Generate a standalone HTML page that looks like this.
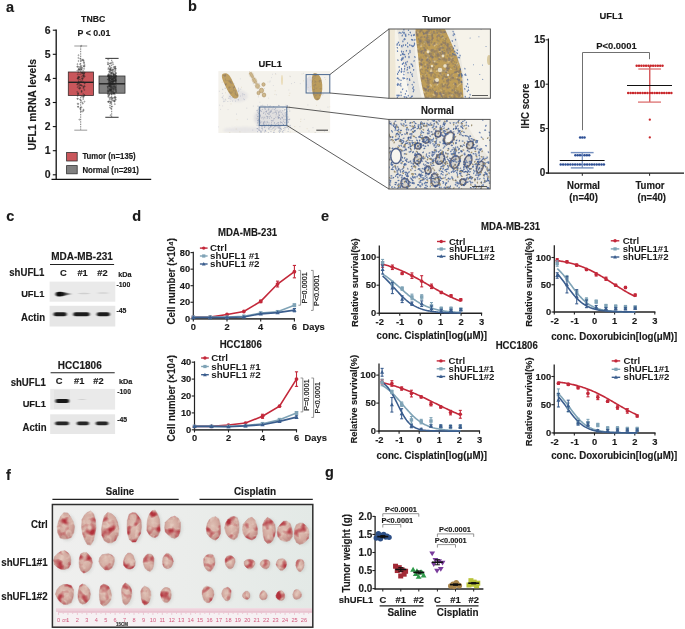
<!DOCTYPE html>
<html><head><meta charset="utf-8"><style>
html,body{margin:0;padding:0;background:#fff;}
body{width:685px;height:629px;overflow:hidden;}
svg{display:block;font-family:"Liberation Sans", sans-serif;filter:blur(0.3px);}
</style></head><body>
<svg width="685" height="629" viewBox="0 0 685 629">
<defs><clipPath id="ovc"><rect x="218.2" y="71.1" width="112.2" height="61.9"/></clipPath>
<clipPath id="tzc"><rect x="389" y="29" width="101.4" height="69.3"/></clipPath>
<clipPath id="nzc"><rect x="389" y="119.4" width="101.2" height="69.6"/></clipPath>
<filter id="bl1" x="-20%" y="-20%" width="140%" height="140%"><feGaussianBlur stdDeviation="0.6"/></filter>
<filter id="bl2" x="-20%" y="-20%" width="140%" height="140%"><feGaussianBlur stdDeviation="1.2"/></filter>
<filter id="ovtex" color-interpolation-filters="sRGB" filterUnits="userSpaceOnUse" x="215" y="68" width="118" height="68"><feGaussianBlur in="SourceGraphic" stdDeviation="0.6" result="b"/><feTurbulence type="fractalNoise" baseFrequency="0.3" numOctaves="2" seed="21" result="n"/><feColorMatrix in="n" type="matrix" values="0 0 0 0 0.55  0 0 0 0 0.47  0 0 0 0 0.38  2.4 0 0 0 -1.15" result="dk"/><feComposite in="dk" in2="b" operator="atop"/></filter>
<filter id="tztex" color-interpolation-filters="sRGB" filterUnits="userSpaceOnUse" x="385" y="25" width="110" height="78"><feGaussianBlur in="SourceGraphic" stdDeviation="0.6" result="b"/><feTurbulence type="fractalNoise" baseFrequency="0.26" numOctaves="2" seed="3" result="n"/><feColorMatrix in="n" type="matrix" values="0 0 0 0 0.52  0 0 0 0 0.45  0 0 0 0 0.40  2.6 0 0 0 -1.2" result="dk"/><feTurbulence type="fractalNoise" baseFrequency="0.3" numOctaves="1" seed="9" result="n2"/><feColorMatrix in="n2" type="matrix" values="0 0 0 0 0.95  0 0 0 0 0.9  0 0 0 0 0.78  0 3 0 0 -1.75" result="lt"/><feComposite in="lt" in2="b" operator="atop" result="c1"/><feComposite in="dk" in2="c1" operator="atop"/></filter>
<filter id="bb" x="-30%" y="-100%" width="160%" height="300%"><feGaussianBlur stdDeviation="0.9 0.6"/></filter>
<filter id="bb2" x="-30%" y="-100%" width="160%" height="300%"><feGaussianBlur stdDeviation="2 1.5"/></filter>
<linearGradient id="comet" x1="0" y1="0" x2="1" y2="0"><stop offset="0" stop-color="#0a0a0a"/><stop offset="0.45" stop-color="#151515"/><stop offset="0.75" stop-color="#8a8a8a"/><stop offset="1" stop-color="#e0e0e0"/></linearGradient>
<linearGradient id="pbg" x1="0" y1="0" x2="1" y2="0"><stop offset="0" stop-color="#efefee"/><stop offset="0.5" stop-color="#ebedeb"/><stop offset="1" stop-color="#e3e9e6"/></linearGradient>
<radialGradient id="tg" cx="0.45" cy="0.4" r="0.6"><stop offset="0" stop-color="#dfc2b6"/><stop offset="0.65" stop-color="#d2a89e"/><stop offset="1" stop-color="#c08c86"/></radialGradient>
<radialGradient id="tg2" cx="0.45" cy="0.4" r="0.6"><stop offset="0" stop-color="#eccfc4"/><stop offset="0.6" stop-color="#e0b8ad"/><stop offset="1" stop-color="#cf9a94"/></radialGradient>
<filter id="tb" x="-30%" y="-30%" width="160%" height="160%"><feGaussianBlur stdDeviation="0.8"/></filter>
<filter id="sh" x="-50%" y="-50%" width="200%" height="200%"><feGaussianBlur stdDeviation="1.5"/></filter>
<clipPath id="phc"><rect x="52.4" y="504.5" width="260.4" height="122.7"/></clipPath>
<filter id="tumtex" color-interpolation-filters="sRGB" filterUnits="userSpaceOnUse" x="52" y="504" width="261" height="104"><feTurbulence type="fractalNoise" baseFrequency="0.11" numOctaves="2" seed="5" result="n"/><feColorMatrix in="n" type="matrix" values="0 0 0 0 0.70  0 0 0 0 0.20  0 0 0 0 0.24  3.6 0 0 0 -1.8" result="red"/><feTurbulence type="fractalNoise" baseFrequency="0.2" numOctaves="2" seed="11" result="n2"/><feColorMatrix in="n2" type="matrix" values="0 0 0 0 0.91  0 0 0 0 0.82  0 0 0 0 0.77  0 2.0 0 0 -0.98" result="hi"/><feComposite in="hi" in2="SourceGraphic" operator="atop" result="a"/><feComposite in="red" in2="a" operator="atop"/></filter></defs>
<rect width="685" height="629" fill="#fff"/>
<text x="6" y="11.6" font-size="14.5" font-weight="bold" text-anchor="start" fill="#1a1a1a" transform="translate(0 -0.7) scale(1 1.06)" stroke="#1a1a1a" stroke-width="0.14">a</text>
<text x="188" y="11.2" font-size="14.5" font-weight="bold" text-anchor="start" fill="#1a1a1a" transform="translate(0 -0.67) scale(1 1.06)" stroke="#1a1a1a" stroke-width="0.14">b</text>
<text x="6.3" y="221" font-size="14.5" font-weight="bold" text-anchor="start" fill="#1a1a1a" transform="translate(0 -13.26) scale(1 1.06)" stroke="#1a1a1a" stroke-width="0.14">c</text>
<text x="132.3" y="221" font-size="14.5" font-weight="bold" text-anchor="start" fill="#1a1a1a" transform="translate(0 -13.26) scale(1 1.06)" stroke="#1a1a1a" stroke-width="0.14">d</text>
<text x="321" y="221" font-size="14.5" font-weight="bold" text-anchor="start" fill="#1a1a1a" transform="translate(0 -13.26) scale(1 1.06)" stroke="#1a1a1a" stroke-width="0.14">e</text>
<text x="6" y="480" font-size="14.5" font-weight="bold" text-anchor="start" fill="#1a1a1a" transform="translate(0 -28.8) scale(1 1.06)" stroke="#1a1a1a" stroke-width="0.14">f</text>
<text x="325" y="477.5" font-size="14.5" font-weight="bold" text-anchor="start" fill="#1a1a1a" transform="translate(0 -28.65) scale(1 1.06)" stroke="#1a1a1a" stroke-width="0.14">g</text>
<line x1="56.2" y1="29.6" x2="56.2" y2="180" stroke="#111" stroke-width="1.3"/>
<line x1="51.5" y1="179.4" x2="151.2" y2="179.4" stroke="#111" stroke-width="1.4"/>
<line x1="52.8" y1="174.8" x2="56.2" y2="174.8" stroke="#111" stroke-width="1.1"/>
<text x="50.7" y="178.5" font-size="10.5" font-weight="bold" text-anchor="end" fill="#1a1a1a" transform="translate(0 -10.71) scale(1 1.06)" stroke="#1a1a1a" stroke-width="0.14">0</text>
<line x1="52.8" y1="150.7" x2="56.2" y2="150.7" stroke="#111" stroke-width="1.1"/>
<text x="50.7" y="154.4" font-size="10.5" font-weight="bold" text-anchor="end" fill="#1a1a1a" transform="translate(0 -9.26) scale(1 1.06)" stroke="#1a1a1a" stroke-width="0.14">1</text>
<line x1="52.8" y1="126.6" x2="56.2" y2="126.6" stroke="#111" stroke-width="1.1"/>
<text x="50.7" y="130.3" font-size="10.5" font-weight="bold" text-anchor="end" fill="#1a1a1a" transform="translate(0 -7.82) scale(1 1.06)" stroke="#1a1a1a" stroke-width="0.14">2</text>
<line x1="52.8" y1="102.5" x2="56.2" y2="102.5" stroke="#111" stroke-width="1.1"/>
<text x="50.7" y="106.2" font-size="10.5" font-weight="bold" text-anchor="end" fill="#1a1a1a" transform="translate(0 -6.37) scale(1 1.06)" stroke="#1a1a1a" stroke-width="0.14">3</text>
<line x1="52.8" y1="78.4" x2="56.2" y2="78.4" stroke="#111" stroke-width="1.1"/>
<text x="50.7" y="82.1" font-size="10.5" font-weight="bold" text-anchor="end" fill="#1a1a1a" transform="translate(0 -4.93) scale(1 1.06)" stroke="#1a1a1a" stroke-width="0.14">4</text>
<line x1="52.8" y1="54.3" x2="56.2" y2="54.3" stroke="#111" stroke-width="1.1"/>
<text x="50.7" y="58" font-size="10.5" font-weight="bold" text-anchor="end" fill="#1a1a1a" transform="translate(0 -3.48) scale(1 1.06)" stroke="#1a1a1a" stroke-width="0.14">5</text>
<line x1="52.8" y1="30.2" x2="56.2" y2="30.2" stroke="#111" stroke-width="1.1"/>
<text x="50.7" y="33.9" font-size="10.5" font-weight="bold" text-anchor="end" fill="#1a1a1a" transform="translate(0 -2.03) scale(1 1.06)" stroke="#1a1a1a" stroke-width="0.14">6</text>
<text x="35.9" y="104.7" font-size="10.3" font-weight="bold" text-anchor="middle" fill="#1a1a1a" transform="translate(35.9 104.7) rotate(-90) scale(1 1.06) translate(-35.9 -104.7)" stroke="#1a1a1a" stroke-width="0.14">UFL1 mRNA levels</text>
<text x="93.2" y="22" font-size="8.7" font-weight="bold" text-anchor="middle" fill="#1a1a1a" transform="translate(0 -1.32) scale(1 1.06)" stroke="#1a1a1a" stroke-width="0.14">TNBC</text>
<text x="94" y="35.8" font-size="8.8" font-weight="bold" text-anchor="middle" fill="#1a1a1a" transform="translate(0 -2.15) scale(1 1.06)" stroke="#1a1a1a" stroke-width="0.14">P &lt; 0.01</text>
<line x1="80.7" y1="46" x2="80.7" y2="130.2" stroke="#333" stroke-width="0.8" stroke-dasharray="0.8 0.9"/>
<line x1="74.3" y1="46" x2="87.2" y2="46" stroke="#aaa" stroke-width="1.2"/>
<line x1="74.3" y1="130.2" x2="87.2" y2="130.2" stroke="#aaa" stroke-width="1.2"/>
<line x1="111.7" y1="58.4" x2="111.7" y2="117.3" stroke="#333" stroke-width="0.8" stroke-dasharray="0.8 0.9"/>
<line x1="105.3" y1="58.4" x2="118.6" y2="58.4" stroke="#444" stroke-width="1.1"/>
<line x1="105.3" y1="117.3" x2="118.6" y2="117.3" stroke="#444" stroke-width="1.1"/>
<rect x="68.3" y="72" width="25.2" height="23.4" fill="#c9565b" stroke="#3a2a2a" stroke-width="0.8"/>
<rect x="99" y="76" width="26" height="17.2" fill="#808080" stroke="#333" stroke-width="0.8"/>
<g fill="none" stroke="#2a2a2a" stroke-width="0.35">
<circle cx="82.15" cy="85.84" r="0.55"/>
<circle cx="77.75" cy="74.37" r="0.55"/>
<circle cx="77.64" cy="95.91" r="0.55"/>
<circle cx="81.06" cy="85.2" r="0.55"/>
<circle cx="77.73" cy="66.52" r="0.55"/>
<circle cx="77.89" cy="78.3" r="0.55"/>
<circle cx="78.14" cy="106.91" r="0.55"/>
<circle cx="78.9" cy="69.24" r="0.55"/>
<circle cx="81.59" cy="107.29" r="0.55"/>
<circle cx="80.21" cy="108.07" r="0.55"/>
<circle cx="83.72" cy="77.45" r="0.55"/>
<circle cx="79.4" cy="82.7" r="0.55"/>
<circle cx="79.54" cy="77.4" r="0.55"/>
<circle cx="83.4" cy="76.13" r="0.55"/>
<circle cx="82.06" cy="73.7" r="0.55"/>
<circle cx="80.03" cy="64.13" r="0.55"/>
<circle cx="77.65" cy="87.16" r="0.55"/>
<circle cx="78.77" cy="83.61" r="0.55"/>
<circle cx="79.59" cy="88.7" r="0.55"/>
<circle cx="81.65" cy="96.31" r="0.55"/>
<circle cx="83.24" cy="94.09" r="0.55"/>
<circle cx="82.51" cy="78.36" r="0.55"/>
<circle cx="81.19" cy="81.29" r="0.55"/>
<circle cx="83.85" cy="62.5" r="0.55"/>
<circle cx="84.65" cy="83.6" r="0.55"/>
<circle cx="78.1" cy="94.23" r="0.55"/>
<circle cx="78.36" cy="103.9" r="0.55"/>
<circle cx="80.92" cy="69.65" r="0.55"/>
<circle cx="83.01" cy="60.49" r="0.55"/>
<circle cx="81.55" cy="76.6" r="0.55"/>
<circle cx="82.48" cy="72.82" r="0.55"/>
<circle cx="81.72" cy="91.16" r="0.55"/>
<circle cx="83.58" cy="96.47" r="0.55"/>
<circle cx="84.38" cy="89.95" r="0.55"/>
<circle cx="77.66" cy="103.8" r="0.55"/>
<circle cx="82.53" cy="78.44" r="0.55"/>
<circle cx="83.45" cy="110.4" r="0.55"/>
<circle cx="79.36" cy="119.64" r="0.55"/>
<circle cx="77.37" cy="98.75" r="0.55"/>
<circle cx="80.71" cy="67.41" r="0.55"/>
<circle cx="77.65" cy="78.34" r="0.55"/>
<circle cx="83.04" cy="75.52" r="0.55"/>
<circle cx="80.17" cy="74.27" r="0.55"/>
<circle cx="83.82" cy="73.83" r="0.55"/>
<circle cx="81.38" cy="67.74" r="0.55"/>
<circle cx="83.91" cy="74.1" r="0.55"/>
<circle cx="79.32" cy="69.43" r="0.55"/>
<circle cx="80.36" cy="109.08" r="0.55"/>
<circle cx="84.48" cy="101.61" r="0.55"/>
<circle cx="78.35" cy="57.96" r="0.55"/>
<circle cx="78.97" cy="77.16" r="0.55"/>
<circle cx="80.89" cy="72.31" r="0.55"/>
<circle cx="77.23" cy="91.9" r="0.55"/>
<circle cx="80.38" cy="88.21" r="0.55"/>
<circle cx="84.44" cy="95.17" r="0.55"/>
<circle cx="82.45" cy="67.87" r="0.55"/>
<circle cx="82.34" cy="102.63" r="0.55"/>
<circle cx="77.61" cy="84.03" r="0.55"/>
<circle cx="83.85" cy="61.02" r="0.55"/>
<circle cx="83.26" cy="97.36" r="0.55"/>
<circle cx="77.99" cy="93.77" r="0.55"/>
<circle cx="82.02" cy="72.58" r="0.55"/>
<circle cx="78.79" cy="76.86" r="0.55"/>
<circle cx="78.43" cy="79.89" r="0.55"/>
<circle cx="77.2" cy="84.65" r="0.55"/>
<circle cx="78.35" cy="77.87" r="0.55"/>
<circle cx="77.39" cy="70.6" r="0.55"/>
<circle cx="83.84" cy="73.56" r="0.55"/>
<circle cx="79.12" cy="88.4" r="0.55"/>
<circle cx="79.84" cy="87.58" r="0.55"/>
<circle cx="83.65" cy="87.04" r="0.55"/>
<circle cx="84.75" cy="76.25" r="0.55"/>
<circle cx="77.85" cy="98.81" r="0.55"/>
<circle cx="77.98" cy="78.37" r="0.55"/>
<circle cx="83.5" cy="88.46" r="0.55"/>
<circle cx="78.43" cy="72.23" r="0.55"/>
<circle cx="81.21" cy="45.87" r="0.55"/>
<circle cx="78.31" cy="76.71" r="0.55"/>
<circle cx="81.21" cy="85.39" r="0.55"/>
<circle cx="84.64" cy="82.95" r="0.55"/>
<circle cx="79.18" cy="66.94" r="0.55"/>
<circle cx="79.99" cy="99.48" r="0.55"/>
<circle cx="81.25" cy="69.22" r="0.55"/>
<circle cx="83.12" cy="59.74" r="0.55"/>
<circle cx="83.37" cy="87.11" r="0.55"/>
<circle cx="84.69" cy="72.7" r="0.55"/>
<circle cx="83.42" cy="65.75" r="0.55"/>
<circle cx="82.82" cy="103.64" r="0.55"/>
<circle cx="79.9" cy="79.39" r="0.55"/>
<circle cx="77.42" cy="64.16" r="0.55"/>
<circle cx="79.17" cy="70.1" r="0.55"/>
<circle cx="82.46" cy="79.9" r="0.55"/>
<circle cx="84.32" cy="66.35" r="0.55"/>
<circle cx="84.71" cy="86.41" r="0.55"/>
<circle cx="78.88" cy="68.35" r="0.55"/>
<circle cx="78.92" cy="85.99" r="0.55"/>
<circle cx="81.94" cy="78.69" r="0.55"/>
<circle cx="84.04" cy="72.47" r="0.55"/>
<circle cx="82.16" cy="72.83" r="0.55"/>
<circle cx="83.28" cy="96.41" r="0.55"/>
<circle cx="84.11" cy="63.09" r="0.55"/>
<circle cx="83.15" cy="70.86" r="0.55"/>
<circle cx="78.56" cy="82" r="0.55"/>
<circle cx="83.2" cy="99.05" r="0.55"/>
<circle cx="84.58" cy="95.32" r="0.55"/>
<circle cx="80.21" cy="58.7" r="0.55"/>
<circle cx="82.71" cy="111.48" r="0.55"/>
<circle cx="78.49" cy="61" r="0.55"/>
<circle cx="84.08" cy="76.04" r="0.55"/>
<circle cx="83.33" cy="75.89" r="0.55"/>
<circle cx="84.65" cy="65.04" r="0.55"/>
<circle cx="82.2" cy="59.79" r="0.55"/>
<circle cx="78.2" cy="93.13" r="0.55"/>
<circle cx="77.31" cy="66.8" r="0.55"/>
<circle cx="81.2" cy="60.73" r="0.55"/>
<circle cx="84.3" cy="85.95" r="0.55"/>
<circle cx="83.48" cy="109.72" r="0.55"/>
<circle cx="78.8" cy="69.78" r="0.55"/>
<circle cx="79.03" cy="82.16" r="0.55"/>
<circle cx="81.66" cy="69.57" r="0.55"/>
<circle cx="78.2" cy="82.93" r="0.55"/>
<circle cx="84.12" cy="66.47" r="0.55"/>
<circle cx="81.63" cy="92.05" r="0.55"/>
<circle cx="84.07" cy="68.87" r="0.55"/>
<circle cx="81.01" cy="111.34" r="0.55"/>
<circle cx="81.24" cy="66.04" r="0.55"/>
<circle cx="80.54" cy="84.89" r="0.55"/>
<circle cx="78.59" cy="82.44" r="0.55"/>
<circle cx="78.51" cy="55.25" r="0.55"/>
<circle cx="80.8" cy="81.35" r="0.55"/>
<circle cx="79.68" cy="84.97" r="0.55"/>
<circle cx="81.14" cy="100.84" r="0.55"/>
<circle cx="78.01" cy="106.61" r="0.55"/>
<circle cx="81.46" cy="90.95" r="0.55"/>
<circle cx="83.07" cy="81.9" r="0.55"/>
<circle cx="112.06" cy="76.33" r="0.55"/>
<circle cx="115.46" cy="98.02" r="0.55"/>
<circle cx="111.52" cy="89.55" r="0.55"/>
<circle cx="112.1" cy="91.97" r="0.55"/>
<circle cx="113.62" cy="90.76" r="0.55"/>
<circle cx="111.82" cy="94.5" r="0.55"/>
<circle cx="115.71" cy="80.37" r="0.55"/>
<circle cx="115.71" cy="89.58" r="0.55"/>
<circle cx="109.98" cy="101.49" r="0.55"/>
<circle cx="114.86" cy="104.12" r="0.55"/>
<circle cx="108.95" cy="91.72" r="0.55"/>
<circle cx="108.41" cy="76.56" r="0.55"/>
<circle cx="109.82" cy="76.86" r="0.55"/>
<circle cx="114.39" cy="71.49" r="0.55"/>
<circle cx="115.34" cy="77.66" r="0.55"/>
<circle cx="113.35" cy="75.49" r="0.55"/>
<circle cx="109" cy="71.71" r="0.55"/>
<circle cx="109.64" cy="65.93" r="0.55"/>
<circle cx="115.8" cy="99.8" r="0.55"/>
<circle cx="116.11" cy="92.2" r="0.55"/>
<circle cx="114.79" cy="77.39" r="0.55"/>
<circle cx="112.13" cy="78.56" r="0.55"/>
<circle cx="110.65" cy="75.44" r="0.55"/>
<circle cx="113.87" cy="81.02" r="0.55"/>
<circle cx="107.96" cy="76.14" r="0.55"/>
<circle cx="107.95" cy="93.01" r="0.55"/>
<circle cx="110.58" cy="86.99" r="0.55"/>
<circle cx="108.34" cy="91.51" r="0.55"/>
<circle cx="116.07" cy="91.41" r="0.55"/>
<circle cx="108.68" cy="77.86" r="0.55"/>
<circle cx="110.03" cy="107.45" r="0.55"/>
<circle cx="110.07" cy="68.28" r="0.55"/>
<circle cx="108.89" cy="79.78" r="0.55"/>
<circle cx="114.68" cy="101.51" r="0.55"/>
<circle cx="109.97" cy="74.24" r="0.55"/>
<circle cx="112.59" cy="71.56" r="0.55"/>
<circle cx="113.68" cy="67.13" r="0.55"/>
<circle cx="113.58" cy="81.03" r="0.55"/>
<circle cx="111.37" cy="82.02" r="0.55"/>
<circle cx="113.13" cy="64.28" r="0.55"/>
<circle cx="114.53" cy="74.2" r="0.55"/>
<circle cx="108.36" cy="68.1" r="0.55"/>
<circle cx="115.05" cy="74.64" r="0.55"/>
<circle cx="112.45" cy="91.69" r="0.55"/>
<circle cx="115.58" cy="81.31" r="0.55"/>
<circle cx="112.23" cy="84.24" r="0.55"/>
<circle cx="109.8" cy="78.91" r="0.55"/>
<circle cx="108.22" cy="79.5" r="0.55"/>
<circle cx="109.49" cy="80.25" r="0.55"/>
<circle cx="114.18" cy="86.67" r="0.55"/>
<circle cx="110.24" cy="76.47" r="0.55"/>
<circle cx="110.71" cy="89.43" r="0.55"/>
<circle cx="107.95" cy="83.71" r="0.55"/>
<circle cx="113.96" cy="83.71" r="0.55"/>
<circle cx="112.43" cy="82.09" r="0.55"/>
<circle cx="115.65" cy="79.84" r="0.55"/>
<circle cx="108.69" cy="74.05" r="0.55"/>
<circle cx="111.96" cy="79.61" r="0.55"/>
<circle cx="114.81" cy="92.55" r="0.55"/>
<circle cx="113.58" cy="92.22" r="0.55"/>
<circle cx="116.05" cy="76.93" r="0.55"/>
<circle cx="113.74" cy="93.22" r="0.55"/>
<circle cx="113.14" cy="69.25" r="0.55"/>
<circle cx="108.26" cy="90.69" r="0.55"/>
<circle cx="108.89" cy="78.93" r="0.55"/>
<circle cx="109.95" cy="70.11" r="0.55"/>
<circle cx="109.17" cy="77.23" r="0.55"/>
<circle cx="115.11" cy="68.55" r="0.55"/>
<circle cx="113.43" cy="74.81" r="0.55"/>
<circle cx="110.26" cy="85.06" r="0.55"/>
<circle cx="111.66" cy="77.02" r="0.55"/>
<circle cx="110.01" cy="78.24" r="0.55"/>
<circle cx="115.88" cy="75.38" r="0.55"/>
<circle cx="109.85" cy="72.35" r="0.55"/>
<circle cx="115.91" cy="85.67" r="0.55"/>
<circle cx="107.81" cy="86.85" r="0.55"/>
<circle cx="111.01" cy="75.7" r="0.55"/>
<circle cx="109.49" cy="94.39" r="0.55"/>
<circle cx="112.04" cy="81.98" r="0.55"/>
<circle cx="108.55" cy="76.53" r="0.55"/>
<circle cx="111.16" cy="83.48" r="0.55"/>
<circle cx="110.36" cy="81.82" r="0.55"/>
<circle cx="109.76" cy="83.2" r="0.55"/>
<circle cx="114.1" cy="93.36" r="0.55"/>
<circle cx="113.32" cy="89.46" r="0.55"/>
<circle cx="111.07" cy="87.69" r="0.55"/>
<circle cx="110.54" cy="102.1" r="0.55"/>
<circle cx="113.88" cy="78.51" r="0.55"/>
<circle cx="113.2" cy="84.2" r="0.55"/>
<circle cx="115.29" cy="66.96" r="0.55"/>
<circle cx="113.07" cy="78.98" r="0.55"/>
<circle cx="108.97" cy="85.4" r="0.55"/>
<circle cx="112.2" cy="100.37" r="0.55"/>
<circle cx="114.56" cy="101.08" r="0.55"/>
<circle cx="114.74" cy="84.18" r="0.55"/>
<circle cx="113.54" cy="100.42" r="0.55"/>
<circle cx="113.62" cy="93.46" r="0.55"/>
<circle cx="108.92" cy="83.41" r="0.55"/>
<circle cx="110.83" cy="81.42" r="0.55"/>
<circle cx="112.49" cy="69.94" r="0.55"/>
<circle cx="113.07" cy="73.04" r="0.55"/>
<circle cx="111.91" cy="93.41" r="0.55"/>
<circle cx="107.83" cy="93.56" r="0.55"/>
<circle cx="112.02" cy="79.21" r="0.55"/>
<circle cx="112.3" cy="98.23" r="0.55"/>
<circle cx="113.99" cy="85.53" r="0.55"/>
<circle cx="109.92" cy="86.55" r="0.55"/>
<circle cx="113.93" cy="77.28" r="0.55"/>
<circle cx="109.52" cy="80.46" r="0.55"/>
<circle cx="111.95" cy="85.3" r="0.55"/>
<circle cx="111.01" cy="108.63" r="0.55"/>
<circle cx="114.24" cy="97.48" r="0.55"/>
<circle cx="112.98" cy="81.87" r="0.55"/>
<circle cx="109.04" cy="86" r="0.55"/>
<circle cx="109.93" cy="86.58" r="0.55"/>
<circle cx="112.57" cy="84.03" r="0.55"/>
<circle cx="107.9" cy="91.5" r="0.55"/>
<circle cx="113.44" cy="76.98" r="0.55"/>
<circle cx="113.61" cy="81.01" r="0.55"/>
<circle cx="112.14" cy="87.12" r="0.55"/>
<circle cx="111.7" cy="90.48" r="0.55"/>
<circle cx="115.31" cy="88.2" r="0.55"/>
<circle cx="109.47" cy="82.74" r="0.55"/>
<circle cx="107.95" cy="62.42" r="0.55"/>
<circle cx="111.66" cy="86.65" r="0.55"/>
<circle cx="111.58" cy="73.48" r="0.55"/>
<circle cx="110.06" cy="105.46" r="0.55"/>
<circle cx="109.57" cy="78.18" r="0.55"/>
<circle cx="112.68" cy="62.3" r="0.55"/>
<circle cx="115.8" cy="76.68" r="0.55"/>
<circle cx="108.91" cy="75.03" r="0.55"/>
<circle cx="115.25" cy="79.04" r="0.55"/>
<circle cx="113.71" cy="93.58" r="0.55"/>
<circle cx="111.88" cy="81.42" r="0.55"/>
<circle cx="108.01" cy="64.28" r="0.55"/>
<circle cx="111.59" cy="73.05" r="0.55"/>
<circle cx="110.34" cy="83.46" r="0.55"/>
<circle cx="110.46" cy="78.37" r="0.55"/>
<circle cx="114.86" cy="77.2" r="0.55"/>
<circle cx="114.85" cy="68.44" r="0.55"/>
<circle cx="108.81" cy="83.53" r="0.55"/>
<circle cx="115.37" cy="70.75" r="0.55"/>
<circle cx="110.23" cy="90.16" r="0.55"/>
<circle cx="116.19" cy="90.06" r="0.55"/>
<circle cx="112.75" cy="77.12" r="0.55"/>
<circle cx="110.11" cy="89.91" r="0.55"/>
<circle cx="108.21" cy="76.27" r="0.55"/>
<circle cx="110.2" cy="69.76" r="0.55"/>
<circle cx="115.66" cy="73.34" r="0.55"/>
<circle cx="112.09" cy="83.67" r="0.55"/>
<circle cx="109.39" cy="76.5" r="0.55"/>
<circle cx="115.23" cy="99.73" r="0.55"/>
<circle cx="114.62" cy="67.34" r="0.55"/>
<circle cx="115.7" cy="97.49" r="0.55"/>
<circle cx="112.41" cy="98.55" r="0.55"/>
<circle cx="113.95" cy="84.26" r="0.55"/>
<circle cx="111.59" cy="86.57" r="0.55"/>
<circle cx="110.2" cy="83.48" r="0.55"/>
<circle cx="108.21" cy="96.87" r="0.55"/>
<circle cx="111.77" cy="79.42" r="0.55"/>
<circle cx="110.69" cy="85.82" r="0.55"/>
<circle cx="116" cy="88.14" r="0.55"/>
<circle cx="109.99" cy="69.36" r="0.55"/>
<circle cx="112.48" cy="88.02" r="0.55"/>
<circle cx="111.11" cy="90.14" r="0.55"/>
<circle cx="109.55" cy="81" r="0.55"/>
<circle cx="115.41" cy="78.98" r="0.55"/>
<circle cx="115.41" cy="90.16" r="0.55"/>
<circle cx="116.17" cy="83.58" r="0.55"/>
<circle cx="109.42" cy="88.48" r="0.55"/>
<circle cx="108.56" cy="82.15" r="0.55"/>
<circle cx="109.81" cy="85.89" r="0.55"/>
<circle cx="109.97" cy="80.35" r="0.55"/>
<circle cx="114.1" cy="101.03" r="0.55"/>
<circle cx="111.27" cy="91.81" r="0.55"/>
<circle cx="110.97" cy="93.27" r="0.55"/>
<circle cx="110.64" cy="77.95" r="0.55"/>
<circle cx="115.93" cy="76.87" r="0.55"/>
<circle cx="108.86" cy="80.9" r="0.55"/>
<circle cx="115.05" cy="96.61" r="0.55"/>
<circle cx="109.61" cy="83.98" r="0.55"/>
<circle cx="111.16" cy="84.61" r="0.55"/>
<circle cx="111.55" cy="76.84" r="0.55"/>
<circle cx="115.13" cy="66.64" r="0.55"/>
<circle cx="107.98" cy="88.78" r="0.55"/>
<circle cx="115.32" cy="69.6" r="0.55"/>
<circle cx="111.78" cy="80.8" r="0.55"/>
<circle cx="111.09" cy="83.85" r="0.55"/>
<circle cx="115.59" cy="83.79" r="0.55"/>
<circle cx="115.97" cy="75.47" r="0.55"/>
<circle cx="109.89" cy="99.72" r="0.55"/>
<circle cx="112.19" cy="79.6" r="0.55"/>
<circle cx="113.53" cy="80.35" r="0.55"/>
<circle cx="113.24" cy="70.03" r="0.55"/>
<circle cx="114.22" cy="88.97" r="0.55"/>
<circle cx="108.13" cy="94.89" r="0.55"/>
<circle cx="114.37" cy="80.63" r="0.55"/>
<circle cx="113.22" cy="81.45" r="0.55"/>
<circle cx="110.35" cy="63.25" r="0.55"/>
<circle cx="113.14" cy="78.86" r="0.55"/>
<circle cx="113.67" cy="78.68" r="0.55"/>
<circle cx="112.21" cy="81.04" r="0.55"/>
<circle cx="112.7" cy="81.44" r="0.55"/>
<circle cx="112.85" cy="88.67" r="0.55"/>
<circle cx="107.89" cy="79.49" r="0.55"/>
<circle cx="115.86" cy="86.94" r="0.55"/>
<circle cx="113.21" cy="74.05" r="0.55"/>
<circle cx="109.77" cy="75.95" r="0.55"/>
<circle cx="109.88" cy="90.64" r="0.55"/>
<circle cx="110.38" cy="69.83" r="0.55"/>
<circle cx="107.98" cy="87.21" r="0.55"/>
<circle cx="111.33" cy="97.42" r="0.55"/>
<circle cx="109.96" cy="83.56" r="0.55"/>
<circle cx="109.71" cy="94.05" r="0.55"/>
<circle cx="108.09" cy="101.81" r="0.55"/>
<circle cx="113.53" cy="88.73" r="0.55"/>
<circle cx="109.46" cy="75.56" r="0.55"/>
<circle cx="112.04" cy="79.33" r="0.55"/>
<circle cx="109.52" cy="98.06" r="0.55"/>
<circle cx="114.69" cy="75.93" r="0.55"/>
<circle cx="109.74" cy="85.19" r="0.55"/>
<circle cx="110.28" cy="80.94" r="0.55"/>
<circle cx="115.8" cy="68.47" r="0.55"/>
<circle cx="109.68" cy="89.6" r="0.55"/>
<circle cx="111.3" cy="83.55" r="0.55"/>
<circle cx="109.03" cy="95.03" r="0.55"/>
<circle cx="111.11" cy="102.94" r="0.55"/>
<circle cx="108.99" cy="77.99" r="0.55"/>
<circle cx="108.24" cy="59.61" r="0.55"/>
<circle cx="115.34" cy="75.19" r="0.55"/>
<circle cx="115.22" cy="80.32" r="0.55"/>
<circle cx="115.63" cy="87.14" r="0.55"/>
<circle cx="110.57" cy="115.25" r="0.55"/>
<circle cx="114.07" cy="75.24" r="0.55"/>
<circle cx="108.07" cy="63.97" r="0.55"/>
<circle cx="110.94" cy="88.28" r="0.55"/>
<circle cx="110.59" cy="91.38" r="0.55"/>
<circle cx="110.15" cy="83.36" r="0.55"/>
<circle cx="110.75" cy="83.1" r="0.55"/>
<circle cx="115.9" cy="79.18" r="0.55"/>
<circle cx="109.54" cy="85" r="0.55"/>
<circle cx="114.7" cy="94.26" r="0.55"/>
<circle cx="111.43" cy="70.37" r="0.55"/>
<circle cx="110.93" cy="73.82" r="0.55"/>
<circle cx="115.52" cy="80.54" r="0.55"/>
<circle cx="115.33" cy="80.65" r="0.55"/>
<circle cx="108.05" cy="75.54" r="0.55"/>
<circle cx="114.24" cy="97.88" r="0.55"/>
<circle cx="108.14" cy="74.8" r="0.55"/>
<circle cx="115.53" cy="80.49" r="0.55"/>
<circle cx="109.96" cy="82.99" r="0.55"/>
<circle cx="110.65" cy="84.04" r="0.55"/>
<circle cx="110.09" cy="103.29" r="0.55"/>
<circle cx="110" cy="71.46" r="0.55"/>
<circle cx="113.82" cy="87.04" r="0.55"/>
<circle cx="107.83" cy="86.69" r="0.55"/>
<circle cx="114.15" cy="76.98" r="0.55"/>
<circle cx="115.72" cy="72.47" r="0.55"/>
<circle cx="108" cy="90.21" r="0.55"/>
<circle cx="115.84" cy="82.65" r="0.55"/>
<circle cx="115.81" cy="73.36" r="0.55"/>
<circle cx="111.41" cy="88.97" r="0.55"/>
<circle cx="111.95" cy="79.15" r="0.55"/>
<circle cx="114.54" cy="78.46" r="0.55"/>
<circle cx="114" cy="86.24" r="0.55"/>
<circle cx="112.9" cy="76.74" r="0.55"/>
<circle cx="110.55" cy="97.85" r="0.55"/>
<circle cx="114.37" cy="87.38" r="0.55"/>
<circle cx="108.46" cy="75.84" r="0.55"/>
<circle cx="109.88" cy="78.72" r="0.55"/>
<circle cx="108.34" cy="69.22" r="0.55"/>
<circle cx="110.54" cy="72.35" r="0.55"/>
<circle cx="116.03" cy="81.25" r="0.55"/>
<circle cx="110.03" cy="63.48" r="0.55"/>
<circle cx="108.51" cy="101.88" r="0.55"/>
<circle cx="113.76" cy="74.86" r="0.55"/>
<circle cx="111.55" cy="77.58" r="0.55"/>
<circle cx="113.01" cy="82.76" r="0.55"/>
<circle cx="113.46" cy="74.24" r="0.55"/>
<circle cx="113.38" cy="83.93" r="0.55"/>
<circle cx="108.82" cy="101.45" r="0.55"/>
<circle cx="112.56" cy="79.57" r="0.55"/>
<circle cx="110.93" cy="90.13" r="0.55"/>
<circle cx="109.88" cy="84.16" r="0.55"/>
<circle cx="109.86" cy="89.79" r="0.55"/>
<circle cx="112.66" cy="72.85" r="0.55"/>
<circle cx="110.54" cy="68.09" r="0.55"/>
<circle cx="112.06" cy="106.44" r="0.55"/>
<circle cx="109.74" cy="66.31" r="0.55"/>
<circle cx="116.12" cy="78.92" r="0.55"/>
<circle cx="108.66" cy="96.14" r="0.55"/>
</g>
<line x1="68.3" y1="82.3" x2="93.5" y2="82.3" stroke="#222" stroke-width="1.4"/>
<line x1="99" y1="83.8" x2="125" y2="83.8" stroke="#222" stroke-width="1.4"/>
<rect x="66.6" y="152.4" width="10.6" height="8.6" fill="#c9565b" stroke="#333" stroke-width="0.8"/>
<rect x="66.6" y="165.6" width="10.6" height="8.2" fill="#808080" stroke="#333" stroke-width="0.8"/>
<text x="82.4" y="159.3" font-size="7.8" font-weight="bold" text-anchor="start" fill="#1a1a1a" transform="translate(0 -19.12) scale(1 1.12)" stroke="#1a1a1a" stroke-width="0.14">Tumor (n=135)</text>
<text x="82.4" y="172.6" font-size="7.8" font-weight="bold" text-anchor="start" fill="#1a1a1a" transform="translate(0 -20.71) scale(1 1.12)" stroke="#1a1a1a" stroke-width="0.14">Normal (n=291)</text>
<text x="270.2" y="66.6" font-size="9.4" font-weight="bold" text-anchor="middle" fill="#1a1a1a" transform="translate(0 -4) scale(1 1.06)" stroke="#1a1a1a" stroke-width="0.14">UFL1</text>
<text x="436.5" y="21.8" font-size="9.4" font-weight="bold" text-anchor="middle" fill="#1a1a1a" transform="translate(0 -1.31) scale(1 1.06)" stroke="#1a1a1a" stroke-width="0.14">Tumor</text>
<text x="437.4" y="114.4" font-size="9.6" font-weight="bold" text-anchor="middle" fill="#1a1a1a" transform="translate(0 -6.86) scale(1 1.06)" stroke="#1a1a1a" stroke-width="0.14">Normal</text>
<g clip-path="url(#ovc)">
<rect x="218.2" y="71.1" width="112.2" height="61.9" fill="#f4f2ec" stroke="none" stroke-width="1"/>
<ellipse cx="271" cy="118" rx="17" ry="11" fill="#d2d2d8" opacity="0.6" filter="url(#bl2)"/>
<ellipse cx="238" cy="96" rx="10" ry="6" fill="#dedce0" opacity="0.6" filter="url(#bl2)"/>
<ellipse cx="245" cy="130" rx="22" ry="3" fill="#dedde2" opacity="0.6" filter="url(#bl2)"/>
<ellipse cx="310" cy="84" rx="4" ry="8" fill="#dcdce4" opacity="0.9" filter="url(#bl1)"/>
<g filter="url(#ovtex)">
<path d="M222.5,74 C226,72 229,74 231,78 C234,84 237,90 238.5,95 C239,98 236,99.5 233.5,98 C230,95 227,90 224.5,84 C222.5,80 221,76 222.5,74z" fill="#bf9f60"/>
<path d="M313.5,73.5 C317,72.5 320,75 321.5,80 C323,86 322.5,93 320,98.5 C318.5,101 315.5,101 314,98 C312,93 311.5,86 311.8,80 C312,77 312.3,74.5 313.5,73.5z" fill="#bb9c5c"/>
</g>
<ellipse cx="251.5" cy="75" rx="1.4" ry="3.2" transform="rotate(-30 251.5 75)" fill="#cfb98e" stroke="#a98d5e" stroke-width="0.6" filter="url(#bl1)"/>
<ellipse cx="254.5" cy="80.5" rx="1.7" ry="3.2" transform="rotate(-30 254.5 80.5)" fill="#cfb98e" stroke="#a98d5e" stroke-width="0.6" filter="url(#bl1)"/>
<ellipse cx="257.5" cy="86" rx="2.0" ry="2.6" transform="rotate(-20 257.5 86)" fill="#cfb98e" stroke="#a98d5e" stroke-width="0.6" filter="url(#bl1)"/>
<ellipse cx="261.5" cy="90.5" rx="2.1" ry="2.3" transform="rotate(0 261.5 90.5)" fill="#cfb98e" stroke="#a98d5e" stroke-width="0.6" filter="url(#bl1)"/>
<ellipse cx="264" cy="95" rx="1.8" ry="2" transform="rotate(0 264 95)" fill="#cfb98e" stroke="#a98d5e" stroke-width="0.6" filter="url(#bl1)"/>
<ellipse cx="263.5" cy="84.5" rx="1.6" ry="1.8" transform="rotate(0 263.5 84.5)" fill="#cfb98e" stroke="#a98d5e" stroke-width="0.6" filter="url(#bl1)"/>
<ellipse cx="258.5" cy="93" rx="1.5" ry="1.8" transform="rotate(0 258.5 93)" fill="#cfb98e" stroke="#a98d5e" stroke-width="0.6" filter="url(#bl1)"/>
<ellipse cx="282" cy="80" rx="0.9" ry="5" fill="#e6d4a8" opacity="0.8"/>
<path d="M271.65 121.78h0M312.98 127.69h0M222.56 89.21h0M231.47 82.75h0M327.95 107.16h0M323.11 94.08h0M315.87 98.85h0M247.37 119.22h0M324.86 77.56h0M285.36 109.44h0M242.59 93.86h0M233.97 83.65h0M246.81 108.16h0M291.64 83.61h0M219.29 91.29h0M294.65 82.48h0M253.28 83.61h0M307.87 104.98h0M225.15 77.29h0M262.67 105.11h0M290.23 76.65h0M236.5 114.12h0M264.31 88.56h0M252.76 130.1h0M253.3 106.12h0M258.36 96.82h0M315.66 132.79h0M259.11 83.23h0M300.27 83.63h0M218.66 126.9h0M265.88 121.86h0M263.9 125.74h0M270.08 81.08h0M219.68 105.2h0M290.4 127.41h0" stroke="#9098b0" stroke-width="0.8" stroke-linecap="round" fill="none" opacity="0.45"/>
<path d="M228.06 109.58h0M259.91 102.28h0M234.49 88.56h0M276.89 128.38h0M230.29 101.41h0M308.94 130.95h0M240.3 78.85h0M324.57 131.48h0M272.55 74.31h0M322.66 95.05h0M320.18 109.46h0M311.17 80.94h0M306.8 84.77h0M263.71 123.47h0M311.7 82.34h0M242.65 95.78h0M276.52 94.78h0M231.91 86.32h0M299.91 126.63h0M222.64 105.87h0M303.59 73.36h0M312.72 78.3h0M285.75 105.1h0M288.86 89.99h0M265.47 107.12h0M266.11 111.85h0M268.49 98.18h0M220.64 109.37h0M273.31 85.59h0M304.28 119.36h0M269.79 82.13h0M271.47 77.64h0M232.52 97.7h0M228.36 98.4h0M275.65 73.53h0" stroke="#a8acc0" stroke-width="0.8" stroke-linecap="round" fill="none" opacity="0.45"/>
<path d="M289.92 76.1h0M300.88 119.21h0M275.8 74.36h0M274.94 94.43h0M325.45 79.44h0M314.85 132.76h0M300.73 121.53h0M239.89 131.87h0M273.58 130.31h0M321.51 81.24h0M307.09 128.7h0M225.4 92.76h0M303.45 80.84h0M319.31 88.05h0M310.17 79.9h0M274.75 128.03h0M241.54 87.3h0M275.18 90.78h0M222.16 82.29h0M236.22 129.06h0M294.8 126.52h0M237.07 119.66h0M231 103.9h0M289.9 93.31h0M316.64 105.42h0M283.54 125.72h0M229.82 132.56h0M289.16 95.44h0M308.14 87.41h0M329.93 106.8h0M258.71 118.41h0M267.98 81.96h0M302.03 73.99h0M310.64 86.73h0M290.23 132.01h0" stroke="#c8b488" stroke-width="0.8" stroke-linecap="round" fill="none" opacity="0.45"/>
<path d="M276.92 123.58h0M267.63 105.05h0M258.15 109.18h0M277.95 117.1h0M274.43 130.08h0M261.49 111.36h0M279.21 105.62h0M257.09 114.94h0M260.62 115h0M264.62 121.34h0M277.03 110.72h0M278.21 118.3h0M261.58 131.22h0M265.28 109.18h0M260.26 122.87h0M286.62 126.9h0M270.67 112.4h0M257.39 123.06h0M276.12 114.81h0M278.95 117.43h0M288.86 125.54h0M265.45 130.3h0M258.5 119.88h0M270.8 111.65h0M258.98 126.81h0M257.42 120.43h0M288.99 108.98h0M263.78 122.03h0M274.24 122.96h0M284.65 109.89h0M267.52 113.41h0M258.65 129.9h0M283.62 125.03h0M257.22 128.64h0M282.34 118.03h0M282.22 117.67h0M264.68 107.95h0M264.9 106.09h0M268.41 125.99h0M280.63 128.67h0M281.2 112.45h0M275.83 117.21h0M283.81 119.65h0M266.02 122.98h0M289.81 111.08h0M286.92 105.43h0M265.85 111.61h0M282.29 131.45h0M282.37 114.15h0M286.93 114.2h0M265.13 130.41h0M278.44 124.4h0M279.62 132.41h0M272.96 128.51h0M280.72 129.01h0M271.87 125.29h0M276.39 113.62h0M264.21 122.43h0M259.65 130.5h0M261.92 105.75h0M260.63 131.01h0M268.73 108.97h0M257.98 106.17h0M280.55 122.75h0M280.7 125.63h0M259.24 121.53h0M269.36 127.89h0M284.87 129.96h0M259.24 129.3h0M288.09 131.44h0M260.64 110.76h0M260.81 105.96h0M285.82 127.74h0M278.56 128.1h0M278.47 113.05h0M260.4 107.74h0M282.75 110.74h0M267.85 116.87h0M257.71 112.19h0M266.61 125.04h0M269.51 113.98h0M289.78 119.1h0M285.95 122.31h0M258.05 116.56h0M271.84 126.64h0M268.79 124.73h0M275.29 111.06h0M286.32 107.54h0M284.87 109.77h0M257.04 110.66h0M282.91 132.38h0M257.15 118.74h0M273.71 127.31h0M263.27 118.85h0M268.8 128.29h0M265.86 131.43h0M266.65 111.01h0M280.78 118.95h0M260.74 122.82h0M259.75 127.06h0M280.7 127.03h0M278.35 114.96h0M270.64 116.05h0M287.27 107.41h0M287.21 105.7h0M264.01 112.37h0M287.64 119.03h0M269.9 129.75h0M264.94 117.91h0M275.07 126.13h0M282.6 123.1h0M268.85 114.15h0M262.28 128.61h0M279.51 125.78h0M262.76 117.29h0M283.3 121.22h0M261.29 117.94h0M287.09 111.66h0M263.51 113.44h0M280.91 128.62h0M262.26 109.37h0M265.42 114.14h0M274.75 109.51h0M268.15 110.3h0M290.16 125.4h0M260.46 131.95h0M260.46 115.76h0M290.45 127.26h0M281.93 117.18h0M263.67 122.86h0M260.63 110.78h0M270.2 105.95h0M270.57 127.15h0M280.58 119.01h0M278.5 117.97h0M261.82 121.9h0M270.76 125.75h0M287.87 117.04h0M276.52 125.97h0M271.32 111.4h0M281.56 129.64h0M283.32 124.6h0M285.98 124.03h0M278.81 117.71h0M267.64 122.59h0M260.33 116.75h0M283.6 124.97h0M278.41 112h0M271.4 117.75h0M278.13 116.46h0M279.96 131.05h0M263.22 123.33h0M283.46 115.88h0M273.65 132.29h0M258.3 120.21h0M262.47 126.89h0M288.98 119.54h0M260.44 121.09h0M275.4 125.08h0M274.41 122.9h0M285.19 119.61h0M270.95 131.54h0M264.14 124.16h0M270.34 126.36h0M261.16 132.57h0M269.09 106.59h0M266.33 116.19h0M257.45 116.72h0M271.3 124.55h0M268.97 112.42h0M264.63 125.76h0M288.96 119.76h0M264.44 127.44h0M270.33 110.94h0M261.4 126.75h0M284.53 122.76h0M272.95 120.74h0M264.68 131.99h0M269.01 122.89h0M284.84 127.85h0M272.92 113.24h0M275.64 108.5h0M285.35 114.93h0M285.92 112.49h0M269.79 112.1h0M271.49 110.2h0M257.09 125.21h0M266.56 111.86h0M267.26 118.43h0M271.57 122.84h0M279.41 115.15h0M288.58 128.92h0M258.94 128.18h0M287.8 126.95h0M261.77 128.28h0M278.53 105.42h0M257.39 131.65h0M279.3 112h0M260.45 109h0M264.94 126.74h0M268.78 109.27h0M287.74 127.17h0M262.71 129.95h0M277.68 126.88h0M279.73 130.03h0M283.79 128.49h0M263.71 124.4h0M275.05 125.77h0M271.91 129.72h0M275.87 112.41h0M264.96 108.9h0M273.76 106.64h0M272.88 109.04h0M273.71 118.95h0M275.34 129.16h0M257.22 128.54h0M272.91 120.75h0M279.62 128.54h0M269.75 116.73h0M289.66 107.11h0M278.66 122.81h0M257.97 122.07h0M280.21 131.08h0M268.24 132.49h0M274.36 118.57h0M287.52 105.95h0M281.42 122.51h0M268.51 129.13h0M269.45 118.29h0M274.87 126.58h0M264.16 117.19h0M271.36 120.51h0M285.11 113.2h0M285.14 116.3h0M274.13 112.61h0M274.22 132.3h0M279.26 127.17h0M268.25 113.88h0M267.17 121.42h0M278.58 126.96h0M258.36 125.23h0M287.11 120.27h0M258.69 113.41h0M257.21 110.32h0M288.33 122.04h0M279.37 127.09h0M287.93 122.13h0M277.97 122.55h0M280.68 121.7h0M280.15 110.95h0M279.68 117.82h0M282.93 107.84h0M263.16 106.04h0M283.33 130.59h0M279.29 115.33h0M284.97 127.02h0M276.11 112.22h0M267.27 116.81h0M267.83 117.06h0M278.82 131.15h0" stroke="#6a78a0" stroke-width="0.9" stroke-linecap="round" fill="none" opacity="0.55"/>
<path d="M223.26 95.95h0M222.91 89.66h0M240.64 96.05h0M243.13 94.25h0M222.33 93.42h0M235.62 101.13h0M244.56 94.66h0M231.49 89.43h0M236.82 90.97h0M225.49 88.22h0M222.11 97.57h0M224.8 101.53h0M224.03 100.17h0M224.97 88.25h0M238.55 91.39h0M238.87 90.62h0M223.15 98.84h0M238.41 99.98h0M238.78 89.18h0M236.46 97.93h0M232.59 101.05h0M227.84 101.5h0M238.5 88.16h0M222.34 97.11h0M240.8 89.12h0M229.15 98.21h0M225.82 100.05h0M233.19 88.84h0M230.45 96.05h0M232.09 97.48h0M225.33 99.16h0M230.36 97.03h0M236.48 93.85h0M230.87 99.01h0M243.73 98.98h0M235.04 92.09h0M223.39 101.64h0M238.18 99.58h0M229.64 96.48h0M244.48 99.64h0" stroke="#8890b0" stroke-width="0.8" stroke-linecap="round" fill="none" opacity="0.5"/>
<line x1="316.3" y1="130.2" x2="328" y2="130.2" stroke="#222" stroke-width="0.9"/>
</g>
<rect x="306.1" y="74.6" width="23.7" height="18.4" fill="none" stroke="#4a6890" stroke-width="1"/>
<rect x="259.3" y="107" width="27.5" height="18.4" fill="none" stroke="#4a6890" stroke-width="1"/>
<line x1="329.8" y1="74.6" x2="389" y2="29" stroke="#333" stroke-width="0.8"/>
<line x1="329.8" y1="93" x2="389" y2="98.3" stroke="#333" stroke-width="0.8"/>
<line x1="286.8" y1="107" x2="389" y2="119.5" stroke="#333" stroke-width="0.8"/>
<line x1="286.8" y1="125.4" x2="389" y2="189" stroke="#333" stroke-width="0.8"/>
<g clip-path="url(#tzc)">
<rect x="389" y="29" width="101.4" height="69.3" fill="#f6f3ea" stroke="none" stroke-width="1"/>
<path d="M389,29 h6 c-1,20 2,45 0,70 h-6z" fill="#efe8d6" filter="url(#bl1)"/>
<path d="M397,29 h18 c-1,25 2,50 7,70 h-13 c-3,-20 -8,-45 -12,-70z" fill="#e8e6e0" filter="url(#bl1)"/>
<path d="M402,60 c3,12 5,25 8,39 h-6 c-2,-12 -4,-25 -2,-39z" fill="#f8f6f0" filter="url(#bl1)"/>
<path d="M445,29 h9 c6,20 10,45 12,70 h-5 c-2,-25 -8,-50 -16,-70z" fill="#ebe9e2" filter="url(#bl1)"/>
<path d="M415.5,29 L445,29 C452,45 460,60 462,75 L463.5,99 L425,99 C421,85 419,70 418,55 C417,45 415,35 415.5,29z" fill="#bf9e58" filter="url(#tztex)"/>
<path d="M444.25 50.29h0M436.14 90.28h0M433.7 76.25h0M444.28 90.83h0M435.86 69.48h0M454.35 90.23h0M454.15 88.84h0M442.88 47.9h0M456.01 84.69h0M448.18 92.05h0M432.3 34.87h0M442.02 84.02h0M425.42 80.76h0M444.52 75.76h0M437.87 43.25h0M427.97 80.83h0M453.21 60.72h0M443.24 90.89h0M457.6 65.01h0M438.4 69.66h0M424.89 42.27h0M424.49 77.37h0M433.05 67.95h0M434.92 64.69h0M423 32.08h0M444.07 52.8h0M440.41 30.42h0M456.71 62.56h0M442.66 47.05h0M452.62 58.39h0M460.49 81.94h0M454.49 95.48h0M427.94 31.61h0M425.45 41.47h0M419.93 32.52h0M442.2 89.08h0M437.54 94.36h0M444.11 56.42h0M428.09 67.95h0M446.11 94.99h0M447.48 56.13h0M437.07 40.02h0M461.39 97.43h0M426.42 31.67h0M428.03 53.29h0M458.43 91.42h0M452.96 77.96h0M446.39 96.99h0M418.62 38.99h0M451.48 93.82h0M447.81 49.62h0M443.8 81.29h0M420.95 51.35h0M428.08 37.57h0M438.62 40.63h0M427.21 38.88h0M426.37 93.44h0M456.74 90.32h0M422.57 59.86h0M455.59 72.36h0M437.26 52.44h0M454.68 61.95h0M445.52 38.85h0M426.42 32.91h0M449.55 67.18h0M428.52 57.41h0M423.32 47.71h0M423.89 62.88h0M430.95 91.32h0M447.41 43.57h0M438.44 48.75h0M428.12 42.91h0M433.12 97.38h0M420.59 48.97h0M450.14 49.25h0" stroke="#8e7d62" stroke-width="1.8" stroke-linecap="round" fill="none" opacity="0.55"/>
<path d="M436.78 64.04h0M440.01 59.57h0M453.11 94.11h0M429.46 53.85h0M429.01 41.47h0M455.64 64.99h0M426.83 41.12h0M444.23 86.2h0M457.8 79.43h0M445.54 42.26h0M430.48 29.69h0M448.54 64.85h0M455.53 92.22h0M440.37 52.99h0M429.24 73.1h0M435.25 81.65h0M427.67 67.86h0M449.01 68.67h0M459.81 95.84h0M427.5 86.27h0M458.89 82.76h0M456.8 68.77h0M436.98 30.77h0M427.45 35.11h0M445.1 40.58h0M430.66 67.32h0M459.54 79.97h0M428.29 86.78h0M445.93 61.01h0M427.2 59.65h0M432.48 35.48h0M424.41 47.84h0M437.85 69.43h0M441.46 44.69h0M426.67 75.15h0M437.72 56.37h0M445.84 76.88h0M444.06 70.59h0M434.83 86.86h0M449.63 87.17h0M442.53 97.02h0M431.07 56.64h0M442.37 51.42h0M422.89 75.93h0M432.61 89.06h0M421.12 41.94h0M431.24 42.85h0M447.45 44.56h0M435.77 56.4h0M456.68 71.84h0M459.14 72.02h0M445.53 84.64h0M417.68 35.93h0M421.72 29.94h0M427.12 31.72h0M421.31 52.98h0M423.85 33.16h0M461.08 92.55h0M443.74 93.3h0M436.68 64.3h0M457.6 92.18h0M443.14 47.91h0M450.59 80.09h0M429.5 60.34h0M448.66 44.29h0M434.17 66.85h0M433.24 90.53h0M430.27 61.97h0M431.68 42.03h0M441.66 95.9h0M434.63 92.77h0M431.23 51.46h0M428.69 89.61h0M426.16 32.93h0M444.48 53.01h0" stroke="#7f7566" stroke-width="1.8" stroke-linecap="round" fill="none" opacity="0.55"/>
<path d="M440.3 86.57h0M432.64 81.64h0M440.48 97.26h0M447.85 93.44h0M435.59 75.11h0M422.6 42.97h0M444.71 48.1h0M456.24 92.62h0M445.64 72.62h0M449.06 57.5h0M420.86 57.32h0M441.85 37.1h0M434.68 97.51h0M429.13 71.88h0M448.55 48.88h0M432.57 53.35h0M440.73 70.08h0M451.05 97.29h0M433.89 49.7h0M441.23 84.4h0M436.48 55.01h0M426.9 85.69h0M431.51 95.86h0M444.58 45.74h0M431.31 96.08h0M457.89 94.96h0M441.21 50.56h0M445.14 59.16h0M454.81 79.17h0M436.21 61.03h0M437.29 29.72h0M419.21 44.82h0M435.25 63.56h0M446.48 93.06h0M423.25 41.99h0M435.8 56.71h0M452.06 91.04h0M443.61 76.72h0M433.05 54.3h0M419.53 50.43h0M424.25 74.26h0M429.86 52.69h0M440.63 85.32h0M425.77 90.63h0M435.38 33.15h0M442.55 36.36h0M442.78 72.56h0M449.97 76.73h0M449.4 67.15h0M420.63 30.07h0M452.14 68.12h0M456.94 90.79h0M440.17 38.92h0M425.33 70.52h0M422.83 64.77h0M439.95 31h0M439.05 61.26h0M436.24 84.22h0M446.55 76.23h0M443.21 38.93h0M427.2 48.01h0M456.39 94.39h0M418.96 42.22h0M426.34 56.32h0M426.48 40h0M443.59 40.97h0M437.41 57.87h0M427.84 90.19h0M447.83 75.57h0M443.49 57.53h0M434.73 78.11h0M420.11 40.72h0M433.81 29.53h0M433.06 52.12h0M446.61 95.32h0" stroke="#a08a58" stroke-width="2" stroke-linecap="round" fill="none" opacity="0.55"/>
<path d="M427.51 42.19h0M429.33 45.37h0M432.05 39.76h0M428.67 86.62h0M422.01 59.59h0M455.31 84.54h0M423.48 53.35h0M449.96 55.01h0M426.68 60.24h0M428.26 91.07h0M443.62 54.39h0M427.57 70.97h0M425.99 89.19h0M421.77 64.4h0M441.5 47.66h0M452.27 55.55h0M446.9 68.17h0M430.61 55.91h0M420.04 41.22h0M442.41 53.94h0M439.52 49.49h0M426.64 37.7h0M449.68 48.48h0M434.96 91.72h0M452.42 89.91h0M429 31.04h0M447.94 74.79h0M432.52 57.47h0M446.98 77.25h0M427.68 87.42h0M432.55 72.39h0M424.54 36.95h0M458.9 79.65h0M425.31 49.91h0M433.89 31.71h0M430.61 73.04h0M442.8 78.45h0M427.97 59.01h0M448.16 53.08h0M444.55 32.27h0M427.49 36.67h0M458.98 80.72h0M434.5 80.58h0M435.93 93.18h0M448.51 79.96h0M455.01 72.34h0M437.28 32.75h0M448.82 58.56h0M440.06 93.04h0M441.68 95.89h0M445.96 66.53h0M427.74 33.1h0M432.82 57.4h0M425.47 50.43h0M447.51 45.41h0M427.36 64.56h0M436.92 93.57h0M432.52 49.66h0M442.47 52.02h0M454.32 66.83h0M447.33 70.31h0M437.68 81.86h0M429.6 53.87h0M425.7 33.16h0M429.2 42.6h0M448.98 59.91h0M421.31 51.39h0M438.03 54.05h0M423.9 33.96h0M449.71 96.63h0M442.49 36.51h0M438.98 58.96h0M424.92 66.47h0M446.29 72.31h0M459.96 74.03h0" stroke="#74707a" stroke-width="2" stroke-linecap="round" fill="none" opacity="0.55"/>
<circle cx="440" cy="70" r="2.3" fill="#f0e8d2" opacity="0.9"/>
<circle cx="445" cy="66" r="1.8" fill="#f0e8d2" opacity="0.9"/>
<circle cx="437" cy="80" r="2" fill="#f0e8d2" opacity="0.9"/>
<circle cx="428" cy="52" r="1.4" fill="#f0e8d2" opacity="0.9"/>
<circle cx="443" cy="56" r="1.4" fill="#f0e8d2" opacity="0.9"/>
<circle cx="448" cy="75" r="1.2" fill="#f0e8d2" opacity="0.9"/>
<circle cx="432" cy="66" r="1.2" fill="#f0e8d2" opacity="0.9"/>
<path d="M408.76 34.39l0.15 0.41M404.11 39.01l-0.08 0.88M406.46 90.8l0.11 0.45M409.94 50.41l0.07 0.59M408.65 53.58l-0.16 0.47M413.55 86.81l-0.15 0.43M398.93 84.39l0.25 0.9M404.26 32.49l-0.17 0.61M410.15 97.7l0.06 0.71M399.55 44.7l-0.22 0.72M404.22 96.55l0.21 0.64M400.93 54.7l-0.28 0.71M412 64.28l-0.21 0.44M398 78.04l0.23 0.43M397.16 94.96l-0.19 0.76M403.82 29.29l0.18 0.74M407.22 61.35l0.03 0.66M404.71 65.89l0.08 0.48M404.22 71.03l-0.25 0.8M410.01 51.88l0.1 0.68M404.58 54.44l0.09 0.47M412.57 65.6l0.08 0.82M401 80.04l0.11 0.47M407.42 67.29l0.27 0.58M401.32 59.45l-0.14 0.51M414.43 42.99l0.15 0.51M412.07 73.83l-0.19 0.74M409.76 44.66l-0.03 0.67M409.54 79.76l0.25 0.68M412.33 75.89l0.18 0.47M406.06 64l0.2 0.87M408.28 95.27l0.01 0.63M409.35 66.56l0.28 0.5M405.55 35.42l-0.08 0.71M404.28 32.26l-0.27 0.75M414.2 60.72l-0.23 0.47M413.35 35.05l0.29 0.5M399.06 79.25l-0.09 0.58M412.15 84.48l0.14 0.41M401.6 45.51l0.01 0.66M403.43 62.74l0.19 0.58M403.4 51.59l0.06 0.42M413.38 45.73l-0.09 0.75M397.38 97.22l-0.04 0.8M405.78 34.09l-0.14 0.48M413.76 89.29l0.1 0.82M407.59 46.27l0.3 0.78M401.84 59.64l-0.29 0.9M405.77 62.39l-0.28 0.82M398.34 71.81l0.09 0.7M412.17 95.76l0.12 0.62M401.13 95.1l0.01 0.58M406.51 50.48l-0.22 0.71M400.8 85.52l0.14 0.57M405.43 93.68l-0.11 0.57M405.7 44.64l-0.15 0.84M407.96 72.53l0.14 0.47M403.92 33.38l0.29 0.58M407.32 69.32l-0.22 0.75M413.47 91.28l-0.24 0.5M404.67 68.45l-0.24 0.8M411.27 45.42l0.18 0.47M398.3 95.44l-0.1 0.58M412.36 45.92l0.22 0.76M403.02 77.59l0.1 0.84M411.09 63.76l0.24 0.8M414.94 39.41l-0.18 0.84M409.09 56.94l-0.06 0.79M413.73 69.49l-0.21 0.76M401.54 68.46l0.1 0.88M398.32 42.13l0.25 0.69M402.48 53.39l-0.02 0.89M409.43 78.76l0.25 0.82M402.75 41.09l0.24 0.67M410.65 72.23l-0.16 0.41M397.86 59.91l0.24 0.54M406.03 35.87l-0.15 0.43M399.32 32.35l-0.26 0.81M407.36 78.61l-0.3 0.54M408.56 30.04l-0.11 0.41M402.79 88.87l-0.28 0.64M407.98 84.23l-0.2 0.83M411.33 35.02l0.07 0.79M414.78 56.57l0.26 0.84M397.46 50.87l0.09 0.56M404.47 78l0.2 0.48M397.33 43.52l0.02 0.82M403.44 53.96l-0.09 0.74M412.59 39.59l0.29 0.69M401.14 71.69l0.19 0.64M397.57 73.66l0.09 0.67M409.71 67.59l-0.08 0.66M401.93 46.45l0.03 0.45M411.57 96.4l-0.21 0.71M404.22 96.56l0.26 0.71M399.2 66.49l-0.18 0.79M401.66 70.82l0.14 0.85M412.68 88.04l0.17 0.66M403.31 77.96l-0.04 0.83M400.84 91.95l0.24 0.59M400.82 83.5l-0.28 0.73M397.28 84.67l0.25 0.74M403.31 44.74l-0.07 0.85M403.76 74.34l0.22 0.42M397.37 77.94l-0.15 0.58M402.87 58.37l-0.13 0.84M405.97 96.71l0.17 0.64M413.81 82.07l0.27 0.47M402.4 35.1l-0.3 0.84M401.5 51.06l0.07 0.88M400.82 32.6l0.17 0.83M410.24 32.19l0.16 0.62M404.83 38.65l0.26 0.74M411.49 39.48l0.25 0.47M402.45 63.68l-0.09 0.78M405.36 56.41l-0.05 0.72M408.98 56.37l-0.1 0.85M407.53 42.9l0.08 0.41M399.43 70.07l0.04 0.75M410.11 32.33l0.24 0.43M398.99 95.04l0.28 0.66M397.05 44.45l0.02 0.72M406.82 97.54l0.02 0.82M414.23 34.34l0.28 0.83M414.5 44.45l-0.26 0.75M397.27 47.56l0.28 0.5M397.86 83.48l0.27 0.53M402.86 31.86l-0.03 0.54M402.95 57.32l0.3 0.77M401.83 58.12l0.02 0.59" stroke="#3f62a0" stroke-width="1.2" stroke-linecap="round" fill="none" opacity="0.8"/>
<path d="M455.46 39.44l0.2 0.6M468.44 89.84l0.2 0.6M467.21 90.97l0.2 0.6M454.63 45.5l0.2 0.6M469.3 97.22l0.2 0.6M467.51 79.37l0.2 0.6M466.21 85.96l0.2 0.6M453.09 34.99l0.2 0.6M453.03 31.32l0.2 0.6M458.03 57l0.2 0.6M461.8 76.25l0.2 0.6M461.62 75.09l0.2 0.6M460.23 68.86l0.2 0.6M461.4 73.67l0.2 0.6M456.82 52.62l0.2 0.6M459.98 55.21l0.2 0.6M467.48 83.6l0.2 0.6M452.7 53.51l0.2 0.6M465.23 96.34l0.2 0.6M464.81 74.51l0.2 0.6M454.42 33.97l0.2 0.6M465.77 74.83l0.2 0.6M461.56 81.81l0.2 0.6M468.23 87.03l0.2 0.6M457.3 53l0.2 0.6M464.84 68.38l0.2 0.6M453.95 33.54l0.2 0.6M454.12 54.12l0.2 0.6M452.21 40.67l0.2 0.6M458.99 75.48l0.2 0.6M459.02 74.67l0.2 0.6M470.04 94.37l0.2 0.6M465.44 73.99l0.2 0.6M454.81 51.22l0.2 0.6M464.75 88.59l0.2 0.6M459.4 57.29l0.2 0.6M455.75 54.89l0.2 0.6M462.14 74.75l0.2 0.6M457.18 49.87l0.2 0.6M453.36 47.98l0.2 0.6" stroke="#3f62a0" stroke-width="1.2" stroke-linecap="round" fill="none" opacity="0.75"/>
<path d="M478.92 36.71h0M482.69 79.42h0M473.49 64.7h0M470.12 38.01h0M479.78 74.56h0M482.45 65.11h0M486.03 46.45h0M481.12 29.06h0" stroke="#3f62a0" stroke-width="1.1" stroke-linecap="round" fill="none" opacity="0.7"/>
<ellipse cx="489" cy="60" rx="2" ry="5" fill="#c8b070" opacity="0.6" filter="url(#bl1)"/>
<line x1="472" y1="95.5" x2="488" y2="95.5" stroke="#333" stroke-width="0.8"/>
</g>
<rect x="389" y="29" width="101.4" height="69.3" fill="none" stroke="#555" stroke-width="1"/>
<g clip-path="url(#nzc)">
<rect x="389" y="119.4" width="101.2" height="69.6" fill="#ebe8e0" stroke="none" stroke-width="1"/>
<path d="M464,119 h27 v40 c-10,-10 -19,-25 -27,-40z" fill="#f4f2ec" filter="url(#bl1)"/>
<ellipse cx="449" cy="138" rx="4.5" ry="6.5" transform="rotate(30 449 138)" fill="#d6d2ca" stroke="#6e6c78" stroke-width="1.6"/>
<ellipse cx="418" cy="159" rx="3.5" ry="5" transform="rotate(20 418 159)" fill="#d6d2ca" stroke="#6e6c78" stroke-width="1.6"/>
<ellipse cx="440" cy="159" rx="4" ry="5.5" transform="rotate(30 440 159)" fill="#d6d2ca" stroke="#6e6c78" stroke-width="1.6"/>
<ellipse cx="455" cy="162" rx="4.5" ry="6.5" transform="rotate(20 455 162)" fill="#d6d2ca" stroke="#6e6c78" stroke-width="1.6"/>
<ellipse cx="468" cy="161" rx="3.5" ry="6" transform="rotate(20 468 161)" fill="#d6d2ca" stroke="#6e6c78" stroke-width="1.6"/>
<ellipse cx="480" cy="167" rx="3" ry="6" transform="rotate(20 480 167)" fill="#d6d2ca" stroke="#6e6c78" stroke-width="1.6"/>
<ellipse cx="435" cy="180" rx="4" ry="6.5" transform="rotate(-10 435 180)" fill="#d6d2ca" stroke="#6e6c78" stroke-width="1.6"/>
<ellipse cx="405" cy="183" rx="4" ry="4.5" transform="rotate(0 405 183)" fill="#d6d2ca" stroke="#6e6c78" stroke-width="1.6"/>
<ellipse cx="438" cy="134" rx="3" ry="3" transform="rotate(0 438 134)" fill="#d6d2ca" stroke="#6e6c78" stroke-width="1.6"/>
<ellipse cx="418" cy="146" rx="3" ry="3" transform="rotate(0 418 146)" fill="#d6d2ca" stroke="#6e6c78" stroke-width="1.6"/>
<ellipse cx="428" cy="170" rx="3" ry="4" transform="rotate(0 428 170)" fill="#d6d2ca" stroke="#6e6c78" stroke-width="1.6"/>
<ellipse cx="463" cy="182" rx="3" ry="3" transform="rotate(0 463 182)" fill="#d6d2ca" stroke="#6e6c78" stroke-width="1.6"/>
<ellipse cx="426" cy="140" rx="3" ry="3" transform="rotate(0 426 140)" fill="#d6d2ca" stroke="#6e6c78" stroke-width="1.6"/>
<ellipse cx="470" cy="145" rx="3" ry="4" transform="rotate(30 470 145)" fill="#d6d2ca" stroke="#6e6c78" stroke-width="1.6"/>
<path d="M445.22 143.95h0M444.3 142.8h0M453.76 137.18h0M445.3 143.52h0M445.51 134.74h0M450.43 142.41h0M453.45 138.69h0M453.8 131.8h0M451.39 132.03h0M452.36 142.18h0M453.54 139.17h0M448.04 132.97h0M445.47 144.87h0M449.35 144.19h0M454.14 139.72h0M447.39 133.9h0M446.64 145.21h0M420.12 162.4h0M414.3 161.01h0M422.09 158.18h0M420.24 155.22h0M415.1 155.42h0M418.65 154.04h0M421.08 159.96h0M420.36 161.99h0M419.02 163.97h0M421 160.39h0M417.34 164.16h0M421.59 157.99h0M414.9 162.56h0M436.42 158.34h0M444.58 156.05h0M443.34 161.57h0M443.98 156.45h0M435.16 158.33h0M438.48 164.07h0M444.65 156.53h0M443.21 153.31h0M440.08 164.01h0M442.69 162.72h0M436.32 162.19h0M443.47 160.35h0M437.15 155.73h0M441.55 163.19h0M440.56 154.04h0M449.34 165.05h0M455.24 155.98h0M452.81 168.13h0M449.93 163.03h0M451.82 166.72h0M453.86 169h0M460.31 160.76h0M456 156.29h0M459.71 160.83h0M449.71 162.19h0M454.69 155.12h0M458.6 163.63h0M460.54 161.57h0M458.41 164.67h0M450.58 162.79h0M453.66 169.81h0M453.16 156.84h0M469.47 155.64h0M467.07 166.3h0M471.3 157.73h0M468.71 167.08h0M471.34 156.06h0M471.52 162.93h0M469.63 155.77h0M466.39 167.56h0M470.37 154.39h0M465.47 158.83h0M470.94 154.92h0M464.83 159.17h0M467.14 166.09h0M470.34 163.72h0M471.88 156.15h0M476.57 168.06h0M484.17 162.78h0M480.33 171.46h0M476.15 168.04h0M484.03 163.18h0M481.39 160.51h0M477.2 171.64h0M478.06 164.49h0M483.73 165.97h0M477.89 174.09h0M477.14 171.11h0M476.99 172.77h0M480.89 161.75h0M480.02 171.75h0M434 185.96h0M439.06 180.86h0M432.1 175.36h0M431.68 174.77h0M439.22 182.31h0M439.7 180.03h0M437.8 174.37h0M437.19 185.66h0M434.76 186.8h0M434.09 174.02h0M430.76 182.16h0M434.09 172.2h0M431.12 177.64h0M431.44 177.79h0M438.66 179.4h0M438.1 184.69h0M406.86 186.93h0M401.1 183.53h0M402.65 186.03h0M407.31 178.4h0M404.32 178.42h0M404.93 178.97h0M407.13 186.85h0M408.38 183.87h0M401.43 180.82h0M403.66 178.68h0M406.83 179.62h0M404.36 177.9h0M402.17 186.88h0M440.16 135.37h0M435.82 131.19h0M437.06 136.7h0M440.22 135.76h0M439.64 136.36h0M435.16 133.25h0M438.08 137.23h0M440.76 134.75h0M440.75 133.1h0M414.49 144.73h0M420.87 144.14h0M415.23 145.38h0M420.21 147.5h0M421.3 147.16h0M417.16 143.33h0M417.9 143.35h0M419.69 149.13h0M421.06 145.96h0M426.09 167.48h0M425.56 168.47h0M426.55 166.79h0M428.14 174.64h0M424.48 169.62h0M429.14 166.83h0M426.61 173.04h0M428.76 174.52h0M429.33 173.46h0M430.99 172.32h0M425.68 167.99h0M461.49 185.34h0M463.59 179.48h0M463.66 179.35h0M460.26 181.8h0M464.02 178.68h0M464.05 185.51h0M461.67 178.87h0M465.33 183.04h0M464.9 180.23h0M423.09 139.53h0M428.97 141.38h0M429.32 141.38h0M428.84 140.93h0M423.17 141.76h0M429.2 139.42h0M427.03 137.03h0M426.43 136.88h0M425.8 143.38h0M467.61 147.43h0M466.55 144.14h0M470.65 141.54h0M466.38 146.27h0M473.34 145.07h0M472.14 141.21h0M470.22 140.91h0M471.79 148.26h0M473.14 141.79h0M472.96 143.13h0M468.75 141.68h0" stroke="#3a5690" stroke-width="1.3" stroke-linecap="round" fill="none" opacity="0.8"/>
<path d="M477.63 159.25l-0.78 0.17M428.88 162.87l-0.61 0.52M423.61 145.53l-0.79 0.13M412.06 166.04l-0.63 0.49M455.99 182.29l0.18 0.78M419.78 140.03l-0.26 0.76M485.05 180.47l0.06 0.8M430.49 139.96l0.72 0.35M444.09 124.82l0.26 0.76M436.06 121.28l0.39 0.7M489.24 132.11l0.23 0.77M443.36 135.92l0.62 0.5M452.34 145.3l-0.76 0.26M428.36 142.29l0.71 0.37M405.91 143.61l-0.67 0.44M478.08 186.24l0.45 0.66M421.17 180.33l-0.63 0.49M450.27 178.97l-0.8 0.08M428.48 119.63l-0.72 0.36M399.48 136.21l-0.16 0.78M455.37 170.56l-0.42 0.68M488.44 170.42l-0.57 0.56M456.28 128.45l-0.57 0.56M414.59 148.12l-0.04 0.8M422.44 137.64l0.48 0.64M419.84 168.65l-0.44 0.67M483.72 175.61l0.79 0.15M455.11 153.53l-0.45 0.66M390.82 180.27l-0.75 0.28M401.02 145.4l0.45 0.66M440.76 129.66l-0.26 0.76M435.35 185.38l0.04 0.8M389.71 184.56l0.53 0.6M407.95 183.26l-0.02 0.8M488.2 162.91l0.58 0.55M430.16 124.9l-0.79 0.13M453.58 153.51l-0.8 0.06M425.38 182.2l0.42 0.68M473.18 153.7l0.79 0.12M442.77 181.56l0.65 0.47M441.57 166.7l-0.77 0.23M448.31 187l-0.61 0.52M425.37 167.55l0.52 0.6M479.02 152.23l-0.3 0.74M425.54 141.37l-0.64 0.48M436.73 126.87l-0.78 0.18M451.9 154.09l0.23 0.77M405.14 181.47l0.79 0.11M417.17 156.5l-0.39 0.7M474.66 147.82l0.78 0.19M428.56 169.21l0.26 0.76M470.91 178.6l0.74 0.3M434.42 119.82l-0.08 0.8M459.51 140.39l-0.25 0.76M425.34 187.63l-0.75 0.28M472.66 177.41l-0.49 0.63M462.01 170.97l0.75 0.29M429.79 177.91l-0.63 0.49M473.76 147l0 0.8M423.02 179.55l-0.49 0.63M403.49 170.5l0.21 0.77M457.87 183.72l0.78 0.17M389.31 159.17l0.59 0.54M432.69 133.98l-0.53 0.6M468.31 166.57l-0.72 0.36M402.38 134.55l-0.71 0.36M413.11 127.75l0.5 0.62M392.38 186.89l-0.78 0.17M427.48 139.12l-0.36 0.72M477.43 145.9l-0.76 0.26M460.91 173.01l-0.26 0.76M440.42 161.54l-0.76 0.24M420.23 144.18l-0.17 0.78M441.24 127.53l-0.79 0.12M411.06 151.04l-0.59 0.54M434.13 154.24l-0.8 0.06M448.61 160.7l0.8 0.08M443.32 151.73l0.04 0.8M418.71 184.54l-0.8 0.09M442.6 135.12l-0.14 0.79M471.87 138.72l-0.8 0.07M447.33 168.92l0.61 0.52M406.48 175.75l0.53 0.6M426.82 185.82l0.52 0.61M398.04 126.87l0.27 0.75M442.69 165.05l0.56 0.57M453.82 159.29l0.17 0.78M486.89 180.63l-0.29 0.75M408.26 162.1l0.75 0.28M405.72 172.17l0.78 0.19M468.81 171.01l-0.61 0.52M409.32 171.89l-0.7 0.39M418.92 174.03l0.8 0.06M463.67 161.92l0.8 0.04M424.74 148.25l-0.7 0.4M453.8 171.32l-0.09 0.79M445.33 162.93l-0.16 0.78M420.88 143.82l0.76 0.26M463.68 167.39l0.2 0.78M391.97 168.92l-0.6 0.52M423.64 179.07l0.33 0.73M478.31 153.02l0.77 0.21M423.1 141.3l-0.76 0.25M487.6 178.5l-0.07 0.8M414.38 146.22l0.35 0.72M455.29 184.63l0.66 0.46M417.11 176.05l-0.05 0.8M467.22 169.8l0.7 0.39M479.53 149.57l0.73 0.34M400.22 169.95l-0.08 0.8M391.79 175.92l-0.8 0.07M397.69 173.63l0.64 0.48M446.86 182.97l-0.72 0.34M423.18 158.17l0.1 0.79M466.66 182.28l0.8 0.02M409.65 143.82l-0.74 0.29M398.9 180.43l-0.79 0.14M433.44 159.04l-0.78 0.2M458.22 182.98l-0.59 0.54M446.59 169.34l-0.73 0.34M406.07 164.63l-0.73 0.34M488.98 169.18l0.08 0.8M477.94 161.41l0.75 0.29M439.3 145.72l-0.47 0.65M469.8 181.24l0.8 0.01M446.17 171.17l0.61 0.52M463.59 164.34l0.58 0.55M436.12 147.14l-0.79 0.15M485.91 173.27l0.79 0.11M445.17 159.46l0.21 0.77M393.17 151.75l0.05 0.8M485.6 172.17l-0.75 0.29M398.75 129.03l-0.07 0.8M451.21 141.63l-0.02 0.8M485.64 145.71l0.78 0.18M392 164.38l0.77 0.21M445.72 161.9l-0.63 0.49M443.29 168.42l-0.39 0.7M451.12 151l-0.41 0.69M445.55 133.6l0.67 0.44M440.21 177.61l0.63 0.49M460.52 170.49l-0.41 0.69M488.31 161.89l0.77 0.21M441.49 166.44l0.77 0.22M413.13 180.7l-0.8 0.04M398.07 138.18l0.45 0.66M418.87 153.59l-0.19 0.78M422.82 132.44l0.78 0.2M393.4 166.8l-0.6 0.53M410.6 145.98l-0.8 0.04M482.3 159.22l0.63 0.49M465.62 171.64l0.77 0.2M391.18 123.12l-0.53 0.6M456.68 128.45l-0.77 0.22M418.63 136.88l0.73 0.33M468.56 178.24l0.8 0.07M427.61 130.35l0.7 0.39M484.62 164.91l0.07 0.8M451.93 171.73l-0.57 0.56M421.92 175.25l0.8 0.03M443.32 142.85l-0.11 0.79M425.04 176.12l0.8 0M466.87 135.71l0.38 0.7M397.01 130.29l0.8 0.09M474.99 148.75l0.39 0.7M395.49 127.53l0.11 0.79M410.36 122.74l-0.39 0.7M413.74 183.21l-0.78 0.17M441.4 173.35l-0.32 0.73M454.43 134.26l-0.57 0.56M478.45 169l0.17 0.78M400.95 185.34l-0.27 0.75M451.04 130.65l-0.79 0.13M417.71 146.36l0.38 0.7M486.02 125.42l-0.34 0.72M451.45 164.92l-0.55 0.58M403.34 123.86l0.78 0.17M428.5 124.46l-0.53 0.6M443.1 124.14l0.78 0.19M445.29 169.57l-0.36 0.71M440.54 180.45l-0.78 0.2M434.45 181.99l0.56 0.57M428.87 167.77l0.68 0.41M488.92 180.46l-0.73 0.34M435.52 141.59l0.64 0.48M428.19 173.91l0.76 0.26M410.1 143.55l0.4 0.7M452.11 178.2l0.78 0.18M398.04 173.77l-0.39 0.7M420.51 137.41l0.79 0.11M437.62 177.58l0.79 0.14M414.65 125.23l-0.21 0.77M395.27 139.71l0.53 0.6M483 184.52l0.35 0.72M443.76 131.34l0.32 0.73M463.46 144.93l0.69 0.4M455.98 180.07l-0.77 0.23M405.75 172.26l-0.78 0.17M392.04 164.4l-0.75 0.28M466.03 178.72l0.58 0.55M399.06 145.42l0.32 0.73M417.47 152.08l0.03 0.8M400.1 157.87l0.02 0.8M429.87 152.95l-0.78 0.19M480.89 148.81l0.79 0.15M408.27 137.63l0.14 0.79M413.15 142.7l0.79 0.14M440.44 152.88l0.62 0.5M450.73 188.99l-0.78 0.18M427 123.19l0.17 0.78M394.65 155.51l-0.03 0.8M420.94 126.1l0.06 0.8M436.32 185.23l-0.62 0.5M402.31 175.47l-0.32 0.73M398.89 138.64l-0.63 0.49M395.88 168.24l0.06 0.8M414.99 154.67l-0.31 0.74M470.97 182.19l-0.35 0.72M458.38 121.26l-0.36 0.71M467.03 165.51l0.72 0.34M425.81 146.12l-0.75 0.28M421.52 121.92l-0.72 0.35M455.3 164.56l-0.47 0.65M390.58 151.09l-0.52 0.61M434.39 178.51l0.5 0.62" stroke="#3a5a98" stroke-width="1.25" stroke-linecap="round" fill="none" opacity="0.8"/>
<path d="M487.52 177.75l0.46 0.65M420.72 132.95l0.78 0.17M391.53 130.56l0.34 0.72M437.91 123.61l0.31 0.74M475.18 170.97l-0.41 0.69M410.44 182.42l0.66 0.45M436.51 140.69l-0.62 0.5M416.37 187.25l-0.58 0.56M392.21 131.43l0.22 0.77M460.6 158.8l-0.6 0.53M413.08 177.59l0.71 0.37M470.98 161.47l0.06 0.8M444.33 146.06l0.55 0.59M445.77 138.17l0.21 0.77M480.95 188.89l0.73 0.33M421.44 171.73l0.69 0.4M431.71 124.62l-0.67 0.43M468.79 136.72l-0.17 0.78M411.52 129.55l-0.56 0.58M486.74 168.84l0.76 0.23M432.99 176.37l-0.8 0.08M406.69 128.69l0.78 0.18M427.06 140.02l-0.39 0.7M460.27 159.82l0.13 0.79M439.46 156.13l-0.43 0.68M426.33 155.53l-0.15 0.79M433.04 160.45l0.56 0.57M427.58 179.16l-0.79 0.11M453.99 147.84l-0.79 0.11M415 176.54l-0.47 0.65M394.77 166.77l0.63 0.49M422.14 183.41l0.14 0.79M423.34 172.25l-0.79 0.11M478.87 151.59l0.42 0.68M487.09 187.47l0.77 0.22M487.07 156.98l0.24 0.76M402.53 171.31l0.32 0.74M460.53 145.61l0.01 0.8M425.86 188.84l-0.34 0.72M478.34 162.12l-0.36 0.72M436.43 150.79l0.4 0.69M443.84 143.16l-0.58 0.55M420.76 175.8l-0.46 0.66M457.32 173.67l0.26 0.76M400.83 163.06l0.49 0.64M444.57 133.28l0.57 0.56M448.81 172.83l0.32 0.73M474.88 164.41l0.7 0.39M395.54 150.84l-0.4 0.69M466.45 122.19l-0.24 0.76M430.64 158.25l0.8 0.07M469.64 177.6l0.77 0.21M414.14 131.15l0.68 0.42M479.96 173.97l0.59 0.54M391.42 124.77l0.77 0.22M409.03 151.89l0.78 0.18M424.24 139.42l-0.56 0.57M477.35 142.31l-0.78 0.18M415.66 137.59l0.78 0.16M394.29 187.15l0.73 0.32M476.68 142.01l-0 0.8M403.25 161.36l-0.8 0.03M470.32 171.59l-0.7 0.39M431.7 139.66l0.8 0.04M420.45 124.05l0.07 0.8M395.63 129.66l-0.64 0.48M434.67 151.79l-0.67 0.44M451.87 176.74l0.07 0.8M432.98 119.92l-0.78 0.17M410.79 177.8l0.11 0.79M464.84 154.09l-0.05 0.8M422.52 123l0.6 0.53M391.37 154.9l0.63 0.49M461.51 150.8l0.66 0.45M407.58 188.04l-0.8 0.01M435.76 142.72l-0.48 0.64M457.8 168.14l-0.65 0.46M429.05 155.6l0.46 0.66M467.24 141.09l0.48 0.64M421.83 135.54l0.68 0.42M452.57 136.16l0.8 0.08M421.38 173.95l-0.51 0.62M476.86 167l0.06 0.8M420.39 124.25l-0.38 0.7M452 149.61l0.78 0.17M470.16 154.95l0.13 0.79M475.08 184.66l0.2 0.77M460.22 156.45l-0.62 0.51M462.19 141.03l0.79 0.13M466.68 125.15l-0.78 0.19M402.44 179.07l-0.79 0.14M445.31 123.42l-0.44 0.67M392.55 165.03l-0.72 0.36M455.71 142.86l-0.05 0.8M403.63 167.82l-0.5 0.62M463.34 121.23l-0.77 0.22M456.7 156.1l-0.47 0.65M420.92 176.3l-0.26 0.76M430.04 135.78l0.28 0.75M470.5 168.55l0.34 0.73M479 151.07l-0.13 0.79M398.26 185.01l-0.79 0.15M461.74 146.07l0.61 0.52M407.68 175.76l-0.58 0.55M428.71 133.13l-0.63 0.5M464.65 183.09l0.02 0.8M476.61 154.91l-0.65 0.47M391.79 154.9l-0.67 0.44M459.23 187.34l-0.28 0.75M420.66 170.06l-0.71 0.37M457.94 165.18l0.79 0.14M389.01 135.22l0.38 0.71M468.53 136.8l0.79 0.1M392.79 188.83l0.6 0.53M421.1 180.68l-0.79 0.13M419.46 162.25l0.26 0.76M417.68 184.99l0.8 0.03M457.25 171.94l-0.6 0.53M446.26 182.83l-0.67 0.44M454.07 122.66l-0.75 0.27M406.31 129.54l0.46 0.66M439.96 141.81l0.16 0.78M420.02 135.79l-0.5 0.63M456.76 122.84l-0.76 0.26M406.44 141.38l-0.61 0.52M475.57 185.83l-0.74 0.31M443.8 182.78l-0.64 0.48M474.11 187.54l-0.79 0.13M436.49 151.33l-0.56 0.57M473.57 170.06l0.34 0.72M395.47 127.28l-0.75 0.28M451.12 153.85l0.79 0.13M475.85 163.81l0.45 0.66M437.14 145.47l-0.34 0.73M478.59 159.37l0.43 0.67M423.84 177.72l-0.55 0.58M424.58 183.02l-0.25 0.76M489.78 181.72l0.78 0.17M434.06 119.83l-0.79 0.11M411.94 133.59l-0.11 0.79M482.69 165.12l-0.73 0.33M455.13 158.79l0.1 0.79M446.49 120.65l0.73 0.32M441.03 171.15l0.76 0.25M469.18 161.26l0.79 0.14M426.04 184.95l-0.54 0.59M404.93 163.59l0.78 0.19M431.1 141.91l-0.8 0.02M441.07 187.07l0.02 0.8M464.97 119.76l-0.26 0.76M427.18 177.22l-0.76 0.25M405.57 120.23l-0.36 0.71M394.4 122.88l-0.01 0.8M480.04 178.58l-0.5 0.63M460.96 134.06l0.09 0.79M404.6 133.94l0.71 0.37M433.26 121.13l0.73 0.33M458.44 161.29l0.59 0.54M410.86 162.99l0.79 0.14M467.15 175.19l-0.76 0.24M405.71 173.8l-0.1 0.79M412.44 176.53l0.6 0.53M406.66 180.07l-0.8 0.06M461.87 126.69l0.09 0.79M449.01 134.11l-0.7 0.39M431.87 154.76l0.03 0.8M389.18 179.85l-0.73 0.32M479.67 158.15l0.21 0.77M421.31 131.01l0.62 0.5M443.84 147.58l-0.51 0.61M489.65 134.94l0.35 0.72M433.03 140.7l-0.33 0.73M434 128.98l-0.22 0.77M401.57 139.73l0.2 0.77M473.83 172.81l-0.23 0.77M436.78 138.4l-0.05 0.8M436.65 154.63l-0 0.8M412.52 143.62l0.29 0.75M396.03 126.03l-0.54 0.59M422.89 168.35l-0.7 0.38M454.2 151.57l-0.69 0.4M444.34 121.91l-0.62 0.5M437.16 154.62l-0.49 0.63M457.52 185.64l-0.29 0.74M404.8 164.67l-0.56 0.57M389.4 167.05l-0.31 0.74M457.46 146.91l0.41 0.68M446.71 134.38l-0.65 0.47M404.8 157.63l-0.37 0.71M417.85 128.52l-0.76 0.24M487.52 162.15l-0.66 0.46M433.52 138.23l-0.05 0.8M391 157.43l-0.63 0.49M421.84 184.66l0.75 0.29M414.71 161.68l-0.16 0.78M395.79 175.73l-0.31 0.74M390.21 181.39l0.49 0.63M439 184.75l0.3 0.74M396.65 133.68l-0.54 0.59M403.2 140.78l0.62 0.51M433.1 127.54l-0.8 0.07M444.63 187.15l-0.6 0.52M404.01 177.63l0.79 0.1M439.18 170.12l0.19 0.78M452.59 168.62l0.68 0.43M401.76 140.12l0.77 0.21M405.21 121.73l0.41 0.69M459.14 130.79l0.09 0.79M399.82 132.82l0.35 0.72M475.56 141.77l0.23 0.77M434.06 152.82l0.8 0.06M457 182.01l0.69 0.4M479.17 174.56l-0.31 0.74M455.18 150.19l-0.3 0.74M480.45 173.82l-0.12 0.79M391.32 163.33l-0.39 0.7M440.65 129.32l0.79 0.12M468.43 155.16l0.01 0.8M458.52 129.96l-0.35 0.72M439.53 183.6l-0.47 0.64M483.81 178.11l0.34 0.73M460.26 132.23l0.29 0.74M455.93 142.36l0.05 0.8M447.59 187.54l0.7 0.39M479.4 132.36l0.63 0.49M456.08 162.02l0.8 0.01M447.57 141.84l-0.35 0.72M445.54 175.07l0.39 0.7M446.93 157.22l-0.79 0.12M475.7 188.21l0.02 0.8" stroke="#4a6aa0" stroke-width="1.25" stroke-linecap="round" fill="none" opacity="0.8"/>
<path d="M397.34 148l0.48 0.64M440.27 168.35l0.8 0.01M448.49 128.35l0.3 0.74M477.53 161.43l0.16 0.78M478.14 175.67l0.77 0.2M434.34 144.78l0.79 0.09M473.27 139.95l0.78 0.16M415.07 173.74l0.64 0.48M440.3 154.06l-0.07 0.8M466.66 167.49l-0.36 0.72M417.04 164.01l0.43 0.67M458.03 167.82l-0.79 0.1M393.68 177.53l-0.66 0.45M418.81 161.13l-0.73 0.33M463.43 184.63l0.36 0.71M474.98 179.05l0.55 0.58M440.14 150.14l0.8 0.06M397.26 174.38l-0.75 0.29M410.76 161.05l-0.74 0.3M397.13 139.37l-0.7 0.39M450.48 185.97l-0.35 0.72M465.54 164.16l-0.7 0.39M415.29 130.5l-0.77 0.23M411.54 179.03l0.61 0.52M415.22 123.27l0.7 0.39M489.66 140.14l0.78 0.16M427.7 162.72l-0.8 0.08M410.44 148.14l0.08 0.8M420.59 123.23l0.29 0.75M454.91 152.66l-0.08 0.8M408.79 137.12l-0.05 0.8M401.09 141.28l-0.75 0.27M481.41 181.92l0.08 0.8M483.26 158.43l0.76 0.24M439.25 187.19l0.41 0.69M423.62 125.67l0.3 0.74M400.34 186.89l0 0.8M417.54 142.12l-0.19 0.78M407 172.93l0.43 0.67M435.29 185.97l0.11 0.79M426.32 173.46l-0.78 0.15M459.25 152.65l-0.78 0.18M408.98 186.07l-0.4 0.7M406.66 132.18l0.66 0.45M418.6 168.68l-0.49 0.63M448.24 148.43l0.63 0.49M396.16 155.04l-0.39 0.7M465.07 135.61l0.75 0.27M417.96 126.05l0.66 0.46M447.64 165.73l0.54 0.59M479.42 167.52l-0.04 0.8M424.35 168.71l-0.08 0.8M407.25 159.12l-0.8 0.03M401.28 159.98l-0.55 0.58M485.6 166.24l0.28 0.75M459.47 148.71l-0.69 0.41M479.13 155.01l0.18 0.78M394.5 148.93l-0.08 0.8M427.91 145.03l0.33 0.73M402.47 183.34l0.32 0.73M443.9 130.38l0.71 0.37M400.15 174.78l0.74 0.31M420.24 158.7l0.76 0.24M439.15 151.43l-0.57 0.57M462.47 135.53l0.72 0.34M482.5 119.4l0.35 0.72M467.13 177.44l-0.22 0.77M432.36 152.35l0.79 0.1M487.53 188.48l0.79 0.12M467.17 171.81l0.39 0.7M396.96 171.82l0.78 0.18M467.68 150.28l-0.44 0.67M406.38 149.24l-0.78 0.17M399.72 154.95l-0.78 0.18M448.29 153.84l-0.8 0.03M463.23 170.95l-0.67 0.43M468.81 138.94l0.79 0.1M393.82 155.46l-0.56 0.57M408.32 147.31l0.6 0.53M410.16 137.13l0.12 0.79M413.26 151.7l-0.47 0.64M455.85 126.07l0.23 0.77M443.15 139.14l0.33 0.73M414.06 165.3l0.41 0.69M392.83 148.16l-0.71 0.38M395.98 124.94l0.79 0.14M408.38 137.42l-0.31 0.74M427.63 166.63l0.56 0.57M399.02 183.74l-0.16 0.78M434.24 123.44l-0.22 0.77M433.17 165.2l0.8 0.06M407.67 187.95l-0.51 0.62M468.73 174.33l0.78 0.19M469.98 135.8l0.61 0.51M472.82 147.47l-0.69 0.41M405.34 149.64l0.68 0.43M402.33 157.07l0.17 0.78M412.76 182.51l-0.38 0.7M415.33 127.19l-0.66 0.45M398.29 134.47l0.71 0.37M448.61 178.27l-0.56 0.57M445.46 184.41l0.14 0.79M485.36 173.95l-0.7 0.39M442.85 140.78l0.64 0.48M462.47 127.85l0.35 0.72M445.47 188.29l-0.29 0.74M455.61 128.01l0.8 0.06M432.4 160.85l0.79 0.11M418.61 127.32l-0.31 0.74M434.03 145.25l0.06 0.8M460.14 180.02l-0.11 0.79M443.95 139.52l-0.69 0.41M392.22 136.98l0.43 0.68M457.85 170.05l-0.73 0.34M460.63 150.85l0.77 0.21M425.4 164.79l-0.68 0.42M414.84 144.65l0.8 0.04M444.39 142.92l0.22 0.77M433.18 161.58l-0.75 0.27M476.7 140.39l-0.64 0.48M423.38 152.06l-0.51 0.62M463.44 132.02l0.76 0.25M408.9 181.74l0.79 0.11M402.25 142.72l0.2 0.77M404.55 163.9l-0.5 0.63M424.57 123.25l-0.42 0.68M413.78 121.57l0.68 0.41M394.44 148.68l0.71 0.37M468.2 154.65l0.75 0.27M416.43 154.74l-0.8 0.01M488.83 188.08l0.27 0.75M407.77 173.75l-0.54 0.59M400.52 141.47l0.74 0.31M392.54 169.16l0.64 0.48M447.52 159.09l0.6 0.53M398.93 168.57l-0.71 0.37M413.31 151.99l-0.6 0.52M441.12 178.53l0.77 0.22M435.48 135.62l0.15 0.79M489.31 183.06l0.8 0.04M412.05 142.24l0.25 0.76M455.04 148.57l0.4 0.69M413.3 163.36l-0.05 0.8M444.56 140.26l0.08 0.8M461.12 151.75l0.8 0.03M456 151.34l-0.24 0.76M406.69 160.94l0.08 0.8M485.58 130.19l-0.8 0.05M465.63 171.36l-0.79 0.15M477.68 140.75l-0.46 0.66M395.82 182.35l0.67 0.44M389.49 147.72l0.11 0.79M461.02 126.01l-0.07 0.8M400.51 139.32l-0.1 0.79M411.27 146.13l-0.71 0.37M449.8 158.15l0.52 0.61M465.91 162.27l-0.5 0.62M474.18 144.62l-0.8 0.04M453.81 128.63l-0.42 0.68M400.51 130.3l0.8 0.06M425.43 137.09l0.69 0.41M460.15 130.52l-0.77 0.21M393.26 157.2l-0.65 0.47M443.7 123.72l0.68 0.42M407.81 175.79l-0 0.8M459.92 172.93l-0.38 0.7M461.37 170.29l0.75 0.27M416.65 140.07l0.65 0.47M487.33 174.13l-0.79 0.15M473.18 166.03l-0.55 0.58M421.3 127.84l-0.72 0.36M438.85 157.49l0.7 0.39M395 184.48l0.77 0.2M452.09 160.44l-0.45 0.66M440.73 129.33l-0.66 0.46M396.09 182.4l-0.79 0.13M391.36 162.3l0.6 0.53M397.78 176.82l0.12 0.79M413.1 131.77l0.44 0.67M453.07 161.23l0.73 0.32M426.64 182.67l0.8 0.06M461.67 122.54l-0.47 0.65M456.83 140.05l-0.54 0.59M397.83 133.34l-0.79 0.1M449.89 186.95l-0.13 0.79M389.56 123.12l0.5 0.63M420.1 185.43l-0.39 0.7M437.89 161.05l-0.75 0.29M427.57 157l0.3 0.74M470.44 177.07l-0.79 0.15M411.27 137.95l-0.79 0.12M440.56 128.32l0.46 0.66M393.61 125.65l0.15 0.79M468.87 151.3l0.37 0.71M437.96 162.69l-0.59 0.54M469.49 168.55l0.24 0.76M405.15 153.74l-0.77 0.22M431.93 131.92l-0.8 0.07M410.17 185.3l-0.37 0.71M414.12 158.98l-0.76 0.25M415.63 143.4l0.74 0.3M417.47 160.53l-0.7 0.38M420.89 175.52l-0.74 0.31M419.57 174.52l0.73 0.34M444.8 158.43l-0.76 0.25M459.77 130.89l-0.41 0.69M398.66 186.96l0.16 0.78M436.17 177.41l-0.5 0.63M433.12 178.34l0.71 0.38M406.4 181.78l0.43 0.67M454.08 149.38l0.51 0.61M399.08 169.53l-0.7 0.38M405.29 160.05l0.66 0.46M454.22 153.03l0.76 0.25M488.01 179.99l0.14 0.79M478.84 164.22l0.76 0.25M432.97 178.5l-0.8 0.04M452.67 160.61l-0.79 0.15M406.37 143.27l0.76 0.26M470.5 187.66l0.7 0.38" stroke="#2f4f8a" stroke-width="1.25" stroke-linecap="round" fill="none" opacity="0.8"/>
<path d="M420.01 136.67l-0.67 0.44M414.82 177.35l0.54 0.59M407.42 119.01l-0.77 0.2M411.54 135.99l-0.74 0.3M430.77 171.8l-0.73 0.33M400.56 171.48l0.12 0.79M438.52 120.62l0.61 0.52M424.42 140.94l0.28 0.75M454.79 156.35l0.61 0.52M431.21 162.31l-0.66 0.45M464.55 166.37l-0.21 0.77M442.62 172.03l0.52 0.61M472.62 182.4l-0.68 0.43M410.32 122.44l0.62 0.5M485.23 182.17l-0.8 0.01M440.37 127.29l-0.44 0.67M479.82 149.16l0.8 0.02M415.15 153.18l0.7 0.38M408.46 176.25l-0.74 0.31M432.84 163.49l-0.78 0.17M403.41 146.52l0.8 0.01M418.92 145.74l-0.51 0.62M441.51 135.2l0.78 0.17M393.9 124.53l0.79 0.11M418.83 174.69l-0.45 0.66M405.4 125.42l-0.35 0.72M481.58 168.34l-0.29 0.75M453.3 170.8l-0.76 0.26M400.9 151.48l0.03 0.8M433.84 126.47l-0.78 0.19M427.39 132.99l0.05 0.8M460.91 145.51l-0.05 0.8M445.17 177.39l-0.21 0.77M454.82 137.38l-0.78 0.19M404.5 146.28l-0.27 0.75M425.5 161.23l0.69 0.41M404.02 138.1l-0.7 0.39M401.4 120.17l0.77 0.2M451 165.44l-0.63 0.49M481 149.79l-0.59 0.54M399.34 175.02l0.24 0.76M440.12 176.25l-0.66 0.45M425.77 174.89l0.77 0.22M391.74 154.26l-0.34 0.73M471.33 157.69l-0.26 0.76M396.12 139.27l-0.8 0.08M433.55 160.02l0.44 0.67M486.4 158.43l-0.8 0.06M443.86 164.94l0.46 0.65M394.9 126.83l0.18 0.78M446.79 134.04l-0.7 0.39M476.12 166.43l0.49 0.63M447.02 120.5l0.11 0.79M421.86 157.53l-0.34 0.73M440.42 125.59l-0.04 0.8M423.38 144.81l0.44 0.67M473.08 139.39l0.45 0.66M413.99 182.96l-0.03 0.8M449.1 160.88l0.58 0.55M432.86 151.56l-0.79 0.13M475.5 175.11l0.73 0.33M444.31 127.96l-0.66 0.45M390.54 137.01l-0.48 0.64M425.4 167.29l-0.78 0.18M429.32 131.18l-0.36 0.71M419.34 175.07l0.67 0.44M453.84 156.01l0.2 0.77M479.5 186.06l0.27 0.75M458.2 132.7l-0.4 0.69M445.74 187.33l0.5 0.63M455.5 146.99l0.26 0.76M428.44 128.86l-0.03 0.8M423.1 157.93l0.79 0.09M397.24 166.81l0.78 0.19M445.4 131.07l0.34 0.72M467.93 181.45l0.1 0.79M422.58 161.1l-0.8 0.04M406.85 125.2l-0.75 0.27M442.54 152.49l-0.73 0.33M441.99 129.05l-0.13 0.79M487.9 175.86l-0.8 0.07M418.15 124.75l0.64 0.48M481.82 185.44l0.62 0.51M436.1 149.84l-0.32 0.73M468.42 125.57l0.24 0.76M413.29 160.55l0.1 0.79M431.37 165.67l0.77 0.22M434.29 133.91l0.79 0.15M446.96 121.23l-0.7 0.38M466.23 160.36l-0.31 0.74M448.25 180.91l0.04 0.8M403.79 146.9l-0.76 0.26M435.75 143.2l0.7 0.39M398.09 187.86l-0.63 0.5M456.03 142.51l0.17 0.78M408.57 139.28l-0.43 0.67M393.79 154.07l-0.02 0.8M392.85 136.79l-0.55 0.58M432.44 155.67l0.13 0.79M436.18 158.66l-0.77 0.2M458.56 131.27l0.75 0.28M464.03 166.43l-0.48 0.64M410.16 133.64l-0.4 0.69M408 142.33l-0.52 0.6M437.69 122.26l-0.7 0.39M395.79 121.16l-0.75 0.29M464.07 154.29l0.77 0.21M412.43 128.68l0.79 0.13M430.5 142.76l-0.32 0.73M430.99 123.01l-0.75 0.29M389.94 121.61l-0.63 0.49M432.55 134.51l-0.8 0.03M391.71 177.96l-0.72 0.36M475.73 153.29l0.02 0.8M426.74 125.91l0.3 0.74M420.88 186.11l-0.31 0.74M430.35 186.11l0 0.8M442.23 126.26l0.76 0.24M455.52 153.86l0.17 0.78M439.97 120.74l-0.53 0.6M436.43 172.68l-0.71 0.37M419.72 161.4l0.2 0.78M449.22 165.79l0.8 0.01M436.93 181.83l0.36 0.71M436.32 126.24l-0.31 0.74M449.94 122.68l0.46 0.66M412.72 176.81l0.25 0.76M478.6 174.93l-0.39 0.7M432.48 180.79l-0.33 0.73M447.61 129.24l-0.54 0.59M419.7 182.17l0.79 0.11M418.24 165.64l0.72 0.36M460.68 168.08l-0.59 0.54M413.68 182.73l0.7 0.4M415.52 170.29l-0.7 0.39M464.31 169.26l-0.8 0.05M466.74 162.02l0.72 0.34M470.34 176.35l0.76 0.25M433.37 181.04l-0.79 0.12M404.51 150.38l-0.71 0.38M442.32 174.73l0.79 0.13M401.34 177.68l0.8 0M473.38 166.71l-0.56 0.57M421.97 123.98l0.3 0.74M482.99 156.93l0.79 0.1M477.7 178.73l0.1 0.79M464.84 153.1l-0.7 0.39M401.19 181.11l0.71 0.37M420.03 182.17l0.79 0.14M481.18 137.08l0.67 0.43M433.24 155.52l-0.66 0.46M487.92 187.45l0.73 0.32M407.7 168.43l0.26 0.75M403.67 166.35l0.13 0.79M470.39 161.34l0.67 0.44M451.08 145.04l0.71 0.37M459.16 120.42l-0.74 0.31M409.37 140.44l0.8 0.02M421.63 170.85l-0.77 0.2M457.51 175.45l-0.1 0.79M433.72 125.5l0.24 0.76M407.17 133.52l-0.78 0.17M389.68 182.62l0.24 0.76M401.7 150.76l0.79 0.13M484.29 162.81l0.75 0.29M429.09 133.08l-0.22 0.77M433 143.28l0.12 0.79M425.58 178.54l-0.74 0.3M395.77 148.3l0.49 0.64M400.84 149.57l0.14 0.79M407.95 180.29l-0.64 0.48M419.67 162.58l0.77 0.22M400.99 123.39l0.14 0.79M432.19 153.62l0.26 0.76M412.4 168.06l-0.34 0.72M440.63 132.36l0.8 0.02M477.9 177.51l-0.79 0.09M423.64 163.89l-0.14 0.79M462.06 124.9l0.27 0.75M404.76 147.71l0.74 0.31M421.77 177.13l0.49 0.63M476.98 173.24l-0.22 0.77M450.82 162.49l0.68 0.41M414.65 154.02l0.8 0.04M460.64 174.87l0.52 0.61M443.16 153.79l-0.74 0.3M477.27 148.89l0.8 0.05M489.55 169.99l-0.47 0.65M457.92 125.49l-0.33 0.73M426.53 165.34l-0.44 0.67M434.89 149.33l0.27 0.75M411.8 140.6l0.75 0.28M464.68 172.21l-0.78 0.16M455.78 158.93l-0.32 0.73M413.23 162.88l-0.02 0.8M489.95 170.19l0.79 0.09M439.46 154.77l-0.39 0.7M396.95 134.09l0 0.8M419.17 182.02l0.22 0.77M396.75 170.24l0.68 0.41M409.92 125.47l0.71 0.37M442.29 171.31l0.34 0.73M403.3 141.73l0.18 0.78M401.56 124.52l0.42 0.68M475.98 147.21l-0.52 0.61M426.51 187.92l0.53 0.6M436.24 130.15l-0.59 0.54M484.53 182.07l-0.58 0.55M402.55 169.03l-0.66 0.45M425.62 138.14l0.59 0.54M470.72 157.84l0.29 0.75M451.56 141.32l0.8 0.02M458.75 149.17l-0.32 0.73M426.55 153.94l-0.18 0.78M411.26 133.59l-0.33 0.73M445.67 152.44l0.35 0.72M459.37 183.43l0.77 0.21M476.41 159.27l-0.57 0.56M448.51 167.48l-0.32 0.73M454.39 153.85l0.16 0.78M454.52 160.86l0.63 0.49M488.25 151.87l0.42 0.68M467.52 167.66l0.49 0.64M458.52 128.59l-0.58 0.55M469.97 162.69l-0.71 0.37M417.79 153.42l0.67 0.44M480.69 188.15l0.25 0.76M391.27 139.78l-0.77 0.21M408.51 129.27l0.21 0.77" stroke="#5a70a0" stroke-width="1.25" stroke-linecap="round" fill="none" opacity="0.8"/>
<path d="M417.83 145.14l-0.22 0.77M430.76 163.97l0.11 0.79M479.11 172.54l-0.43 0.68M487.09 170.01l0.61 0.51M412.17 173.56l-0.64 0.48M415.56 142.95l-0.53 0.6M454.36 138.73l-0.03 0.8M453.43 142.96l-0.02 0.8M432.15 125.07l-0.78 0.19M439.38 144.63l-0.04 0.8M451.93 137.35l0.67 0.43M439.38 182.85l0.58 0.56M415.06 167.28l0.59 0.54M414.02 136.28l0.65 0.46M441.87 128.15l-0.43 0.67M438.91 179.26l0.31 0.74M394.84 165.56l0.6 0.53M441.29 152.33l0.79 0.11M423.71 124.99l0.36 0.71M438.03 154.92l-0.75 0.28M485.32 163.2l-0.04 0.8M404.01 145.32l0.46 0.65M447.85 142.41l0.78 0.2M437.34 173.97l0.64 0.48M438.32 132.93l-0.01 0.8M487.09 167.24l0.1 0.79M423.04 129.47l0.66 0.45M445.43 163.96l0.34 0.73M396.9 126.3l-0.1 0.79M419 162.78l-0.66 0.46M435.75 137.91l0.38 0.7M471.32 177.15l0.67 0.44M406.94 133.3l0.38 0.71M447.74 132.17l-0.52 0.6M395.42 165.85l-0.07 0.8M442.2 153.18l-0.79 0.15M455.73 136.72l-0.77 0.21M430.46 158.59l-0.07 0.8M416.36 151.29l0.64 0.48M453.22 166.23l0.53 0.6M438.16 144.33l-0.76 0.25M432.91 167.82l-0.02 0.8M474.67 180.1l0.23 0.76M402.74 172.98l0.68 0.42M467.53 147.28l-0.74 0.3M439.86 184.18l0.51 0.61M397.59 127.07l-0.78 0.18M425.76 125.86l-0.71 0.36M443.02 131.82l-0.04 0.8M402.89 125.46l0.6 0.53M412.08 122.3l0.67 0.43M398.35 152.43l-0.73 0.32M455.29 180.3l0.63 0.49M430.2 171.54l-0.32 0.73M403.47 166.69l0.09 0.79M436.49 121.97l-0.14 0.79M410.11 142.39l-0.76 0.24M462.91 149.86l0.75 0.29M464.52 142.4l-0.05 0.8M484.33 159.51l0.71 0.36M458.09 122.33l0.53 0.6M389.73 159.43l0.2 0.78M394.41 142.08l-0.31 0.74M395.76 135.81l-0.05 0.8M441.25 129.32l0.55 0.59M419.05 161.64l0.15 0.79M421.66 126.98l0.01 0.8M406.67 127.39l0.79 0.09M446.09 129.59l0.79 0.13M460.69 179.91l-0.41 0.68M480.89 182.6l0.59 0.54M456.59 150.38l-0.68 0.42M477.36 182.22l0.14 0.79M400.79 132.03l-0.66 0.45M468.75 144.58l0.36 0.71M471.56 168.37l-0.63 0.5M481.41 186.77l0.19 0.78M410.79 169.72l0.14 0.79M447.58 174.17l-0.78 0.16M466.24 128.13l-0.46 0.65M389.79 147.62l-0.01 0.8M461.53 188.96l-0.22 0.77M433.39 134.22l-0.76 0.26M398.12 161.84l-0.71 0.37M462.53 155.25l-0.8 0.08M462.39 123.57l-0.74 0.31M390.91 136.53l-0.78 0.16M406.69 154.02l-0.7 0.38M434.24 141.54l0.64 0.48M476.23 156.51l0.71 0.36M488.01 137.72l-0.44 0.67M434.11 169.8l0.48 0.64M459.82 133.89l-0.27 0.75M448.33 150.09l-0.74 0.3M462.24 131.14l-0.67 0.43M419.8 178.7l-0.8 0.05M404.63 144.56l0.79 0.12M472.46 164.12l0.68 0.42M488.08 176.81l0.74 0.31M481.27 188.9l-0.67 0.43M440.8 160.81l0.73 0.33M454.04 187.93l-0.6 0.53M415.78 166.16l-0.56 0.57M407.83 186.34l0.77 0.23M400.02 139.78l0 0.8M449.42 188l-0.68 0.42M468.51 166.4l-0.46 0.65M394.5 171.16l-0.16 0.78M455.48 159.09l0.8 0.06M446.2 179.6l0.78 0.19M452.54 179.58l0.66 0.46M438.37 157.1l-0.66 0.46M434.89 178.4l0.46 0.65M489.1 172.69l0.25 0.76M467.76 173.77l-0.13 0.79M460.63 171.25l-0.79 0.12M475.07 161.37l-0.49 0.63M421.72 138.19l-0.27 0.75M412.64 173.52l0.77 0.21M427.57 159.21l-0.37 0.71M423.31 137.84l-0.31 0.74M476.42 186.25l-0.04 0.8M418.82 159.41l-0.76 0.26M444.83 121.15l0.32 0.73M440.92 128.51l-0.79 0.12M431.36 159.62l0.69 0.4M426.61 125.03l-0.36 0.71M407.55 140.31l-0.67 0.43M476.58 186.58l-0.02 0.8M404.95 181.44l-0.36 0.71M443.79 139.67l0.68 0.42M434.36 150.17l0.67 0.43M419.6 128.49l0.42 0.68M413.25 144.89l-0.63 0.49M442.46 161.43l0.11 0.79M464.43 125.63l-0.57 0.56M444.96 162.94l-0.73 0.32M446.31 161.66l0.71 0.37M422.16 179.48l0.8 0.05M398.89 131.61l-0.78 0.16M431.57 185.32l0.55 0.58M394.6 171.38l0.52 0.61M401.62 143.32l-0.37 0.71M482.32 150.98l-0.37 0.71M393.41 140.29l-0.49 0.63M399.23 141.02l0.79 0.14M460.83 156.14l-0.44 0.67M424.97 157.77l-0.22 0.77M434.39 128.66l0.78 0.18M476.68 162.99l-0.46 0.66M455.34 149.14l0.79 0.1M482.64 138.8l0.67 0.43M481.27 156.69l0.73 0.33M414.17 166.6l-0.79 0.12M433.65 162.62l-0.69 0.41M389.12 135.67l0.61 0.52M462.05 171.79l-0.78 0.18M427.12 180.61l0.71 0.36M475.05 179.06l-0.58 0.55M447.19 186.79l-0.66 0.45M389.47 177.56l0.6 0.53M420.91 158.13l-0.62 0.5M401.76 162.64l0.73 0.32M449.55 165.28l0.4 0.69M454.76 168.83l-0.8 0.07M460.25 157.63l-0.13 0.79M389.9 152.47l-0.69 0.41M429.18 158.68l0.8 0.07M438.83 183.1l0.08 0.8M397.93 147.02l0.6 0.53M455.14 164.33l0.14 0.79M443.44 178.14l-0.78 0.17M447.59 156.12l-0.1 0.79M438.13 178.39l-0.8 0.04M410.95 149.16l0.22 0.77M440.48 168.86l-0.11 0.79M481.87 165.63l0.63 0.49M413.1 135.82l0.38 0.7M429.53 139.05l0.8 0.04M431.27 183.37l-0.63 0.49M428.35 169.93l-0.58 0.55M446.97 163.18l0.69 0.41M434.89 178.99l0.24 0.76M398.85 185.31l0.42 0.68M453.27 154.48l0.8 0.07M461.96 184.31l-0.73 0.32M412.33 144.85l-0.27 0.75M449.83 142.01l-0.2 0.77M484.53 180.88l0.41 0.69M461.48 176.12l0.72 0.35M475.83 151.32l-0.8 0.04M420.69 134.38l-0 0.8M389.22 134.1l0.23 0.77M415.06 142.19l-0.09 0.8M396.58 156.33l-0.46 0.65M453.73 124.1l-0.14 0.79M460.7 145.77l-0.19 0.78M480.95 172.02l0.37 0.71M391.48 139.67l0.8 0.04M393.98 123.11l-0.13 0.79M442.44 151.1l-0.23 0.77M423.17 156.27l0.56 0.57M398.91 186.06l-0.55 0.58M468.16 178.37l0.13 0.79M412.85 131.5l-0.5 0.62M470.71 184.49l0.39 0.7M471.79 152.2l-0.62 0.51M414.34 162.35l-0.18 0.78M471.72 124.94l-0.11 0.79M472.52 143.05l0.23 0.77M474.51 139.71l0.66 0.45M457.9 176.7l-0.11 0.79M401.93 150l-0.23 0.77M457.62 169.11l-0.5 0.63M421.32 123.22l0.54 0.59M413.41 126.41l0.12 0.79M483.13 163.76l0.6 0.53M412.25 125.92l-0.21 0.77M400.42 149.44l-0.8 0.01M483.39 174.67l0.07 0.8M404.91 145.63l0.13 0.79M443.06 166.57l0.76 0.24M445.67 153.58l0.78 0.18M413.28 174.71l-0.72 0.36" stroke="#8a7a58" stroke-width="1.25" stroke-linecap="round" fill="none" opacity="0.8"/>
<ellipse cx="396" cy="156" rx="5.2" ry="7.5" fill="#f7f5ef" stroke="#50628a" stroke-width="1.4"/>
<ellipse cx="449" cy="138" rx="2.8" ry="4.5" transform="rotate(30 449 138)" fill="#f6f4ee"/>
<line x1="472" y1="186.5" x2="487" y2="186.5" stroke="#333" stroke-width="0.8"/>
</g>
<rect x="389" y="119.4" width="101.2" height="69.6" fill="none" stroke="#555" stroke-width="1"/>
<line x1="548.4" y1="38.4" x2="548.4" y2="173.7" stroke="#111" stroke-width="1.2"/>
<line x1="546" y1="173.2" x2="684" y2="173.2" stroke="#111" stroke-width="1.2"/>
<line x1="545.6" y1="172.9" x2="548.4" y2="172.9" stroke="#222" stroke-width="1"/>
<text x="545.4" y="176.4" font-size="10" font-weight="bold" text-anchor="end" fill="#1a1a1a" transform="translate(0 -10.58) scale(1 1.06)" stroke="#1a1a1a" stroke-width="0.14">0</text>
<line x1="545.6" y1="128.55" x2="548.4" y2="128.55" stroke="#222" stroke-width="1"/>
<text x="545.4" y="132.05" font-size="10" font-weight="bold" text-anchor="end" fill="#1a1a1a" transform="translate(0 -7.92) scale(1 1.06)" stroke="#1a1a1a" stroke-width="0.14">5</text>
<line x1="545.6" y1="84.2" x2="548.4" y2="84.2" stroke="#222" stroke-width="1"/>
<text x="545.4" y="87.7" font-size="10" font-weight="bold" text-anchor="end" fill="#1a1a1a" transform="translate(0 -5.26) scale(1 1.06)" stroke="#1a1a1a" stroke-width="0.14">10</text>
<line x1="545.6" y1="39.85" x2="548.4" y2="39.85" stroke="#222" stroke-width="1"/>
<text x="545.4" y="43.35" font-size="10" font-weight="bold" text-anchor="end" fill="#1a1a1a" transform="translate(0 -2.6) scale(1 1.06)" stroke="#1a1a1a" stroke-width="0.14">15</text>
<line x1="582.3" y1="173.3" x2="582.3" y2="175.8" stroke="#222" stroke-width="1"/>
<line x1="649.6" y1="173.3" x2="649.6" y2="175.8" stroke="#222" stroke-width="1"/>
<text x="528.6" y="106.1" font-size="9.6" font-weight="bold" text-anchor="middle" fill="#1a1a1a" transform="translate(528.6 106.1) rotate(-90) scale(1 1.06) translate(-528.6 -106.1)" stroke="#1a1a1a" stroke-width="0.14">IHC score</text>
<text x="611.2" y="19.4" font-size="9.4" font-weight="bold" text-anchor="middle" fill="#1a1a1a" transform="translate(0 -1.16) scale(1 1.06)" stroke="#1a1a1a" stroke-width="0.14">UFL1</text>
<text x="616.5" y="49" font-size="9.4" font-weight="bold" text-anchor="middle" fill="#1a1a1a" transform="translate(0 -2.94) scale(1 1.06)" stroke="#1a1a1a" stroke-width="0.14">P&lt;0.0001</text>
<path d="M582.5,130.2 V52.5 H649.5 V59.2" stroke="#707070" fill="none" stroke-width="1"/>
<circle cx="560.7" cy="164.4" r="1.25" fill="#2d4f95"/>
<circle cx="563.1" cy="164.4" r="1.25" fill="#2d4f95"/>
<circle cx="565.5" cy="164.4" r="1.25" fill="#2d4f95"/>
<circle cx="567.9" cy="164.4" r="1.25" fill="#2d4f95"/>
<circle cx="570.3" cy="164.4" r="1.25" fill="#2d4f95"/>
<circle cx="572.7" cy="164.4" r="1.25" fill="#2d4f95"/>
<circle cx="575.1" cy="164.4" r="1.25" fill="#2d4f95"/>
<circle cx="577.5" cy="164.4" r="1.25" fill="#2d4f95"/>
<circle cx="579.9" cy="164.4" r="1.25" fill="#2d4f95"/>
<circle cx="582.3" cy="164.4" r="1.25" fill="#2d4f95"/>
<circle cx="584.7" cy="164.4" r="1.25" fill="#2d4f95"/>
<circle cx="587.1" cy="164.4" r="1.25" fill="#2d4f95"/>
<circle cx="589.5" cy="164.4" r="1.25" fill="#2d4f95"/>
<circle cx="591.9" cy="164.4" r="1.25" fill="#2d4f95"/>
<circle cx="594.3" cy="164.4" r="1.25" fill="#2d4f95"/>
<circle cx="596.7" cy="164.4" r="1.25" fill="#2d4f95"/>
<circle cx="599.1" cy="164.4" r="1.25" fill="#2d4f95"/>
<circle cx="601.5" cy="164.4" r="1.25" fill="#2d4f95"/>
<circle cx="603.9" cy="164.4" r="1.25" fill="#2d4f95"/>
<circle cx="575.4" cy="155.16" r="1.25" fill="#2d4f95"/>
<circle cx="577.7" cy="155.16" r="1.25" fill="#2d4f95"/>
<circle cx="580" cy="155.16" r="1.25" fill="#2d4f95"/>
<circle cx="582.3" cy="155.16" r="1.25" fill="#2d4f95"/>
<circle cx="584.6" cy="155.16" r="1.25" fill="#2d4f95"/>
<circle cx="586.9" cy="155.16" r="1.25" fill="#2d4f95"/>
<circle cx="589.2" cy="155.16" r="1.25" fill="#2d4f95"/>
<circle cx="580.1" cy="137.42" r="1.25" fill="#2d4f95"/>
<circle cx="582.3" cy="137.42" r="1.25" fill="#2d4f95"/>
<circle cx="584.5" cy="137.42" r="1.25" fill="#2d4f95"/>
<line x1="582.3" y1="152.6" x2="582.3" y2="167.9" stroke="#7590c0" stroke-width="1.2"/>
<line x1="570.8" y1="152.6" x2="593.6" y2="152.6" stroke="#7590c0" stroke-width="1.4"/>
<line x1="570.8" y1="167.9" x2="593.6" y2="167.9" stroke="#7590c0" stroke-width="1.4"/>
<line x1="559.8" y1="160.5" x2="604.6" y2="160.5" stroke="#111" stroke-width="1.1"/>
<circle cx="636.68" cy="65.8" r="1.25" fill="#c8262a"/>
<circle cx="639.03" cy="65.8" r="1.25" fill="#c8262a"/>
<circle cx="641.38" cy="65.8" r="1.25" fill="#c8262a"/>
<circle cx="643.73" cy="65.8" r="1.25" fill="#c8262a"/>
<circle cx="646.08" cy="65.8" r="1.25" fill="#c8262a"/>
<circle cx="648.43" cy="65.8" r="1.25" fill="#c8262a"/>
<circle cx="650.78" cy="65.8" r="1.25" fill="#c8262a"/>
<circle cx="653.13" cy="65.8" r="1.25" fill="#c8262a"/>
<circle cx="655.48" cy="65.8" r="1.25" fill="#c8262a"/>
<circle cx="657.83" cy="65.8" r="1.25" fill="#c8262a"/>
<circle cx="660.18" cy="65.8" r="1.25" fill="#c8262a"/>
<circle cx="662.53" cy="65.8" r="1.25" fill="#c8262a"/>
<circle cx="628.2" cy="93.07" r="1.25" fill="#c8262a"/>
<circle cx="630.6" cy="93.07" r="1.25" fill="#c8262a"/>
<circle cx="633" cy="93.07" r="1.25" fill="#c8262a"/>
<circle cx="635.4" cy="93.07" r="1.25" fill="#c8262a"/>
<circle cx="637.8" cy="93.07" r="1.25" fill="#c8262a"/>
<circle cx="640.2" cy="93.07" r="1.25" fill="#c8262a"/>
<circle cx="642.6" cy="93.07" r="1.25" fill="#c8262a"/>
<circle cx="645" cy="93.07" r="1.25" fill="#c8262a"/>
<circle cx="647.4" cy="93.07" r="1.25" fill="#c8262a"/>
<circle cx="649.8" cy="93.07" r="1.25" fill="#c8262a"/>
<circle cx="652.2" cy="93.07" r="1.25" fill="#c8262a"/>
<circle cx="654.6" cy="93.07" r="1.25" fill="#c8262a"/>
<circle cx="657" cy="93.07" r="1.25" fill="#c8262a"/>
<circle cx="659.4" cy="93.07" r="1.25" fill="#c8262a"/>
<circle cx="661.8" cy="93.07" r="1.25" fill="#c8262a"/>
<circle cx="664.2" cy="93.07" r="1.25" fill="#c8262a"/>
<circle cx="666.6" cy="93.07" r="1.25" fill="#c8262a"/>
<circle cx="669" cy="93.07" r="1.25" fill="#c8262a"/>
<circle cx="671.4" cy="93.07" r="1.25" fill="#c8262a"/>
<circle cx="649.8" cy="119.68" r="1.15" fill="#c8262a"/>
<circle cx="649.8" cy="137.42" r="1.15" fill="#c8262a"/>
<line x1="649.8" y1="66" x2="649.8" y2="102" stroke="#c8262a" stroke-width="1.1"/>
<line x1="638.3" y1="69" x2="661" y2="69" stroke="#dc7070" stroke-width="1.3"/>
<line x1="638" y1="102.1" x2="661" y2="102.1" stroke="#dc7070" stroke-width="1.3"/>
<line x1="627" y1="85.5" x2="672" y2="85.5" stroke="#111" stroke-width="1.1"/>
<text x="583.5" y="189.5" font-size="9.6" font-weight="bold" text-anchor="middle" fill="#1a1a1a" transform="translate(0 -11.37) scale(1 1.06)" stroke="#1a1a1a" stroke-width="0.14">Normal</text>
<text x="583.6" y="201" font-size="9.6" font-weight="bold" text-anchor="middle" fill="#1a1a1a" transform="translate(0 -12.06) scale(1 1.06)" stroke="#1a1a1a" stroke-width="0.14">(n=40)</text>
<text x="650" y="189.5" font-size="9.6" font-weight="bold" text-anchor="middle" fill="#1a1a1a" transform="translate(0 -11.37) scale(1 1.06)" stroke="#1a1a1a" stroke-width="0.14">Tumor</text>
<text x="651.8" y="201" font-size="9.6" font-weight="bold" text-anchor="middle" fill="#1a1a1a" transform="translate(0 -12.06) scale(1 1.06)" stroke="#1a1a1a" stroke-width="0.14">(n=40)</text>
<text x="82" y="260.4" font-size="10" font-weight="bold" text-anchor="middle" fill="#1a1a1a" transform="translate(0 -15.62) scale(1 1.06)" stroke="#1a1a1a" stroke-width="0.14">MDA-MB-231</text>
<line x1="50" y1="264.5" x2="114.1" y2="264.5" stroke="#222" stroke-width="1.1"/>
<text x="9.3" y="276" font-size="9.6" font-weight="bold" text-anchor="start" fill="#1a1a1a" transform="translate(0 -16.56) scale(1 1.06)" stroke="#1a1a1a" stroke-width="0.14">shUFL1</text>
<text x="63.3" y="276" font-size="9.3" font-weight="bold" text-anchor="middle" fill="#1a1a1a" transform="translate(0 -16.56) scale(1 1.06)" stroke="#1a1a1a" stroke-width="0.14">C</text>
<text x="82.6" y="276" font-size="9.3" font-weight="bold" text-anchor="middle" fill="#1a1a1a" transform="translate(0 -16.56) scale(1 1.06)" stroke="#1a1a1a" stroke-width="0.14">#1</text>
<text x="102.5" y="276" font-size="9.3" font-weight="bold" text-anchor="middle" fill="#1a1a1a" transform="translate(0 -16.56) scale(1 1.06)" stroke="#1a1a1a" stroke-width="0.14">#2</text>
<text x="118.2" y="276.9" font-size="7.3" font-weight="bold" text-anchor="start" fill="#1a1a1a" transform="translate(0 -16.61) scale(1 1.06)" stroke="#1a1a1a" stroke-width="0.14">kDa</text>
<rect x="49.6" y="281.6" width="65.7" height="20.1" fill="#eaeaea" stroke="none" stroke-width="1"/>
<path d="M55.6,294.2 C55.6,291.8 59,291.4 62,292.1 C66,292.9 70,293.6 73,294.1 C70,294.6 66,295.4 62,296.2 C59,296.9 55.6,296.6 55.6,294.2z" fill="url(#comet)" filter="url(#bb)"/>
<ellipse cx="84" cy="293.5" rx="6" ry="0.7" fill="#cfcfcf" filter="url(#bb)"/>
<ellipse cx="103" cy="293" rx="6" ry="0.7" fill="#d2d2d2" filter="url(#bb)"/>
<text x="116.5" y="286.8" font-size="6.9" font-weight="bold" text-anchor="start" fill="#1a1a1a" transform="translate(0 -17.21) scale(1 1.06)" stroke="#1a1a1a" stroke-width="0.14">-100</text>
<text x="44.4" y="296.7" font-size="9.3" font-weight="bold" text-anchor="end" fill="#1a1a1a" transform="translate(0 -17.8) scale(1 1.06)" stroke="#1a1a1a" stroke-width="0.14">UFL1</text>
<rect x="49.6" y="305.8" width="65.7" height="20.7" fill="#e6e6e6" stroke="none" stroke-width="1"/>
<rect x="53.6" y="312.2" width="13" height="4.0" rx="1.9" fill="#1e1e1e" filter="url(#bb)"/>
<rect x="73.3" y="312.2" width="16.3" height="4.0" rx="1.9" fill="#1e1e1e" filter="url(#bb)"/>
<rect x="96.8" y="312.2" width="13" height="4.0" rx="1.9" fill="#1e1e1e" filter="url(#bb)"/>
<text x="116.5" y="313.3" font-size="6.9" font-weight="bold" text-anchor="start" fill="#1a1a1a" transform="translate(0 -18.8) scale(1 1.06)" stroke="#1a1a1a" stroke-width="0.14">-45</text>
<text x="45" y="321" font-size="9.6" font-weight="bold" text-anchor="end" fill="#1a1a1a" transform="translate(0 -19.26) scale(1 1.06)" stroke="#1a1a1a" stroke-width="0.14">Actin</text>
<text x="79.8" y="369.3" font-size="10" font-weight="bold" text-anchor="middle" fill="#1a1a1a" transform="translate(0 -22.16) scale(1 1.06)" stroke="#1a1a1a" stroke-width="0.14">HCC1806</text>
<line x1="50.6" y1="372.8" x2="114.7" y2="372.8" stroke="#222" stroke-width="1.1"/>
<text x="10.7" y="385.8" font-size="9.6" font-weight="bold" text-anchor="start" fill="#1a1a1a" transform="translate(0 -23.15) scale(1 1.06)" stroke="#1a1a1a" stroke-width="0.14">shUFL1</text>
<text x="59.2" y="383.6" font-size="9.3" font-weight="bold" text-anchor="middle" fill="#1a1a1a" transform="translate(0 -23.02) scale(1 1.06)" stroke="#1a1a1a" stroke-width="0.14">C</text>
<text x="79.2" y="383.6" font-size="9.3" font-weight="bold" text-anchor="middle" fill="#1a1a1a" transform="translate(0 -23.02) scale(1 1.06)" stroke="#1a1a1a" stroke-width="0.14">#1</text>
<text x="98.5" y="383.6" font-size="9.3" font-weight="bold" text-anchor="middle" fill="#1a1a1a" transform="translate(0 -23.02) scale(1 1.06)" stroke="#1a1a1a" stroke-width="0.14">#2</text>
<text x="118.9" y="384.4" font-size="7.3" font-weight="bold" text-anchor="start" fill="#1a1a1a" transform="translate(0 -23.06) scale(1 1.06)" stroke="#1a1a1a" stroke-width="0.14">kDa</text>
<rect x="50.2" y="388.9" width="64.9" height="20.7" fill="#eaeaea" stroke="none" stroke-width="1"/>
<rect x="54" y="390" width="16" height="19" fill="#e3e3e3" stroke="none" stroke-width="1" filter="url(#bl1)"/>
<rect x="55.4" y="398.9" width="13.8" height="4.0" rx="2" fill="#151515" filter="url(#bb)"/>
<ellipse cx="82" cy="399.5" rx="4" ry="0.5" fill="#d0d0d0" filter="url(#bb)"/>
<text x="117.2" y="394.5" font-size="6.9" font-weight="bold" text-anchor="start" fill="#1a1a1a" transform="translate(0 -23.67) scale(1 1.06)" stroke="#1a1a1a" stroke-width="0.14">-100</text>
<text x="45.9" y="406.9" font-size="9.3" font-weight="bold" text-anchor="end" fill="#1a1a1a" transform="translate(0 -24.41) scale(1 1.06)" stroke="#1a1a1a" stroke-width="0.14">UFL1</text>
<rect x="50.2" y="414.3" width="64.9" height="19.7" fill="#e7e7e7" stroke="none" stroke-width="1"/>
<rect x="55.2" y="421.6" width="13.8" height="3.7" rx="1.8" fill="#262626" filter="url(#bb)"/>
<rect x="76.8" y="421.6" width="12.2" height="3.7" rx="1.8" fill="#262626" filter="url(#bb)"/>
<rect x="95.8" y="421.6" width="12.5" height="3.7" rx="1.8" fill="#262626" filter="url(#bb)"/>
<text x="117.2" y="422" font-size="6.9" font-weight="bold" text-anchor="start" fill="#1a1a1a" transform="translate(0 -25.32) scale(1 1.06)" stroke="#1a1a1a" stroke-width="0.14">-45</text>
<text x="46.5" y="431.3" font-size="9.6" font-weight="bold" text-anchor="end" fill="#1a1a1a" transform="translate(0 -25.88) scale(1 1.06)" stroke="#1a1a1a" stroke-width="0.14">Actin</text>
<text x="247.5" y="235.9" font-size="9.6" font-weight="bold" text-anchor="middle" fill="#1a1a1a" transform="translate(0 -14.15) scale(1 1.06)" stroke="#1a1a1a" stroke-width="0.14">MDA-MB-231</text>
<line x1="193.3" y1="251.8" x2="193.3" y2="319.6" stroke="#222" stroke-width="1.2"/>
<line x1="192.7" y1="318.8" x2="295" y2="318.8" stroke="#444" stroke-width="1.8"/>
<line x1="190.5" y1="318.8" x2="193.3" y2="318.8" stroke="#222" stroke-width="1.1"/>
<text x="190.1" y="321.9" font-size="9.3" font-weight="bold" text-anchor="end" fill="#1a1a1a" transform="translate(0 -19.31) scale(1 1.06)" stroke="#1a1a1a" stroke-width="0.14">0</text>
<line x1="190.5" y1="302.25" x2="193.3" y2="302.25" stroke="#222" stroke-width="1.1"/>
<text x="190.1" y="305.35" font-size="9.3" font-weight="bold" text-anchor="end" fill="#1a1a1a" transform="translate(0 -18.32) scale(1 1.06)" stroke="#1a1a1a" stroke-width="0.14">20</text>
<line x1="190.5" y1="285.7" x2="193.3" y2="285.7" stroke="#222" stroke-width="1.1"/>
<text x="190.1" y="288.8" font-size="9.3" font-weight="bold" text-anchor="end" fill="#1a1a1a" transform="translate(0 -17.33) scale(1 1.06)" stroke="#1a1a1a" stroke-width="0.14">40</text>
<line x1="190.5" y1="269.15" x2="193.3" y2="269.15" stroke="#222" stroke-width="1.1"/>
<text x="190.1" y="272.25" font-size="9.3" font-weight="bold" text-anchor="end" fill="#1a1a1a" transform="translate(0 -16.34) scale(1 1.06)" stroke="#1a1a1a" stroke-width="0.14">60</text>
<line x1="190.5" y1="252.6" x2="193.3" y2="252.6" stroke="#222" stroke-width="1.1"/>
<text x="190.1" y="255.7" font-size="9.3" font-weight="bold" text-anchor="end" fill="#1a1a1a" transform="translate(0 -15.34) scale(1 1.06)" stroke="#1a1a1a" stroke-width="0.14">80</text>
<line x1="193.3" y1="318.8" x2="193.3" y2="321.4" stroke="#222" stroke-width="1.1"/>
<text x="193.3" y="330" font-size="9.3" font-weight="bold" text-anchor="middle" fill="#1a1a1a" transform="translate(0 -19.8) scale(1 1.06)" stroke="#1a1a1a" stroke-width="0.14">0</text>
<line x1="227" y1="318.8" x2="227" y2="321.4" stroke="#222" stroke-width="1.1"/>
<text x="227" y="330" font-size="9.3" font-weight="bold" text-anchor="middle" fill="#1a1a1a" transform="translate(0 -19.8) scale(1 1.06)" stroke="#1a1a1a" stroke-width="0.14">2</text>
<line x1="260.7" y1="318.8" x2="260.7" y2="321.4" stroke="#222" stroke-width="1.1"/>
<text x="260.7" y="330" font-size="9.3" font-weight="bold" text-anchor="middle" fill="#1a1a1a" transform="translate(0 -19.8) scale(1 1.06)" stroke="#1a1a1a" stroke-width="0.14">4</text>
<line x1="294.4" y1="318.8" x2="294.4" y2="321.4" stroke="#222" stroke-width="1.1"/>
<text x="294.4" y="330" font-size="9.3" font-weight="bold" text-anchor="middle" fill="#1a1a1a" transform="translate(0 -19.8) scale(1 1.06)" stroke="#1a1a1a" stroke-width="0.14">6</text>
<text x="302.5" y="330" font-size="9.3" font-weight="bold" text-anchor="start" fill="#1a1a1a" transform="translate(0 -19.8) scale(1 1.06)" stroke="#1a1a1a" stroke-width="0.14">Days</text>
<text x="174.7" y="281.2" font-size="9.7" font-weight="bold" text-anchor="middle" fill="#1a1a1a" transform="translate(174.7 281.2) rotate(-90) scale(1 1.06) translate(-174.7 -281.2)" stroke="#1a1a1a" stroke-width="0.14">Cell number (×10⁴)</text>
<polyline points="193.3,317.15 210.15,317.15 227,314.5 243.85,311.52 260.7,301.42 277.55,284.05 294.4,271.63" fill="none" stroke="#c3283a" stroke-width="1.6"/>
<circle cx="193.3" cy="317.15" r="1.9" fill="#c3283a"/>
<circle cx="210.15" cy="317.15" r="1.9" fill="#c3283a"/>
<circle cx="227" cy="314.5" r="1.9" fill="#c3283a"/>
<circle cx="243.85" cy="311.52" r="1.9" fill="#c3283a"/>
<line x1="260.7" y1="302.66" x2="260.7" y2="300.18" stroke="#c3283a" stroke-width="1.1"/>
<line x1="259.1" y1="300.18" x2="262.3" y2="300.18" stroke="#c3283a" stroke-width="1.1"/>
<line x1="259.1" y1="302.66" x2="262.3" y2="302.66" stroke="#c3283a" stroke-width="1.1"/>
<circle cx="260.7" cy="301.42" r="1.9" fill="#c3283a"/>
<line x1="277.55" y1="286.94" x2="277.55" y2="281.15" stroke="#c3283a" stroke-width="1.1"/>
<line x1="275.95" y1="281.15" x2="279.15" y2="281.15" stroke="#c3283a" stroke-width="1.1"/>
<line x1="275.95" y1="286.94" x2="279.15" y2="286.94" stroke="#c3283a" stroke-width="1.1"/>
<circle cx="277.55" cy="284.05" r="1.9" fill="#c3283a"/>
<line x1="294.4" y1="277.84" x2="294.4" y2="265.43" stroke="#c3283a" stroke-width="1.1"/>
<line x1="292.8" y1="265.43" x2="296" y2="265.43" stroke="#c3283a" stroke-width="1.1"/>
<line x1="292.8" y1="277.84" x2="296" y2="277.84" stroke="#c3283a" stroke-width="1.1"/>
<circle cx="294.4" cy="271.63" r="1.9" fill="#c3283a"/>
<polyline points="193.3,317.15 210.15,317.15 227,317.15 243.85,316.32 260.7,313.01 277.55,311.77 294.4,305.15" fill="none" stroke="#7fa3b6" stroke-width="1.6"/>
<rect x="191.5" y="315.35" width="3.6" height="3.6" fill="#7fa3b6" stroke="none" stroke-width="1"/>
<rect x="208.35" y="315.35" width="3.6" height="3.6" fill="#7fa3b6" stroke="none" stroke-width="1"/>
<rect x="225.2" y="315.35" width="3.6" height="3.6" fill="#7fa3b6" stroke="none" stroke-width="1"/>
<rect x="242.05" y="314.52" width="3.6" height="3.6" fill="#7fa3b6" stroke="none" stroke-width="1"/>
<rect x="258.9" y="311.21" width="3.6" height="3.6" fill="#7fa3b6" stroke="none" stroke-width="1"/>
<rect x="275.75" y="309.97" width="3.6" height="3.6" fill="#7fa3b6" stroke="none" stroke-width="1"/>
<line x1="294.4" y1="306.39" x2="294.4" y2="303.91" stroke="#7fa3b6" stroke-width="1.1"/>
<line x1="292.8" y1="303.91" x2="296" y2="303.91" stroke="#7fa3b6" stroke-width="1.1"/>
<line x1="292.8" y1="306.39" x2="296" y2="306.39" stroke="#7fa3b6" stroke-width="1.1"/>
<rect x="292.6" y="303.35" width="3.6" height="3.6" fill="#7fa3b6" stroke="none" stroke-width="1"/>
<polyline points="193.3,317.56 210.15,317.56 227,317.56 243.85,316.98 260.7,313.84 277.55,312.59 294.4,310.11" fill="none" stroke="#3b5e8e" stroke-width="1.6"/>
<path d="M193.3,315.26 L195.4,319.16 L191.2,319.16 Z" fill="#3b5e8e"/>
<path d="M210.15,315.26 L212.25,319.16 L208.05,319.16 Z" fill="#3b5e8e"/>
<path d="M227,315.26 L229.1,319.16 L224.9,319.16 Z" fill="#3b5e8e"/>
<path d="M243.85,314.68 L245.95,318.58 L241.75,318.58 Z" fill="#3b5e8e"/>
<path d="M260.7,311.54 L262.8,315.44 L258.6,315.44 Z" fill="#3b5e8e"/>
<path d="M277.55,310.29 L279.65,314.19 L275.45,314.19 Z" fill="#3b5e8e"/>
<line x1="294.4" y1="311.77" x2="294.4" y2="308.46" stroke="#3b5e8e" stroke-width="1.1"/>
<line x1="292.8" y1="308.46" x2="296" y2="308.46" stroke="#3b5e8e" stroke-width="1.1"/>
<line x1="292.8" y1="311.77" x2="296" y2="311.77" stroke="#3b5e8e" stroke-width="1.1"/>
<path d="M294.4,307.81 L296.5,311.71 L292.3,311.71 Z" fill="#3b5e8e"/>
<line x1="199.9" y1="248.1" x2="207.6" y2="248.1" stroke="#c3283a" stroke-width="1.4"/>
<circle cx="203.75" cy="248.1" r="1.71" fill="#c3283a"/>
<text x="210" y="251.2" font-size="9.8" font-weight="bold" text-anchor="start" fill="#1a1a1a" stroke="none">Ctrl</text>
<line x1="199.9" y1="256" x2="207.6" y2="256" stroke="#7fa3b6" stroke-width="1.4"/>
<rect x="202.13" y="254.38" width="3.24" height="3.24" fill="#7fa3b6" stroke="none" stroke-width="1"/>
<text x="210" y="259.1" font-size="9.8" font-weight="bold" text-anchor="start" fill="#1a1a1a" stroke="none">shUFL1 #1</text>
<line x1="199.9" y1="264" x2="207.6" y2="264" stroke="#3b5e8e" stroke-width="1.4"/>
<path d="M203.75,261.93 L205.64,265.44 L201.86,265.44 Z" fill="#3b5e8e"/>
<text x="210" y="267.1" font-size="9.8" font-weight="bold" text-anchor="start" fill="#1a1a1a" stroke="none">shUFL1 #2</text>
<path d="M298.4,270.4 H300.6 V305.2 H298.4" stroke="#888" fill="none" stroke-width="0.9"/>
<path d="M311,270.4 H313.2 V310.4 H311" stroke="#888" fill="none" stroke-width="0.9"/>
<text x="306.8" y="287.8" font-size="7.3" text-anchor="middle" fill="#1a1a1a" transform="translate(306.8 287.8) rotate(-90) scale(1 1.06) translate(-306.8 -287.8)" stroke="#1a1a1a" stroke-width="0.2">P=0.0001</text>
<text x="319.4" y="290.4" font-size="7.3" text-anchor="middle" fill="#1a1a1a" transform="translate(319.4 290.4) rotate(-90) scale(1 1.06) translate(-319.4 -290.4)" stroke="#1a1a1a" stroke-width="0.2">P&lt;0.0001</text>
<text x="240.7" y="347.9" font-size="9.6" font-weight="bold" text-anchor="middle" fill="#1a1a1a" transform="translate(0 -20.87) scale(1 1.06)" stroke="#1a1a1a" stroke-width="0.14">HCC1806</text>
<line x1="194.5" y1="361.3" x2="194.5" y2="430.6" stroke="#222" stroke-width="1.2"/>
<line x1="193.9" y1="429.8" x2="297.1" y2="429.8" stroke="#444" stroke-width="1.8"/>
<line x1="191.7" y1="429.8" x2="194.5" y2="429.8" stroke="#222" stroke-width="1.1"/>
<text x="191.3" y="432.9" font-size="9.3" font-weight="bold" text-anchor="end" fill="#1a1a1a" transform="translate(0 -25.97) scale(1 1.06)" stroke="#1a1a1a" stroke-width="0.14">0</text>
<line x1="191.7" y1="412.9" x2="194.5" y2="412.9" stroke="#222" stroke-width="1.1"/>
<text x="191.3" y="416" font-size="9.3" font-weight="bold" text-anchor="end" fill="#1a1a1a" transform="translate(0 -24.96) scale(1 1.06)" stroke="#1a1a1a" stroke-width="0.14">10</text>
<line x1="191.7" y1="396" x2="194.5" y2="396" stroke="#222" stroke-width="1.1"/>
<text x="191.3" y="399.1" font-size="9.3" font-weight="bold" text-anchor="end" fill="#1a1a1a" transform="translate(0 -23.95) scale(1 1.06)" stroke="#1a1a1a" stroke-width="0.14">20</text>
<line x1="191.7" y1="379.1" x2="194.5" y2="379.1" stroke="#222" stroke-width="1.1"/>
<text x="191.3" y="382.2" font-size="9.3" font-weight="bold" text-anchor="end" fill="#1a1a1a" transform="translate(0 -22.93) scale(1 1.06)" stroke="#1a1a1a" stroke-width="0.14">30</text>
<line x1="191.7" y1="362.2" x2="194.5" y2="362.2" stroke="#222" stroke-width="1.1"/>
<text x="191.3" y="365.3" font-size="9.3" font-weight="bold" text-anchor="end" fill="#1a1a1a" transform="translate(0 -21.92) scale(1 1.06)" stroke="#1a1a1a" stroke-width="0.14">40</text>
<line x1="194.5" y1="429.8" x2="194.5" y2="432.4" stroke="#222" stroke-width="1.1"/>
<text x="194.5" y="441" font-size="9.3" font-weight="bold" text-anchor="middle" fill="#1a1a1a" transform="translate(0 -26.46) scale(1 1.06)" stroke="#1a1a1a" stroke-width="0.14">0</text>
<line x1="228.5" y1="429.8" x2="228.5" y2="432.4" stroke="#222" stroke-width="1.1"/>
<text x="228.5" y="441" font-size="9.3" font-weight="bold" text-anchor="middle" fill="#1a1a1a" transform="translate(0 -26.46) scale(1 1.06)" stroke="#1a1a1a" stroke-width="0.14">2</text>
<line x1="262.5" y1="429.8" x2="262.5" y2="432.4" stroke="#222" stroke-width="1.1"/>
<text x="262.5" y="441" font-size="9.3" font-weight="bold" text-anchor="middle" fill="#1a1a1a" transform="translate(0 -26.46) scale(1 1.06)" stroke="#1a1a1a" stroke-width="0.14">4</text>
<line x1="296.5" y1="429.8" x2="296.5" y2="432.4" stroke="#222" stroke-width="1.1"/>
<text x="296.5" y="441" font-size="9.3" font-weight="bold" text-anchor="middle" fill="#1a1a1a" transform="translate(0 -26.46) scale(1 1.06)" stroke="#1a1a1a" stroke-width="0.14">6</text>
<text x="304.6" y="441" font-size="9.3" font-weight="bold" text-anchor="start" fill="#1a1a1a" transform="translate(0 -26.46) scale(1 1.06)" stroke="#1a1a1a" stroke-width="0.14">Days</text>
<text x="174.7" y="398.2" font-size="9.7" font-weight="bold" text-anchor="middle" fill="#1a1a1a" transform="translate(174.7 398.2) rotate(-90) scale(1 1.06) translate(-174.7 -398.2)" stroke="#1a1a1a" stroke-width="0.14">Cell number (×10⁴)</text>
<polyline points="194.5,426.42 211.5,426.42 228.5,425.07 245.5,423.04 262.5,416.28 279.5,406.14 296.5,379.1" fill="none" stroke="#c3283a" stroke-width="1.6"/>
<circle cx="194.5" cy="426.42" r="1.9" fill="#c3283a"/>
<circle cx="211.5" cy="426.42" r="1.9" fill="#c3283a"/>
<circle cx="228.5" cy="425.07" r="1.9" fill="#c3283a"/>
<circle cx="245.5" cy="423.04" r="1.9" fill="#c3283a"/>
<line x1="262.5" y1="418.31" x2="262.5" y2="414.25" stroke="#c3283a" stroke-width="1.1"/>
<line x1="260.9" y1="414.25" x2="264.1" y2="414.25" stroke="#c3283a" stroke-width="1.1"/>
<line x1="260.9" y1="418.31" x2="264.1" y2="418.31" stroke="#c3283a" stroke-width="1.1"/>
<circle cx="262.5" cy="416.28" r="1.9" fill="#c3283a"/>
<circle cx="279.5" cy="406.14" r="1.9" fill="#c3283a"/>
<line x1="296.5" y1="386.37" x2="296.5" y2="371.83" stroke="#c3283a" stroke-width="1.1"/>
<line x1="294.9" y1="371.83" x2="298.1" y2="371.83" stroke="#c3283a" stroke-width="1.1"/>
<line x1="294.9" y1="386.37" x2="298.1" y2="386.37" stroke="#c3283a" stroke-width="1.1"/>
<circle cx="296.5" cy="379.1" r="1.9" fill="#c3283a"/>
<polyline points="194.5,426.42 211.5,426.42 228.5,426.42 245.5,425.57 262.5,423.72 279.5,419.66 296.5,412.9" fill="none" stroke="#7fa3b6" stroke-width="1.6"/>
<rect x="192.7" y="424.62" width="3.6" height="3.6" fill="#7fa3b6" stroke="none" stroke-width="1"/>
<rect x="209.7" y="424.62" width="3.6" height="3.6" fill="#7fa3b6" stroke="none" stroke-width="1"/>
<rect x="226.7" y="424.62" width="3.6" height="3.6" fill="#7fa3b6" stroke="none" stroke-width="1"/>
<rect x="243.7" y="423.77" width="3.6" height="3.6" fill="#7fa3b6" stroke="none" stroke-width="1"/>
<rect x="260.7" y="421.92" width="3.6" height="3.6" fill="#7fa3b6" stroke="none" stroke-width="1"/>
<rect x="277.7" y="417.86" width="3.6" height="3.6" fill="#7fa3b6" stroke="none" stroke-width="1"/>
<line x1="296.5" y1="414.25" x2="296.5" y2="411.55" stroke="#7fa3b6" stroke-width="1.1"/>
<line x1="294.9" y1="411.55" x2="298.1" y2="411.55" stroke="#7fa3b6" stroke-width="1.1"/>
<line x1="294.9" y1="414.25" x2="298.1" y2="414.25" stroke="#7fa3b6" stroke-width="1.1"/>
<rect x="294.7" y="411.1" width="3.6" height="3.6" fill="#7fa3b6" stroke="none" stroke-width="1"/>
<polyline points="194.5,426.42 211.5,426.42 228.5,426.76 245.5,425.91 262.5,424.73 279.5,421.35 296.5,417.12" fill="none" stroke="#3b5e8e" stroke-width="1.6"/>
<path d="M194.5,424.12 L196.6,428.02 L192.4,428.02 Z" fill="#3b5e8e"/>
<path d="M211.5,424.12 L213.6,428.02 L209.4,428.02 Z" fill="#3b5e8e"/>
<path d="M228.5,424.46 L230.6,428.36 L226.4,428.36 Z" fill="#3b5e8e"/>
<path d="M245.5,423.61 L247.6,427.51 L243.4,427.51 Z" fill="#3b5e8e"/>
<path d="M262.5,422.43 L264.6,426.33 L260.4,426.33 Z" fill="#3b5e8e"/>
<path d="M279.5,419.05 L281.6,422.95 L277.4,422.95 Z" fill="#3b5e8e"/>
<line x1="296.5" y1="418.48" x2="296.5" y2="415.77" stroke="#3b5e8e" stroke-width="1.1"/>
<line x1="294.9" y1="415.77" x2="298.1" y2="415.77" stroke="#3b5e8e" stroke-width="1.1"/>
<line x1="294.9" y1="418.48" x2="298.1" y2="418.48" stroke="#3b5e8e" stroke-width="1.1"/>
<path d="M296.5,414.82 L298.6,418.73 L294.4,418.73 Z" fill="#3b5e8e"/>
<line x1="201.1" y1="358" x2="208.8" y2="358" stroke="#c3283a" stroke-width="1.4"/>
<circle cx="204.95" cy="358" r="1.71" fill="#c3283a"/>
<text x="211.2" y="361.1" font-size="9.8" font-weight="bold" text-anchor="start" fill="#1a1a1a" stroke="none">Ctrl</text>
<line x1="201.1" y1="366.5" x2="208.8" y2="366.5" stroke="#7fa3b6" stroke-width="1.4"/>
<rect x="203.33" y="364.88" width="3.24" height="3.24" fill="#7fa3b6" stroke="none" stroke-width="1"/>
<text x="211.2" y="369.6" font-size="9.8" font-weight="bold" text-anchor="start" fill="#1a1a1a" stroke="none">shUFL1 #1</text>
<line x1="201.1" y1="374.7" x2="208.8" y2="374.7" stroke="#3b5e8e" stroke-width="1.4"/>
<path d="M204.95,372.63 L206.84,376.14 L203.06,376.14 Z" fill="#3b5e8e"/>
<text x="211.2" y="377.8" font-size="9.8" font-weight="bold" text-anchor="start" fill="#1a1a1a" stroke="none">shUFL1 #2</text>
<path d="M300.6,378 H302.8 V411.9 H300.6" stroke="#888" fill="none" stroke-width="0.9"/>
<path d="M311.4,378 H313.6 V417.4 H311.4" stroke="#888" fill="none" stroke-width="0.9"/>
<text x="309" y="394.95" font-size="7.3" text-anchor="middle" fill="#1a1a1a" transform="translate(309 394.95) rotate(-90) scale(1 1.06) translate(-309 -394.95)" stroke="#1a1a1a" stroke-width="0.2">P=0.0001</text>
<text x="319.8" y="397.7" font-size="7.3" text-anchor="middle" fill="#1a1a1a" transform="translate(319.8 397.7) rotate(-90) scale(1 1.06) translate(-319.8 -397.7)" stroke="#1a1a1a" stroke-width="0.2">P&lt;0.0001</text>
<text x="510.5" y="230.4" font-size="9.6" font-weight="bold" text-anchor="middle" fill="#1a1a1a" transform="translate(0 -13.82) scale(1 1.06)" stroke="#1a1a1a" stroke-width="0.14">MDA-MB-231</text>
<text x="516.7" y="349.5" font-size="9.6" font-weight="bold" text-anchor="middle" fill="#1a1a1a" transform="translate(0 -20.97) scale(1 1.06)" stroke="#1a1a1a" stroke-width="0.14">HCC1806</text>
<line x1="379.3" y1="245.5" x2="379.3" y2="314" stroke="#222" stroke-width="1.3"/>
<line x1="378.7" y1="313.2" x2="482.15" y2="313.2" stroke="#222" stroke-width="1.5"/>
<line x1="376.5" y1="313.2" x2="379.3" y2="313.2" stroke="#222" stroke-width="1.1"/>
<text x="376.3" y="316.4" font-size="9.4" font-weight="bold" text-anchor="end" fill="#1a1a1a" transform="translate(0 -18.98) scale(1 1.06)" stroke="#1a1a1a" stroke-width="0.14">0</text>
<line x1="376.5" y1="285.2" x2="379.3" y2="285.2" stroke="#222" stroke-width="1.1"/>
<text x="376.3" y="288.4" font-size="9.4" font-weight="bold" text-anchor="end" fill="#1a1a1a" transform="translate(0 -17.3) scale(1 1.06)" stroke="#1a1a1a" stroke-width="0.14">50</text>
<line x1="376.5" y1="257.2" x2="379.3" y2="257.2" stroke="#222" stroke-width="1.1"/>
<text x="376.3" y="260.4" font-size="9.4" font-weight="bold" text-anchor="end" fill="#1a1a1a" transform="translate(0 -15.62) scale(1 1.06)" stroke="#1a1a1a" stroke-width="0.14">100</text>
<line x1="379.3" y1="313.2" x2="379.3" y2="315.8" stroke="#222" stroke-width="1.1"/>
<text x="379.7" y="324.9" font-size="9.4" font-weight="bold" text-anchor="middle" fill="#1a1a1a" transform="translate(0 -19.49) scale(1 1.06)" stroke="#1a1a1a" stroke-width="0.14">-2</text>
<line x1="399.75" y1="313.2" x2="399.75" y2="315.8" stroke="#222" stroke-width="1.1"/>
<text x="400.15" y="324.9" font-size="9.4" font-weight="bold" text-anchor="middle" fill="#1a1a1a" transform="translate(0 -19.49) scale(1 1.06)" stroke="#1a1a1a" stroke-width="0.14">-1</text>
<line x1="420.2" y1="313.2" x2="420.2" y2="315.8" stroke="#222" stroke-width="1.1"/>
<text x="420.2" y="324.9" font-size="9.4" font-weight="bold" text-anchor="middle" fill="#1a1a1a" transform="translate(0 -19.49) scale(1 1.06)" stroke="#1a1a1a" stroke-width="0.14">0</text>
<line x1="440.65" y1="313.2" x2="440.65" y2="315.8" stroke="#222" stroke-width="1.1"/>
<text x="440.65" y="324.9" font-size="9.4" font-weight="bold" text-anchor="middle" fill="#1a1a1a" transform="translate(0 -19.49) scale(1 1.06)" stroke="#1a1a1a" stroke-width="0.14">1</text>
<line x1="461.1" y1="313.2" x2="461.1" y2="315.8" stroke="#222" stroke-width="1.1"/>
<text x="461.1" y="324.9" font-size="9.4" font-weight="bold" text-anchor="middle" fill="#1a1a1a" transform="translate(0 -19.49) scale(1 1.06)" stroke="#1a1a1a" stroke-width="0.14">2</text>
<line x1="481.55" y1="313.2" x2="481.55" y2="315.8" stroke="#222" stroke-width="1.1"/>
<text x="481.55" y="324.9" font-size="9.4" font-weight="bold" text-anchor="middle" fill="#1a1a1a" transform="translate(0 -19.49) scale(1 1.06)" stroke="#1a1a1a" stroke-width="0.14">3</text>
<text x="431.8" y="339.3" font-size="9.7" font-weight="bold" text-anchor="middle" fill="#1a1a1a" transform="translate(0 -20.36) scale(1 1.06)" stroke="#1a1a1a" stroke-width="0.14">conc. Cisplatin[log(μM)]</text>
<text x="358.4" y="282.6" font-size="9.4" font-weight="bold" text-anchor="middle" fill="#1a1a1a" transform="translate(358.4 282.6) rotate(-90) scale(1 1.06) translate(-358.4 -282.6)" stroke="#1a1a1a" stroke-width="0.14">Relative survival(%)</text>
<polyline points="382.6,264.2 383.58,264.45 384.56,264.72 385.53,264.99 386.51,265.27 387.49,265.56 388.47,265.86 389.44,266.17 390.42,266.48 391.4,266.81 392.38,267.14 393.35,267.48 394.33,267.83 395.31,268.19 396.29,268.56 397.26,268.94 398.24,269.33 399.22,269.72 400.2,270.13 401.17,270.54 402.15,270.97 403.13,271.4 404.11,271.84 405.08,272.29 406.06,272.74 407.04,273.21 408.02,273.68 408.99,274.17 409.97,274.66 410.95,275.15 411.93,275.66 412.9,276.17 413.88,276.69 414.86,277.21 415.84,277.74 416.81,278.28 417.79,278.82 418.77,279.36 419.75,279.91 420.72,280.46 421.7,281.02 422.68,281.58 423.66,282.14 424.63,282.71 425.61,283.28 426.59,283.84 427.56,284.41 428.54,284.98 429.52,285.55 430.5,286.12 431.48,286.68 432.45,287.25 433.43,287.81 434.41,288.37 435.39,288.93 436.36,289.48 437.34,290.03 438.32,290.57 439.3,291.11 440.27,291.65 441.25,292.18 442.23,292.7 443.21,293.21 444.18,293.72 445.16,294.23 446.14,294.72 447.12,295.21 448.09,295.69 449.07,296.16 450.05,296.63 451.03,297.08 452,297.53 452.98,297.97 453.96,298.4 454.94,298.82 455.91,299.23 456.89,299.64 457.87,300.03 458.85,300.42 459.82,300.79 460.8,301.16" fill="none" stroke="#c3283a" stroke-width="1.6"/>
<polyline points="382.6,274.08 383.58,274.7 384.56,275.34 385.53,276 386.51,276.68 387.49,277.39 388.47,278.12 389.44,278.86 390.42,279.63 391.4,280.41 392.38,281.21 393.35,282.02 394.33,282.85 395.31,283.69 396.29,284.54 397.26,285.4 398.24,286.26 399.22,287.13 400.2,288 401.17,288.87 402.15,289.74 403.13,290.6 404.11,291.46 405.08,292.31 406.06,293.15 407.04,293.98 408.02,294.79 408.99,295.59 409.97,296.37 410.95,297.14 411.93,297.88 412.9,298.61 413.88,299.32 414.86,300 415.84,300.66 416.81,301.3 417.79,301.92 418.77,302.51 419.75,303.08 420.72,303.63 421.7,304.15 422.68,304.65 423.66,305.13 424.63,305.59 425.61,306.03 426.59,306.44 427.56,306.84 428.54,307.21 429.52,307.56 430.5,307.9 431.48,308.22 432.45,308.52 433.43,308.81 434.41,309.08 435.39,309.33 436.36,309.57 437.34,309.8 438.32,310.01 439.3,310.21 440.27,310.4 441.25,310.57 442.23,310.74 443.21,310.9 444.18,311.04 445.16,311.18 446.14,311.31 447.12,311.43 448.09,311.55 449.07,311.66 450.05,311.76 451.03,311.85 452,311.94 452.98,312.02 453.96,312.1 454.94,312.17 455.91,312.24 456.89,312.3 457.87,312.36 458.85,312.41 459.82,312.47 460.8,312.51" fill="none" stroke="#7fa3b6" stroke-width="1.6"/>
<polyline points="382.6,276 383.58,276.86 384.56,277.75 385.53,278.67 386.51,279.63 387.49,280.61 388.47,281.61 389.44,282.64 390.42,283.69 391.4,284.75 392.38,285.83 393.35,286.91 394.33,288 395.31,289.09 396.29,290.17 397.26,291.25 398.24,292.31 399.22,293.36 400.2,294.39 401.17,295.39 402.15,296.37 403.13,297.33 404.11,298.25 405.08,299.14 406.06,300 407.04,300.82 408.02,301.61 408.99,302.37 409.97,303.08 410.95,303.76 411.93,304.41 412.9,305.02 413.88,305.59 414.86,306.13 415.84,306.64 416.81,307.12 417.79,307.56 418.77,307.98 419.75,308.37 420.72,308.74 421.7,309.08 422.68,309.39 423.66,309.68 424.63,309.96 425.61,310.21 426.59,310.44 427.56,310.66 428.54,310.86 429.52,311.04 430.5,311.22 431.48,311.37 432.45,311.52 433.43,311.66 434.41,311.78 435.39,311.89 436.36,312 437.34,312.1 438.32,312.19 439.3,312.27 440.27,312.34 441.25,312.41 442.23,312.48 443.21,312.54 444.18,312.59 445.16,312.64 446.14,312.69 447.12,312.73 448.09,312.77 449.07,312.8 450.05,312.84 451.03,312.87 452,312.89 452.98,312.92 453.96,312.94 454.94,312.96 455.91,312.98 456.89,313 457.87,313.02 458.85,313.03 459.82,313.05 460.8,313.06" fill="none" stroke="#3b5e8e" stroke-width="1.6"/>
<line x1="382.6" y1="267.28" x2="382.6" y2="261.68" stroke="#c3283a" stroke-width="1.1"/>
<line x1="381.1" y1="261.68" x2="384.1" y2="261.68" stroke="#c3283a" stroke-width="1.1"/>
<line x1="381.1" y1="267.28" x2="384.1" y2="267.28" stroke="#c3283a" stroke-width="1.1"/>
<circle cx="382.6" cy="264.48" r="1.8" fill="#c3283a"/>
<line x1="392.38" y1="269.52" x2="392.38" y2="265.04" stroke="#c3283a" stroke-width="1.1"/>
<line x1="390.88" y1="265.04" x2="393.88" y2="265.04" stroke="#c3283a" stroke-width="1.1"/>
<line x1="390.88" y1="269.52" x2="393.88" y2="269.52" stroke="#c3283a" stroke-width="1.1"/>
<circle cx="392.38" cy="267.28" r="1.8" fill="#c3283a"/>
<line x1="402.15" y1="274.56" x2="402.15" y2="272.32" stroke="#c3283a" stroke-width="1.1"/>
<line x1="400.65" y1="272.32" x2="403.65" y2="272.32" stroke="#c3283a" stroke-width="1.1"/>
<line x1="400.65" y1="274.56" x2="403.65" y2="274.56" stroke="#c3283a" stroke-width="1.1"/>
<circle cx="402.15" cy="273.44" r="1.8" fill="#c3283a"/>
<line x1="411.93" y1="278.48" x2="411.93" y2="272.88" stroke="#c3283a" stroke-width="1.1"/>
<line x1="410.43" y1="272.88" x2="413.43" y2="272.88" stroke="#c3283a" stroke-width="1.1"/>
<line x1="410.43" y1="278.48" x2="413.43" y2="278.48" stroke="#c3283a" stroke-width="1.1"/>
<circle cx="411.93" cy="275.68" r="1.8" fill="#c3283a"/>
<line x1="421.7" y1="286.88" x2="421.7" y2="275.68" stroke="#c3283a" stroke-width="1.1"/>
<line x1="420.2" y1="275.68" x2="423.2" y2="275.68" stroke="#c3283a" stroke-width="1.1"/>
<line x1="420.2" y1="286.88" x2="423.2" y2="286.88" stroke="#c3283a" stroke-width="1.1"/>
<circle cx="421.7" cy="281.28" r="1.8" fill="#c3283a"/>
<line x1="431.48" y1="288.56" x2="431.48" y2="284.08" stroke="#c3283a" stroke-width="1.1"/>
<line x1="429.98" y1="284.08" x2="432.98" y2="284.08" stroke="#c3283a" stroke-width="1.1"/>
<line x1="429.98" y1="288.56" x2="432.98" y2="288.56" stroke="#c3283a" stroke-width="1.1"/>
<circle cx="431.48" cy="286.32" r="1.8" fill="#c3283a"/>
<line x1="441.25" y1="293.6" x2="441.25" y2="291.36" stroke="#c3283a" stroke-width="1.1"/>
<line x1="439.75" y1="291.36" x2="442.75" y2="291.36" stroke="#c3283a" stroke-width="1.1"/>
<line x1="439.75" y1="293.6" x2="442.75" y2="293.6" stroke="#c3283a" stroke-width="1.1"/>
<circle cx="441.25" cy="292.48" r="1.8" fill="#c3283a"/>
<line x1="451.03" y1="296.96" x2="451.03" y2="294.72" stroke="#c3283a" stroke-width="1.1"/>
<line x1="449.53" y1="294.72" x2="452.53" y2="294.72" stroke="#c3283a" stroke-width="1.1"/>
<line x1="449.53" y1="296.96" x2="452.53" y2="296.96" stroke="#c3283a" stroke-width="1.1"/>
<circle cx="451.03" cy="295.84" r="1.8" fill="#c3283a"/>
<line x1="460.8" y1="300.88" x2="460.8" y2="298.64" stroke="#c3283a" stroke-width="1.1"/>
<line x1="459.3" y1="298.64" x2="462.3" y2="298.64" stroke="#c3283a" stroke-width="1.1"/>
<line x1="459.3" y1="300.88" x2="462.3" y2="300.88" stroke="#c3283a" stroke-width="1.1"/>
<circle cx="460.8" cy="299.76" r="1.8" fill="#c3283a"/>
<line x1="382.6" y1="266.16" x2="382.6" y2="259.44" stroke="#7fa3b6" stroke-width="1.1"/>
<line x1="381.1" y1="259.44" x2="384.1" y2="259.44" stroke="#7fa3b6" stroke-width="1.1"/>
<line x1="381.1" y1="266.16" x2="384.1" y2="266.16" stroke="#7fa3b6" stroke-width="1.1"/>
<rect x="380.89" y="261.09" width="3.42" height="3.42" fill="#7fa3b6" stroke="none" stroke-width="1"/>
<line x1="392.38" y1="286.88" x2="392.38" y2="281.28" stroke="#7fa3b6" stroke-width="1.1"/>
<line x1="390.88" y1="281.28" x2="393.88" y2="281.28" stroke="#7fa3b6" stroke-width="1.1"/>
<line x1="390.88" y1="286.88" x2="393.88" y2="286.88" stroke="#7fa3b6" stroke-width="1.1"/>
<rect x="390.67" y="282.37" width="3.42" height="3.42" fill="#7fa3b6" stroke="none" stroke-width="1"/>
<line x1="402.15" y1="290.24" x2="402.15" y2="286.88" stroke="#7fa3b6" stroke-width="1.1"/>
<line x1="400.65" y1="286.88" x2="403.65" y2="286.88" stroke="#7fa3b6" stroke-width="1.1"/>
<line x1="400.65" y1="290.24" x2="403.65" y2="290.24" stroke="#7fa3b6" stroke-width="1.1"/>
<rect x="400.44" y="286.85" width="3.42" height="3.42" fill="#7fa3b6" stroke="none" stroke-width="1"/>
<line x1="411.93" y1="299.76" x2="411.93" y2="294.16" stroke="#7fa3b6" stroke-width="1.1"/>
<line x1="410.43" y1="294.16" x2="413.43" y2="294.16" stroke="#7fa3b6" stroke-width="1.1"/>
<line x1="410.43" y1="299.76" x2="413.43" y2="299.76" stroke="#7fa3b6" stroke-width="1.1"/>
<rect x="410.22" y="295.25" width="3.42" height="3.42" fill="#7fa3b6" stroke="none" stroke-width="1"/>
<line x1="421.7" y1="299.2" x2="421.7" y2="294.72" stroke="#7fa3b6" stroke-width="1.1"/>
<line x1="420.2" y1="294.72" x2="423.2" y2="294.72" stroke="#7fa3b6" stroke-width="1.1"/>
<line x1="420.2" y1="299.2" x2="423.2" y2="299.2" stroke="#7fa3b6" stroke-width="1.1"/>
<rect x="419.99" y="295.25" width="3.42" height="3.42" fill="#7fa3b6" stroke="none" stroke-width="1"/>
<line x1="431.48" y1="309.28" x2="431.48" y2="302.56" stroke="#7fa3b6" stroke-width="1.1"/>
<line x1="429.98" y1="302.56" x2="432.98" y2="302.56" stroke="#7fa3b6" stroke-width="1.1"/>
<line x1="429.98" y1="309.28" x2="432.98" y2="309.28" stroke="#7fa3b6" stroke-width="1.1"/>
<rect x="429.77" y="304.21" width="3.42" height="3.42" fill="#7fa3b6" stroke="none" stroke-width="1"/>
<line x1="441.25" y1="310.4" x2="441.25" y2="307.04" stroke="#7fa3b6" stroke-width="1.1"/>
<line x1="439.75" y1="307.04" x2="442.75" y2="307.04" stroke="#7fa3b6" stroke-width="1.1"/>
<line x1="439.75" y1="310.4" x2="442.75" y2="310.4" stroke="#7fa3b6" stroke-width="1.1"/>
<rect x="439.54" y="307.01" width="3.42" height="3.42" fill="#7fa3b6" stroke="none" stroke-width="1"/>
<line x1="451.03" y1="310.4" x2="451.03" y2="307.04" stroke="#7fa3b6" stroke-width="1.1"/>
<line x1="449.53" y1="307.04" x2="452.53" y2="307.04" stroke="#7fa3b6" stroke-width="1.1"/>
<line x1="449.53" y1="310.4" x2="452.53" y2="310.4" stroke="#7fa3b6" stroke-width="1.1"/>
<rect x="449.32" y="307.01" width="3.42" height="3.42" fill="#7fa3b6" stroke="none" stroke-width="1"/>
<line x1="460.8" y1="310.4" x2="460.8" y2="308.16" stroke="#7fa3b6" stroke-width="1.1"/>
<line x1="459.3" y1="308.16" x2="462.3" y2="308.16" stroke="#7fa3b6" stroke-width="1.1"/>
<line x1="459.3" y1="310.4" x2="462.3" y2="310.4" stroke="#7fa3b6" stroke-width="1.1"/>
<rect x="459.09" y="307.57" width="3.42" height="3.42" fill="#7fa3b6" stroke="none" stroke-width="1"/>
<line x1="382.6" y1="274" x2="382.6" y2="265.04" stroke="#3b5e8e" stroke-width="1.1"/>
<line x1="381.1" y1="265.04" x2="384.1" y2="265.04" stroke="#3b5e8e" stroke-width="1.1"/>
<line x1="381.1" y1="274" x2="384.1" y2="274" stroke="#3b5e8e" stroke-width="1.1"/>
<path d="M382.6,267.33 L384.6,271.04 L380.61,271.04 Z" fill="#3b5e8e"/>
<line x1="392.38" y1="293.6" x2="392.38" y2="282.4" stroke="#3b5e8e" stroke-width="1.1"/>
<line x1="390.88" y1="282.4" x2="393.88" y2="282.4" stroke="#3b5e8e" stroke-width="1.1"/>
<line x1="390.88" y1="293.6" x2="393.88" y2="293.6" stroke="#3b5e8e" stroke-width="1.1"/>
<path d="M392.38,285.81 L394.37,289.52 L390.38,289.52 Z" fill="#3b5e8e"/>
<line x1="402.15" y1="302.56" x2="402.15" y2="295.84" stroke="#3b5e8e" stroke-width="1.1"/>
<line x1="400.65" y1="295.84" x2="403.65" y2="295.84" stroke="#3b5e8e" stroke-width="1.1"/>
<line x1="400.65" y1="302.56" x2="403.65" y2="302.56" stroke="#3b5e8e" stroke-width="1.1"/>
<path d="M402.15,297.01 L404.15,300.72 L400.16,300.72 Z" fill="#3b5e8e"/>
<line x1="411.93" y1="305.36" x2="411.93" y2="302" stroke="#3b5e8e" stroke-width="1.1"/>
<line x1="410.43" y1="302" x2="413.43" y2="302" stroke="#3b5e8e" stroke-width="1.1"/>
<line x1="410.43" y1="305.36" x2="413.43" y2="305.36" stroke="#3b5e8e" stroke-width="1.1"/>
<path d="M411.93,301.5 L413.92,305.2 L409.93,305.2 Z" fill="#3b5e8e"/>
<line x1="421.7" y1="306.48" x2="421.7" y2="300.88" stroke="#3b5e8e" stroke-width="1.1"/>
<line x1="420.2" y1="300.88" x2="423.2" y2="300.88" stroke="#3b5e8e" stroke-width="1.1"/>
<line x1="420.2" y1="306.48" x2="423.2" y2="306.48" stroke="#3b5e8e" stroke-width="1.1"/>
<path d="M421.7,301.5 L423.7,305.2 L419.71,305.2 Z" fill="#3b5e8e"/>
<line x1="431.48" y1="311.52" x2="431.48" y2="305.92" stroke="#3b5e8e" stroke-width="1.1"/>
<line x1="429.98" y1="305.92" x2="432.98" y2="305.92" stroke="#3b5e8e" stroke-width="1.1"/>
<line x1="429.98" y1="311.52" x2="432.98" y2="311.52" stroke="#3b5e8e" stroke-width="1.1"/>
<path d="M431.48,306.53 L433.47,310.24 L429.48,310.24 Z" fill="#3b5e8e"/>
<line x1="441.25" y1="312.64" x2="441.25" y2="309.28" stroke="#3b5e8e" stroke-width="1.1"/>
<line x1="439.75" y1="309.28" x2="442.75" y2="309.28" stroke="#3b5e8e" stroke-width="1.1"/>
<line x1="439.75" y1="312.64" x2="442.75" y2="312.64" stroke="#3b5e8e" stroke-width="1.1"/>
<path d="M441.25,308.77 L443.25,312.48 L439.25,312.48 Z" fill="#3b5e8e"/>
<line x1="451.03" y1="311.52" x2="451.03" y2="309.28" stroke="#3b5e8e" stroke-width="1.1"/>
<line x1="449.53" y1="309.28" x2="452.53" y2="309.28" stroke="#3b5e8e" stroke-width="1.1"/>
<line x1="449.53" y1="311.52" x2="452.53" y2="311.52" stroke="#3b5e8e" stroke-width="1.1"/>
<path d="M451.03,308.21 L453.02,311.92 L449.03,311.92 Z" fill="#3b5e8e"/>
<line x1="460.8" y1="310.96" x2="460.8" y2="308.72" stroke="#3b5e8e" stroke-width="1.1"/>
<line x1="459.3" y1="308.72" x2="462.3" y2="308.72" stroke="#3b5e8e" stroke-width="1.1"/>
<line x1="459.3" y1="310.96" x2="462.3" y2="310.96" stroke="#3b5e8e" stroke-width="1.1"/>
<path d="M460.8,307.65 L462.8,311.36 L458.81,311.36 Z" fill="#3b5e8e"/>
<line x1="437" y1="241.5" x2="445.5" y2="241.5" stroke="#c3283a" stroke-width="1.4"/>
<circle cx="441.25" cy="241.5" r="1.71" fill="#c3283a"/>
<text x="448.9" y="244.6" font-size="9.6" font-weight="bold" text-anchor="start" fill="#1a1a1a" stroke="none">Ctrl</text>
<line x1="437" y1="249" x2="445.5" y2="249" stroke="#7fa3b6" stroke-width="1.4"/>
<rect x="439.63" y="247.38" width="3.24" height="3.24" fill="#7fa3b6" stroke="none" stroke-width="1"/>
<text x="448.9" y="252.1" font-size="9.6" font-weight="bold" text-anchor="start" fill="#1a1a1a" stroke="none">shUFL1#1</text>
<line x1="437" y1="256.4" x2="445.5" y2="256.4" stroke="#3b5e8e" stroke-width="1.4"/>
<path d="M441.25,254.33 L443.14,257.84 L439.36,257.84 Z" fill="#3b5e8e"/>
<text x="448.9" y="259.5" font-size="9.6" font-weight="bold" text-anchor="start" fill="#1a1a1a" stroke="none">shUFL1#2</text>
<line x1="554.3" y1="245.3" x2="554.3" y2="312.8" stroke="#222" stroke-width="1.3"/>
<line x1="553.7" y1="312" x2="655.4" y2="312" stroke="#222" stroke-width="1.5"/>
<line x1="551.5" y1="312" x2="554.3" y2="312" stroke="#222" stroke-width="1.1"/>
<text x="551.3" y="315.2" font-size="9.4" font-weight="bold" text-anchor="end" fill="#1a1a1a" transform="translate(0 -18.91) scale(1 1.06)" stroke="#1a1a1a" stroke-width="0.14">0</text>
<line x1="551.5" y1="284.75" x2="554.3" y2="284.75" stroke="#222" stroke-width="1.1"/>
<text x="551.3" y="287.95" font-size="9.4" font-weight="bold" text-anchor="end" fill="#1a1a1a" transform="translate(0 -17.28) scale(1 1.06)" stroke="#1a1a1a" stroke-width="0.14">50</text>
<line x1="551.5" y1="257.5" x2="554.3" y2="257.5" stroke="#222" stroke-width="1.1"/>
<text x="551.3" y="260.7" font-size="9.4" font-weight="bold" text-anchor="end" fill="#1a1a1a" transform="translate(0 -15.64) scale(1 1.06)" stroke="#1a1a1a" stroke-width="0.14">100</text>
<line x1="554.3" y1="312" x2="554.3" y2="314.6" stroke="#222" stroke-width="1.1"/>
<text x="554.7" y="323.7" font-size="9.4" font-weight="bold" text-anchor="middle" fill="#1a1a1a" transform="translate(0 -19.42) scale(1 1.06)" stroke="#1a1a1a" stroke-width="0.14">-2</text>
<line x1="574.4" y1="312" x2="574.4" y2="314.6" stroke="#222" stroke-width="1.1"/>
<text x="574.8" y="323.7" font-size="9.4" font-weight="bold" text-anchor="middle" fill="#1a1a1a" transform="translate(0 -19.42) scale(1 1.06)" stroke="#1a1a1a" stroke-width="0.14">-1</text>
<line x1="594.5" y1="312" x2="594.5" y2="314.6" stroke="#222" stroke-width="1.1"/>
<text x="594.5" y="323.7" font-size="9.4" font-weight="bold" text-anchor="middle" fill="#1a1a1a" transform="translate(0 -19.42) scale(1 1.06)" stroke="#1a1a1a" stroke-width="0.14">0</text>
<line x1="614.6" y1="312" x2="614.6" y2="314.6" stroke="#222" stroke-width="1.1"/>
<text x="614.6" y="323.7" font-size="9.4" font-weight="bold" text-anchor="middle" fill="#1a1a1a" transform="translate(0 -19.42) scale(1 1.06)" stroke="#1a1a1a" stroke-width="0.14">1</text>
<line x1="634.7" y1="312" x2="634.7" y2="314.6" stroke="#222" stroke-width="1.1"/>
<text x="634.7" y="323.7" font-size="9.4" font-weight="bold" text-anchor="middle" fill="#1a1a1a" transform="translate(0 -19.42) scale(1 1.06)" stroke="#1a1a1a" stroke-width="0.14">2</text>
<line x1="654.8" y1="312" x2="654.8" y2="314.6" stroke="#222" stroke-width="1.1"/>
<text x="654.8" y="323.7" font-size="9.4" font-weight="bold" text-anchor="middle" fill="#1a1a1a" transform="translate(0 -19.42) scale(1 1.06)" stroke="#1a1a1a" stroke-width="0.14">3</text>
<text x="614.2" y="339.9" font-size="9.7" font-weight="bold" text-anchor="middle" fill="#1a1a1a" transform="translate(0 -20.39) scale(1 1.06)" stroke="#1a1a1a" stroke-width="0.14">conc. Doxorubicin[log(μM)]</text>
<text x="532.1" y="282.5" font-size="9.4" font-weight="bold" text-anchor="middle" fill="#1a1a1a" transform="translate(532.1 282.5) rotate(-90) scale(1 1.06) translate(-532.1 -282.5)" stroke="#1a1a1a" stroke-width="0.14">Relative survival(%)</text>
<polyline points="557.2,260.59 558.18,260.74 559.15,260.89 560.12,261.04 561.1,261.21 562.08,261.38 563.05,261.55 564.03,261.74 565,261.93 565.98,262.13 566.95,262.34 567.93,262.55 568.9,262.78 569.88,263.01 570.85,263.25 571.83,263.51 572.8,263.77 573.78,264.04 574.75,264.32 575.73,264.61 576.7,264.91 577.68,265.23 578.65,265.55 579.62,265.88 580.6,266.23 581.58,266.59 582.55,266.95 583.53,267.33 584.5,267.72 585.48,268.13 586.45,268.54 587.43,268.97 588.4,269.4 589.38,269.85 590.35,270.31 591.33,270.78 592.3,271.27 593.28,271.76 594.25,272.27 595.23,272.78 596.2,273.31 597.18,273.84 598.15,274.39 599.12,274.95 600.1,275.51 601.08,276.08 602.05,276.66 603.03,277.25 604,277.84 604.98,278.44 605.95,279.05 606.93,279.66 607.9,280.27 608.88,280.89 609.85,281.51 610.83,282.14 611.8,282.76 612.78,283.39 613.75,284.01 614.73,284.64 615.7,285.26 616.68,285.88 617.65,286.5 618.62,287.12 619.6,287.73 620.58,288.33 621.55,288.93 622.53,289.53 623.5,290.11 624.48,290.69 625.45,291.27 626.43,291.83 627.4,292.38 628.38,292.93 629.35,293.47 630.33,293.99 631.3,294.51 632.28,295.01 633.25,295.51 634.23,295.99 635.2,296.46" fill="none" stroke="#c3283a" stroke-width="1.6"/>
<polyline points="557.2,268.54 558.18,269.43 559.15,270.37 560.12,271.35 561.1,272.39 562.08,273.47 563.05,274.6 564.03,275.77 565,276.97 565.98,278.21 566.95,279.48 567.93,280.78 568.9,282.09 569.88,283.42 570.85,284.75 571.83,286.08 572.8,287.41 573.78,288.72 574.75,290.02 575.73,291.29 576.7,292.53 577.68,293.73 578.65,294.9 579.62,296.03 580.6,297.11 581.58,298.15 582.55,299.13 583.53,300.07 584.5,300.96 585.48,301.79 586.45,302.58 587.43,303.32 588.4,304.01 589.38,304.65 590.35,305.25 591.33,305.81 592.3,306.33 593.28,306.81 594.25,307.25 595.23,307.66 596.2,308.03 597.18,308.38 598.15,308.69 599.12,308.99 600.1,309.25 601.08,309.5 602.05,309.72 603.03,309.92 604,310.11 604.98,310.28 605.95,310.44 606.93,310.58 607.9,310.71 608.88,310.83 609.85,310.93 610.83,311.03 611.8,311.12 612.78,311.2 613.75,311.27 614.73,311.34 615.7,311.4 616.68,311.46 617.65,311.51 618.62,311.55 619.6,311.59 620.58,311.63 621.55,311.67 622.53,311.7 623.5,311.73 624.48,311.75 625.45,311.77 626.43,311.79 627.4,311.81 628.38,311.83 629.35,311.85 630.33,311.86 631.3,311.87 632.28,311.89 633.25,311.9 634.23,311.91 635.2,311.91" fill="none" stroke="#7fa3b6" stroke-width="1.6"/>
<polyline points="557.2,273.47 558.18,274.6 559.15,275.77 560.12,276.97 561.1,278.21 562.08,279.48 563.05,280.78 564.03,282.09 565,283.42 565.98,284.75 566.95,286.08 567.93,287.41 568.9,288.72 569.88,290.02 570.85,291.29 571.83,292.53 572.8,293.73 573.78,294.9 574.75,296.03 575.73,297.11 576.7,298.15 577.68,299.13 578.65,300.07 579.62,300.96 580.6,301.79 581.58,302.58 582.55,303.32 583.53,304.01 584.5,304.65 585.48,305.25 586.45,305.81 587.43,306.33 588.4,306.81 589.38,307.25 590.35,307.66 591.33,308.03 592.3,308.38 593.28,308.69 594.25,308.99 595.23,309.25 596.2,309.5 597.18,309.72 598.15,309.92 599.12,310.11 600.1,310.28 601.08,310.44 602.05,310.58 603.03,310.71 604,310.83 604.98,310.93 605.95,311.03 606.93,311.12 607.9,311.2 608.88,311.27 609.85,311.34 610.83,311.4 611.8,311.46 612.78,311.51 613.75,311.55 614.73,311.59 615.7,311.63 616.68,311.67 617.65,311.7 618.62,311.73 619.6,311.75 620.58,311.77 621.55,311.79 622.53,311.81 623.5,311.83 624.48,311.85 625.45,311.86 626.43,311.87 627.4,311.89 628.38,311.9 629.35,311.91 630.33,311.91 631.3,311.92 632.28,311.93 633.25,311.94 634.23,311.94 635.2,311.95" fill="none" stroke="#3b5e8e" stroke-width="1.6"/>
<line x1="557.2" y1="261.86" x2="557.2" y2="258.59" stroke="#c3283a" stroke-width="1.1"/>
<line x1="555.7" y1="258.59" x2="558.7" y2="258.59" stroke="#c3283a" stroke-width="1.1"/>
<line x1="555.7" y1="261.86" x2="558.7" y2="261.86" stroke="#c3283a" stroke-width="1.1"/>
<circle cx="557.2" cy="260.23" r="1.8" fill="#c3283a"/>
<line x1="566.95" y1="262.95" x2="566.95" y2="260.77" stroke="#c3283a" stroke-width="1.1"/>
<line x1="565.45" y1="260.77" x2="568.45" y2="260.77" stroke="#c3283a" stroke-width="1.1"/>
<line x1="565.45" y1="262.95" x2="568.45" y2="262.95" stroke="#c3283a" stroke-width="1.1"/>
<circle cx="566.95" cy="261.86" r="1.8" fill="#c3283a"/>
<line x1="576.7" y1="266.22" x2="576.7" y2="264.04" stroke="#c3283a" stroke-width="1.1"/>
<line x1="575.2" y1="264.04" x2="578.2" y2="264.04" stroke="#c3283a" stroke-width="1.1"/>
<line x1="575.2" y1="266.22" x2="578.2" y2="266.22" stroke="#c3283a" stroke-width="1.1"/>
<circle cx="576.7" cy="265.13" r="1.8" fill="#c3283a"/>
<line x1="586.45" y1="270.58" x2="586.45" y2="268.4" stroke="#c3283a" stroke-width="1.1"/>
<line x1="584.95" y1="268.4" x2="587.95" y2="268.4" stroke="#c3283a" stroke-width="1.1"/>
<line x1="584.95" y1="270.58" x2="587.95" y2="270.58" stroke="#c3283a" stroke-width="1.1"/>
<circle cx="586.45" cy="269.49" r="1.8" fill="#c3283a"/>
<line x1="596.2" y1="276.03" x2="596.2" y2="272.76" stroke="#c3283a" stroke-width="1.1"/>
<line x1="594.7" y1="272.76" x2="597.7" y2="272.76" stroke="#c3283a" stroke-width="1.1"/>
<line x1="594.7" y1="276.03" x2="597.7" y2="276.03" stroke="#c3283a" stroke-width="1.1"/>
<circle cx="596.2" cy="274.39" r="1.8" fill="#c3283a"/>
<line x1="605.95" y1="280.39" x2="605.95" y2="277.12" stroke="#c3283a" stroke-width="1.1"/>
<line x1="604.45" y1="277.12" x2="607.45" y2="277.12" stroke="#c3283a" stroke-width="1.1"/>
<line x1="604.45" y1="280.39" x2="607.45" y2="280.39" stroke="#c3283a" stroke-width="1.1"/>
<circle cx="605.95" cy="278.75" r="1.8" fill="#c3283a"/>
<line x1="615.7" y1="286.38" x2="615.7" y2="284.2" stroke="#c3283a" stroke-width="1.1"/>
<line x1="614.2" y1="284.2" x2="617.2" y2="284.2" stroke="#c3283a" stroke-width="1.1"/>
<line x1="614.2" y1="286.38" x2="617.2" y2="286.38" stroke="#c3283a" stroke-width="1.1"/>
<circle cx="615.7" cy="285.3" r="1.8" fill="#c3283a"/>
<line x1="625.45" y1="288.56" x2="625.45" y2="286.38" stroke="#c3283a" stroke-width="1.1"/>
<line x1="623.95" y1="286.38" x2="626.95" y2="286.38" stroke="#c3283a" stroke-width="1.1"/>
<line x1="623.95" y1="288.56" x2="626.95" y2="288.56" stroke="#c3283a" stroke-width="1.1"/>
<circle cx="625.45" cy="287.48" r="1.8" fill="#c3283a"/>
<line x1="635.2" y1="296.19" x2="635.2" y2="294.01" stroke="#c3283a" stroke-width="1.1"/>
<line x1="633.7" y1="294.01" x2="636.7" y2="294.01" stroke="#c3283a" stroke-width="1.1"/>
<line x1="633.7" y1="296.19" x2="636.7" y2="296.19" stroke="#c3283a" stroke-width="1.1"/>
<circle cx="635.2" cy="295.11" r="1.8" fill="#c3283a"/>
<line x1="557.2" y1="266.22" x2="557.2" y2="260.77" stroke="#7fa3b6" stroke-width="1.1"/>
<line x1="555.7" y1="260.77" x2="558.7" y2="260.77" stroke="#7fa3b6" stroke-width="1.1"/>
<line x1="555.7" y1="266.22" x2="558.7" y2="266.22" stroke="#7fa3b6" stroke-width="1.1"/>
<rect x="555.49" y="261.79" width="3.42" height="3.42" fill="#7fa3b6" stroke="none" stroke-width="1"/>
<line x1="566.95" y1="280.94" x2="566.95" y2="275.49" stroke="#7fa3b6" stroke-width="1.1"/>
<line x1="565.45" y1="275.49" x2="568.45" y2="275.49" stroke="#7fa3b6" stroke-width="1.1"/>
<line x1="565.45" y1="280.94" x2="568.45" y2="280.94" stroke="#7fa3b6" stroke-width="1.1"/>
<rect x="565.24" y="276.5" width="3.42" height="3.42" fill="#7fa3b6" stroke="none" stroke-width="1"/>
<line x1="576.7" y1="294.56" x2="576.7" y2="290.2" stroke="#7fa3b6" stroke-width="1.1"/>
<line x1="575.2" y1="290.2" x2="578.2" y2="290.2" stroke="#7fa3b6" stroke-width="1.1"/>
<line x1="575.2" y1="294.56" x2="578.2" y2="294.56" stroke="#7fa3b6" stroke-width="1.1"/>
<rect x="574.99" y="290.67" width="3.42" height="3.42" fill="#7fa3b6" stroke="none" stroke-width="1"/>
<line x1="586.45" y1="302.19" x2="586.45" y2="297.83" stroke="#7fa3b6" stroke-width="1.1"/>
<line x1="584.95" y1="297.83" x2="587.95" y2="297.83" stroke="#7fa3b6" stroke-width="1.1"/>
<line x1="584.95" y1="302.19" x2="587.95" y2="302.19" stroke="#7fa3b6" stroke-width="1.1"/>
<rect x="584.74" y="298.3" width="3.42" height="3.42" fill="#7fa3b6" stroke="none" stroke-width="1"/>
<line x1="596.2" y1="303.28" x2="596.2" y2="300.01" stroke="#7fa3b6" stroke-width="1.1"/>
<line x1="594.7" y1="300.01" x2="597.7" y2="300.01" stroke="#7fa3b6" stroke-width="1.1"/>
<line x1="594.7" y1="303.28" x2="597.7" y2="303.28" stroke="#7fa3b6" stroke-width="1.1"/>
<rect x="594.49" y="299.94" width="3.42" height="3.42" fill="#7fa3b6" stroke="none" stroke-width="1"/>
<line x1="605.95" y1="307.64" x2="605.95" y2="304.37" stroke="#7fa3b6" stroke-width="1.1"/>
<line x1="604.45" y1="304.37" x2="607.45" y2="304.37" stroke="#7fa3b6" stroke-width="1.1"/>
<line x1="604.45" y1="307.64" x2="607.45" y2="307.64" stroke="#7fa3b6" stroke-width="1.1"/>
<rect x="604.24" y="304.3" width="3.42" height="3.42" fill="#7fa3b6" stroke="none" stroke-width="1"/>
<line x1="615.7" y1="308.19" x2="615.7" y2="304.92" stroke="#7fa3b6" stroke-width="1.1"/>
<line x1="614.2" y1="304.92" x2="617.2" y2="304.92" stroke="#7fa3b6" stroke-width="1.1"/>
<line x1="614.2" y1="308.19" x2="617.2" y2="308.19" stroke="#7fa3b6" stroke-width="1.1"/>
<rect x="613.99" y="304.84" width="3.42" height="3.42" fill="#7fa3b6" stroke="none" stroke-width="1"/>
<line x1="625.45" y1="308.73" x2="625.45" y2="305.46" stroke="#7fa3b6" stroke-width="1.1"/>
<line x1="623.95" y1="305.46" x2="626.95" y2="305.46" stroke="#7fa3b6" stroke-width="1.1"/>
<line x1="623.95" y1="308.73" x2="626.95" y2="308.73" stroke="#7fa3b6" stroke-width="1.1"/>
<rect x="623.74" y="305.39" width="3.42" height="3.42" fill="#7fa3b6" stroke="none" stroke-width="1"/>
<line x1="635.2" y1="308.19" x2="635.2" y2="306" stroke="#7fa3b6" stroke-width="1.1"/>
<line x1="633.7" y1="306" x2="636.7" y2="306" stroke="#7fa3b6" stroke-width="1.1"/>
<line x1="633.7" y1="308.19" x2="636.7" y2="308.19" stroke="#7fa3b6" stroke-width="1.1"/>
<rect x="633.49" y="305.39" width="3.42" height="3.42" fill="#7fa3b6" stroke="none" stroke-width="1"/>
<line x1="557.2" y1="278.21" x2="557.2" y2="272.76" stroke="#3b5e8e" stroke-width="1.1"/>
<line x1="555.7" y1="272.76" x2="558.7" y2="272.76" stroke="#3b5e8e" stroke-width="1.1"/>
<line x1="555.7" y1="278.21" x2="558.7" y2="278.21" stroke="#3b5e8e" stroke-width="1.1"/>
<path d="M557.2,273.3 L559.2,277 L555.21,277 Z" fill="#3b5e8e"/>
<line x1="566.95" y1="292.93" x2="566.95" y2="276.57" stroke="#3b5e8e" stroke-width="1.1"/>
<line x1="565.45" y1="276.57" x2="568.45" y2="276.57" stroke="#3b5e8e" stroke-width="1.1"/>
<line x1="565.45" y1="292.93" x2="568.45" y2="292.93" stroke="#3b5e8e" stroke-width="1.1"/>
<path d="M566.95,282.56 L568.95,286.27 L564.96,286.27 Z" fill="#3b5e8e"/>
<line x1="576.7" y1="303.82" x2="576.7" y2="289.65" stroke="#3b5e8e" stroke-width="1.1"/>
<line x1="575.2" y1="289.65" x2="578.2" y2="289.65" stroke="#3b5e8e" stroke-width="1.1"/>
<line x1="575.2" y1="303.82" x2="578.2" y2="303.82" stroke="#3b5e8e" stroke-width="1.1"/>
<path d="M576.7,294.56 L578.7,298.26 L574.71,298.26 Z" fill="#3b5e8e"/>
<line x1="586.45" y1="307.64" x2="586.45" y2="300.01" stroke="#3b5e8e" stroke-width="1.1"/>
<line x1="584.95" y1="300.01" x2="587.95" y2="300.01" stroke="#3b5e8e" stroke-width="1.1"/>
<line x1="584.95" y1="307.64" x2="587.95" y2="307.64" stroke="#3b5e8e" stroke-width="1.1"/>
<path d="M586.45,301.64 L588.45,305.34 L584.46,305.34 Z" fill="#3b5e8e"/>
<line x1="596.2" y1="308.73" x2="596.2" y2="305.46" stroke="#3b5e8e" stroke-width="1.1"/>
<line x1="594.7" y1="305.46" x2="597.7" y2="305.46" stroke="#3b5e8e" stroke-width="1.1"/>
<line x1="594.7" y1="308.73" x2="597.7" y2="308.73" stroke="#3b5e8e" stroke-width="1.1"/>
<path d="M596.2,304.91 L598.2,308.62 L594.21,308.62 Z" fill="#3b5e8e"/>
<line x1="605.95" y1="309.82" x2="605.95" y2="307.64" stroke="#3b5e8e" stroke-width="1.1"/>
<line x1="604.45" y1="307.64" x2="607.45" y2="307.64" stroke="#3b5e8e" stroke-width="1.1"/>
<line x1="604.45" y1="309.82" x2="607.45" y2="309.82" stroke="#3b5e8e" stroke-width="1.1"/>
<path d="M605.95,306.55 L607.95,310.25 L603.96,310.25 Z" fill="#3b5e8e"/>
<line x1="615.7" y1="309.82" x2="615.7" y2="307.64" stroke="#3b5e8e" stroke-width="1.1"/>
<line x1="614.2" y1="307.64" x2="617.2" y2="307.64" stroke="#3b5e8e" stroke-width="1.1"/>
<line x1="614.2" y1="309.82" x2="617.2" y2="309.82" stroke="#3b5e8e" stroke-width="1.1"/>
<path d="M615.7,306.55 L617.7,310.25 L613.71,310.25 Z" fill="#3b5e8e"/>
<line x1="625.45" y1="309.82" x2="625.45" y2="307.64" stroke="#3b5e8e" stroke-width="1.1"/>
<line x1="623.95" y1="307.64" x2="626.95" y2="307.64" stroke="#3b5e8e" stroke-width="1.1"/>
<line x1="623.95" y1="309.82" x2="626.95" y2="309.82" stroke="#3b5e8e" stroke-width="1.1"/>
<path d="M625.45,306.55 L627.45,310.25 L623.46,310.25 Z" fill="#3b5e8e"/>
<line x1="635.2" y1="309.27" x2="635.2" y2="307.1" stroke="#3b5e8e" stroke-width="1.1"/>
<line x1="633.7" y1="307.1" x2="636.7" y2="307.1" stroke="#3b5e8e" stroke-width="1.1"/>
<line x1="633.7" y1="309.27" x2="636.7" y2="309.27" stroke="#3b5e8e" stroke-width="1.1"/>
<path d="M635.2,306 L637.2,309.7 L633.21,309.7 Z" fill="#3b5e8e"/>
<line x1="610.8" y1="240.8" x2="619.3" y2="240.8" stroke="#c3283a" stroke-width="1.4"/>
<circle cx="615.05" cy="240.8" r="1.71" fill="#c3283a"/>
<text x="622.7" y="243.9" font-size="9.6" font-weight="bold" text-anchor="start" fill="#1a1a1a" stroke="none">Ctrl</text>
<line x1="610.8" y1="248.9" x2="619.3" y2="248.9" stroke="#7fa3b6" stroke-width="1.4"/>
<rect x="613.43" y="247.28" width="3.24" height="3.24" fill="#7fa3b6" stroke="none" stroke-width="1"/>
<text x="622.7" y="252" font-size="9.6" font-weight="bold" text-anchor="start" fill="#1a1a1a" stroke="none">shUFL1#1</text>
<line x1="610.8" y1="257" x2="619.3" y2="257" stroke="#3b5e8e" stroke-width="1.4"/>
<path d="M615.05,254.93 L616.94,258.44 L613.16,258.44 Z" fill="#3b5e8e"/>
<text x="622.7" y="260.1" font-size="9.6" font-weight="bold" text-anchor="start" fill="#1a1a1a" stroke="none">shUFL1#2</text>
<line x1="379" y1="363.4" x2="379" y2="431.9" stroke="#222" stroke-width="1.3"/>
<line x1="378.4" y1="431.1" x2="480.1" y2="431.1" stroke="#222" stroke-width="1.5"/>
<line x1="376.2" y1="431.1" x2="379" y2="431.1" stroke="#222" stroke-width="1.1"/>
<text x="376" y="434.3" font-size="9.4" font-weight="bold" text-anchor="end" fill="#1a1a1a" transform="translate(0 -26.06) scale(1 1.06)" stroke="#1a1a1a" stroke-width="0.14">0</text>
<line x1="376.2" y1="403.1" x2="379" y2="403.1" stroke="#222" stroke-width="1.1"/>
<text x="376" y="406.3" font-size="9.4" font-weight="bold" text-anchor="end" fill="#1a1a1a" transform="translate(0 -24.38) scale(1 1.06)" stroke="#1a1a1a" stroke-width="0.14">50</text>
<line x1="376.2" y1="375.1" x2="379" y2="375.1" stroke="#222" stroke-width="1.1"/>
<text x="376" y="378.3" font-size="9.4" font-weight="bold" text-anchor="end" fill="#1a1a1a" transform="translate(0 -22.7) scale(1 1.06)" stroke="#1a1a1a" stroke-width="0.14">100</text>
<line x1="379" y1="431.1" x2="379" y2="433.7" stroke="#222" stroke-width="1.1"/>
<text x="379.4" y="442.8" font-size="9.4" font-weight="bold" text-anchor="middle" fill="#1a1a1a" transform="translate(0 -26.57) scale(1 1.06)" stroke="#1a1a1a" stroke-width="0.14">-2</text>
<line x1="399.1" y1="431.1" x2="399.1" y2="433.7" stroke="#222" stroke-width="1.1"/>
<text x="399.5" y="442.8" font-size="9.4" font-weight="bold" text-anchor="middle" fill="#1a1a1a" transform="translate(0 -26.57) scale(1 1.06)" stroke="#1a1a1a" stroke-width="0.14">-1</text>
<line x1="419.2" y1="431.1" x2="419.2" y2="433.7" stroke="#222" stroke-width="1.1"/>
<text x="419.2" y="442.8" font-size="9.4" font-weight="bold" text-anchor="middle" fill="#1a1a1a" transform="translate(0 -26.57) scale(1 1.06)" stroke="#1a1a1a" stroke-width="0.14">0</text>
<line x1="439.3" y1="431.1" x2="439.3" y2="433.7" stroke="#222" stroke-width="1.1"/>
<text x="439.3" y="442.8" font-size="9.4" font-weight="bold" text-anchor="middle" fill="#1a1a1a" transform="translate(0 -26.57) scale(1 1.06)" stroke="#1a1a1a" stroke-width="0.14">1</text>
<line x1="459.4" y1="431.1" x2="459.4" y2="433.7" stroke="#222" stroke-width="1.1"/>
<text x="459.4" y="442.8" font-size="9.4" font-weight="bold" text-anchor="middle" fill="#1a1a1a" transform="translate(0 -26.57) scale(1 1.06)" stroke="#1a1a1a" stroke-width="0.14">2</text>
<line x1="479.5" y1="431.1" x2="479.5" y2="433.7" stroke="#222" stroke-width="1.1"/>
<text x="479.5" y="442.8" font-size="9.4" font-weight="bold" text-anchor="middle" fill="#1a1a1a" transform="translate(0 -26.57) scale(1 1.06)" stroke="#1a1a1a" stroke-width="0.14">3</text>
<text x="431.8" y="459" font-size="9.7" font-weight="bold" text-anchor="middle" fill="#1a1a1a" transform="translate(0 -27.54) scale(1 1.06)" stroke="#1a1a1a" stroke-width="0.14">conc. Cisplatin[log(μM)]</text>
<text x="356.7" y="399.2" font-size="9.4" font-weight="bold" text-anchor="middle" fill="#1a1a1a" transform="translate(356.7 399.2) rotate(-90) scale(1 1.06) translate(-356.7 -399.2)" stroke="#1a1a1a" stroke-width="0.14">Relative survival(%)</text>
<polyline points="382.1,382.61 383.08,382.84 384.06,383.07 385.03,383.31 386.01,383.55 386.99,383.81 387.97,384.06 388.94,384.33 389.92,384.6 390.9,384.87 391.88,385.15 392.85,385.44 393.83,385.73 394.81,386.04 395.79,386.34 396.76,386.66 397.74,386.98 398.72,387.3 399.7,387.64 400.67,387.97 401.65,388.32 402.63,388.67 403.61,389.03 404.58,389.4 405.56,389.77 406.54,390.14 407.52,390.53 408.49,390.91 409.47,391.31 410.45,391.71 411.43,392.12 412.4,392.53 413.38,392.95 414.36,393.37 415.34,393.8 416.31,394.23 417.29,394.67 418.27,395.11 419.25,395.55 420.22,396 421.2,396.46 422.18,396.92 423.16,397.38 424.13,397.84 425.11,398.31 426.09,398.78 427.06,399.26 428.04,399.73 429.02,400.21 430,400.69 430.98,401.17 431.95,401.65 432.93,402.13 433.91,402.62 434.89,403.1 435.86,403.58 436.84,404.07 437.82,404.55 438.8,405.03 439.77,405.51 440.75,405.99 441.73,406.47 442.71,406.94 443.68,407.42 444.66,407.89 445.64,408.36 446.62,408.82 447.59,409.28 448.57,409.74 449.55,410.2 450.53,410.65 451.5,411.09 452.48,411.53 453.46,411.97 454.44,412.4 455.41,412.83 456.39,413.25 457.37,413.67 458.35,414.08 459.32,414.49 460.3,414.89" fill="none" stroke="#c3283a" stroke-width="1.6"/>
<polyline points="382.1,385.36 383.08,385.93 384.06,386.54 385.03,387.18 386.01,387.86 386.99,388.58 387.97,389.34 388.94,390.13 389.92,390.96 390.9,391.83 391.88,392.74 392.85,393.68 393.83,394.65 394.81,395.66 395.79,396.7 396.76,397.76 397.74,398.85 398.72,399.95 399.7,401.07 400.67,402.21 401.65,403.35 402.63,404.5 403.61,405.65 404.58,406.79 405.56,407.93 406.54,409.05 407.52,410.15 408.49,411.24 409.47,412.3 410.45,413.34 411.43,414.35 412.4,415.32 413.38,416.26 414.36,417.17 415.34,418.04 416.31,418.87 417.29,419.66 418.27,420.42 419.25,421.14 420.22,421.82 421.2,422.46 422.18,423.07 423.16,423.64 424.13,424.18 425.11,424.68 426.09,425.15 427.06,425.59 428.04,426 429.02,426.39 430,426.75 430.98,427.08 431.95,427.39 432.93,427.68 433.91,427.94 434.89,428.19 435.86,428.42 436.84,428.63 437.82,428.83 438.8,429.01 439.77,429.17 440.75,429.33 441.73,429.47 442.71,429.6 443.68,429.72 444.66,429.83 445.64,429.94 446.62,430.03 447.59,430.12 448.57,430.2 449.55,430.27 450.53,430.34 451.5,430.4 452.48,430.46 453.46,430.51 454.44,430.56 455.41,430.6 456.39,430.64 457.37,430.68 458.35,430.72 459.32,430.75 460.3,430.78" fill="none" stroke="#7fa3b6" stroke-width="1.6"/>
<polyline points="382.1,382.35 383.08,383 384.06,383.73 385.03,384.55 386.01,385.47 386.99,386.5 387.97,387.63 388.94,388.88 389.92,390.24 390.9,391.71 391.88,393.3 392.85,394.99 393.83,396.77 394.81,398.63 395.79,400.55 396.76,402.51 397.74,404.5 398.72,406.49 399.7,408.45 400.67,410.37 401.65,412.23 402.63,414.01 403.61,415.7 404.58,417.29 405.56,418.76 406.54,420.12 407.52,421.37 408.49,422.5 409.47,423.53 410.45,424.45 411.43,425.27 412.4,426 413.38,426.65 414.36,427.23 415.34,427.73 416.31,428.17 417.29,428.56 418.27,428.9 419.25,429.19 420.22,429.45 421.2,429.67 422.18,429.87 423.16,430.04 424.13,430.18 425.11,430.31 426.09,430.42 427.06,430.51 428.04,430.59 429.02,430.66 430,430.72 430.98,430.77 431.95,430.82 432.93,430.86 433.91,430.89 434.89,430.92 435.86,430.95 436.84,430.97 437.82,430.99 438.8,431 439.77,431.01 440.75,431.03 441.73,431.04 442.71,431.05 443.68,431.05 444.66,431.06 445.64,431.07 446.62,431.07 447.59,431.07 448.57,431.08 449.55,431.08 450.53,431.08 451.5,431.09 452.48,431.09 453.46,431.09 454.44,431.09 455.41,431.09 456.39,431.09 457.37,431.09 458.35,431.1 459.32,431.1 460.3,431.1" fill="none" stroke="#3b5e8e" stroke-width="1.6"/>
<line x1="382.1" y1="384.06" x2="382.1" y2="379.58" stroke="#c3283a" stroke-width="1.1"/>
<line x1="380.6" y1="379.58" x2="383.6" y2="379.58" stroke="#c3283a" stroke-width="1.1"/>
<line x1="380.6" y1="384.06" x2="383.6" y2="384.06" stroke="#c3283a" stroke-width="1.1"/>
<circle cx="382.1" cy="381.82" r="1.8" fill="#c3283a"/>
<line x1="391.88" y1="386.3" x2="391.88" y2="380.7" stroke="#c3283a" stroke-width="1.1"/>
<line x1="390.38" y1="380.7" x2="393.38" y2="380.7" stroke="#c3283a" stroke-width="1.1"/>
<line x1="390.38" y1="386.3" x2="393.38" y2="386.3" stroke="#c3283a" stroke-width="1.1"/>
<circle cx="391.88" cy="383.5" r="1.8" fill="#c3283a"/>
<line x1="401.65" y1="390.22" x2="401.65" y2="386.86" stroke="#c3283a" stroke-width="1.1"/>
<line x1="400.15" y1="386.86" x2="403.15" y2="386.86" stroke="#c3283a" stroke-width="1.1"/>
<line x1="400.15" y1="390.22" x2="403.15" y2="390.22" stroke="#c3283a" stroke-width="1.1"/>
<circle cx="401.65" cy="388.54" r="1.8" fill="#c3283a"/>
<line x1="411.43" y1="396.94" x2="411.43" y2="390.22" stroke="#c3283a" stroke-width="1.1"/>
<line x1="409.93" y1="390.22" x2="412.93" y2="390.22" stroke="#c3283a" stroke-width="1.1"/>
<line x1="409.93" y1="396.94" x2="412.93" y2="396.94" stroke="#c3283a" stroke-width="1.1"/>
<circle cx="411.43" cy="393.58" r="1.8" fill="#c3283a"/>
<line x1="421.2" y1="398.06" x2="421.2" y2="395.82" stroke="#c3283a" stroke-width="1.1"/>
<line x1="419.7" y1="395.82" x2="422.7" y2="395.82" stroke="#c3283a" stroke-width="1.1"/>
<line x1="419.7" y1="398.06" x2="422.7" y2="398.06" stroke="#c3283a" stroke-width="1.1"/>
<circle cx="421.2" cy="396.94" r="1.8" fill="#c3283a"/>
<line x1="430.98" y1="405.9" x2="430.98" y2="402.54" stroke="#c3283a" stroke-width="1.1"/>
<line x1="429.48" y1="402.54" x2="432.48" y2="402.54" stroke="#c3283a" stroke-width="1.1"/>
<line x1="429.48" y1="405.9" x2="432.48" y2="405.9" stroke="#c3283a" stroke-width="1.1"/>
<circle cx="430.98" cy="404.22" r="1.8" fill="#c3283a"/>
<line x1="440.75" y1="408.14" x2="440.75" y2="405.9" stroke="#c3283a" stroke-width="1.1"/>
<line x1="439.25" y1="405.9" x2="442.25" y2="405.9" stroke="#c3283a" stroke-width="1.1"/>
<line x1="439.25" y1="408.14" x2="442.25" y2="408.14" stroke="#c3283a" stroke-width="1.1"/>
<circle cx="440.75" cy="407.02" r="1.8" fill="#c3283a"/>
<line x1="450.53" y1="414.86" x2="450.53" y2="410.38" stroke="#c3283a" stroke-width="1.1"/>
<line x1="449.03" y1="410.38" x2="452.03" y2="410.38" stroke="#c3283a" stroke-width="1.1"/>
<line x1="449.03" y1="414.86" x2="452.03" y2="414.86" stroke="#c3283a" stroke-width="1.1"/>
<circle cx="450.53" cy="412.62" r="1.8" fill="#c3283a"/>
<line x1="460.3" y1="418.22" x2="460.3" y2="410.38" stroke="#c3283a" stroke-width="1.1"/>
<line x1="458.8" y1="410.38" x2="461.8" y2="410.38" stroke="#c3283a" stroke-width="1.1"/>
<line x1="458.8" y1="418.22" x2="461.8" y2="418.22" stroke="#c3283a" stroke-width="1.1"/>
<circle cx="460.3" cy="414.3" r="1.8" fill="#c3283a"/>
<line x1="382.1" y1="385.74" x2="382.1" y2="379.02" stroke="#7fa3b6" stroke-width="1.1"/>
<line x1="380.6" y1="379.02" x2="383.6" y2="379.02" stroke="#7fa3b6" stroke-width="1.1"/>
<line x1="380.6" y1="385.74" x2="383.6" y2="385.74" stroke="#7fa3b6" stroke-width="1.1"/>
<rect x="380.39" y="380.67" width="3.42" height="3.42" fill="#7fa3b6" stroke="none" stroke-width="1"/>
<line x1="391.88" y1="393.58" x2="391.88" y2="390.22" stroke="#7fa3b6" stroke-width="1.1"/>
<line x1="390.38" y1="390.22" x2="393.38" y2="390.22" stroke="#7fa3b6" stroke-width="1.1"/>
<line x1="390.38" y1="393.58" x2="393.38" y2="393.58" stroke="#7fa3b6" stroke-width="1.1"/>
<rect x="390.17" y="390.19" width="3.42" height="3.42" fill="#7fa3b6" stroke="none" stroke-width="1"/>
<line x1="401.65" y1="406.46" x2="401.65" y2="401.98" stroke="#7fa3b6" stroke-width="1.1"/>
<line x1="400.15" y1="401.98" x2="403.15" y2="401.98" stroke="#7fa3b6" stroke-width="1.1"/>
<line x1="400.15" y1="406.46" x2="403.15" y2="406.46" stroke="#7fa3b6" stroke-width="1.1"/>
<rect x="399.94" y="402.51" width="3.42" height="3.42" fill="#7fa3b6" stroke="none" stroke-width="1"/>
<line x1="411.43" y1="423.26" x2="411.43" y2="416.54" stroke="#7fa3b6" stroke-width="1.1"/>
<line x1="409.93" y1="416.54" x2="412.93" y2="416.54" stroke="#7fa3b6" stroke-width="1.1"/>
<line x1="409.93" y1="423.26" x2="412.93" y2="423.26" stroke="#7fa3b6" stroke-width="1.1"/>
<rect x="409.72" y="418.19" width="3.42" height="3.42" fill="#7fa3b6" stroke="none" stroke-width="1"/>
<line x1="421.2" y1="423.82" x2="421.2" y2="419.34" stroke="#7fa3b6" stroke-width="1.1"/>
<line x1="419.7" y1="419.34" x2="422.7" y2="419.34" stroke="#7fa3b6" stroke-width="1.1"/>
<line x1="419.7" y1="423.82" x2="422.7" y2="423.82" stroke="#7fa3b6" stroke-width="1.1"/>
<rect x="419.49" y="419.87" width="3.42" height="3.42" fill="#7fa3b6" stroke="none" stroke-width="1"/>
<line x1="430.98" y1="424.38" x2="430.98" y2="417.66" stroke="#7fa3b6" stroke-width="1.1"/>
<line x1="429.48" y1="417.66" x2="432.48" y2="417.66" stroke="#7fa3b6" stroke-width="1.1"/>
<line x1="429.48" y1="424.38" x2="432.48" y2="424.38" stroke="#7fa3b6" stroke-width="1.1"/>
<rect x="429.27" y="419.31" width="3.42" height="3.42" fill="#7fa3b6" stroke="none" stroke-width="1"/>
<line x1="440.75" y1="428.3" x2="440.75" y2="424.94" stroke="#7fa3b6" stroke-width="1.1"/>
<line x1="439.25" y1="424.94" x2="442.25" y2="424.94" stroke="#7fa3b6" stroke-width="1.1"/>
<line x1="439.25" y1="428.3" x2="442.25" y2="428.3" stroke="#7fa3b6" stroke-width="1.1"/>
<rect x="439.04" y="424.91" width="3.42" height="3.42" fill="#7fa3b6" stroke="none" stroke-width="1"/>
<line x1="450.53" y1="428.3" x2="450.53" y2="424.94" stroke="#7fa3b6" stroke-width="1.1"/>
<line x1="449.03" y1="424.94" x2="452.03" y2="424.94" stroke="#7fa3b6" stroke-width="1.1"/>
<line x1="449.03" y1="428.3" x2="452.03" y2="428.3" stroke="#7fa3b6" stroke-width="1.1"/>
<rect x="448.82" y="424.91" width="3.42" height="3.42" fill="#7fa3b6" stroke="none" stroke-width="1"/>
<line x1="460.3" y1="428.3" x2="460.3" y2="424.94" stroke="#7fa3b6" stroke-width="1.1"/>
<line x1="458.8" y1="424.94" x2="461.8" y2="424.94" stroke="#7fa3b6" stroke-width="1.1"/>
<line x1="458.8" y1="428.3" x2="461.8" y2="428.3" stroke="#7fa3b6" stroke-width="1.1"/>
<rect x="458.59" y="424.91" width="3.42" height="3.42" fill="#7fa3b6" stroke="none" stroke-width="1"/>
<line x1="382.1" y1="376.22" x2="382.1" y2="368.38" stroke="#3b5e8e" stroke-width="1.1"/>
<line x1="380.6" y1="368.38" x2="383.6" y2="368.38" stroke="#3b5e8e" stroke-width="1.1"/>
<line x1="380.6" y1="376.22" x2="383.6" y2="376.22" stroke="#3b5e8e" stroke-width="1.1"/>
<path d="M382.1,370.12 L384.1,373.82 L380.11,373.82 Z" fill="#3b5e8e"/>
<line x1="391.88" y1="412.06" x2="391.88" y2="397.5" stroke="#3b5e8e" stroke-width="1.1"/>
<line x1="390.38" y1="397.5" x2="393.38" y2="397.5" stroke="#3b5e8e" stroke-width="1.1"/>
<line x1="390.38" y1="412.06" x2="393.38" y2="412.06" stroke="#3b5e8e" stroke-width="1.1"/>
<path d="M391.88,402.6 L393.87,406.3 L389.88,406.3 Z" fill="#3b5e8e"/>
<line x1="401.65" y1="418.78" x2="401.65" y2="408.7" stroke="#3b5e8e" stroke-width="1.1"/>
<line x1="400.15" y1="408.7" x2="403.15" y2="408.7" stroke="#3b5e8e" stroke-width="1.1"/>
<line x1="400.15" y1="418.78" x2="403.15" y2="418.78" stroke="#3b5e8e" stroke-width="1.1"/>
<path d="M401.65,411.56 L403.65,415.26 L399.66,415.26 Z" fill="#3b5e8e"/>
<line x1="411.43" y1="427.74" x2="411.43" y2="424.38" stroke="#3b5e8e" stroke-width="1.1"/>
<line x1="409.93" y1="424.38" x2="412.93" y2="424.38" stroke="#3b5e8e" stroke-width="1.1"/>
<line x1="409.93" y1="427.74" x2="412.93" y2="427.74" stroke="#3b5e8e" stroke-width="1.1"/>
<path d="M411.43,423.88 L413.42,427.58 L409.43,427.58 Z" fill="#3b5e8e"/>
<line x1="421.2" y1="430.54" x2="421.2" y2="428.3" stroke="#3b5e8e" stroke-width="1.1"/>
<line x1="419.7" y1="428.3" x2="422.7" y2="428.3" stroke="#3b5e8e" stroke-width="1.1"/>
<line x1="419.7" y1="430.54" x2="422.7" y2="430.54" stroke="#3b5e8e" stroke-width="1.1"/>
<path d="M421.2,427.24 L423.2,430.94 L419.21,430.94 Z" fill="#3b5e8e"/>
<line x1="430.98" y1="427.18" x2="430.98" y2="424.94" stroke="#3b5e8e" stroke-width="1.1"/>
<line x1="429.48" y1="424.94" x2="432.48" y2="424.94" stroke="#3b5e8e" stroke-width="1.1"/>
<line x1="429.48" y1="427.18" x2="432.48" y2="427.18" stroke="#3b5e8e" stroke-width="1.1"/>
<path d="M430.98,423.88 L432.97,427.58 L428.98,427.58 Z" fill="#3b5e8e"/>
<line x1="440.75" y1="427.18" x2="440.75" y2="424.94" stroke="#3b5e8e" stroke-width="1.1"/>
<line x1="439.25" y1="424.94" x2="442.25" y2="424.94" stroke="#3b5e8e" stroke-width="1.1"/>
<line x1="439.25" y1="427.18" x2="442.25" y2="427.18" stroke="#3b5e8e" stroke-width="1.1"/>
<path d="M440.75,423.88 L442.75,427.58 L438.75,427.58 Z" fill="#3b5e8e"/>
<line x1="450.53" y1="427.74" x2="450.53" y2="425.5" stroke="#3b5e8e" stroke-width="1.1"/>
<line x1="449.03" y1="425.5" x2="452.03" y2="425.5" stroke="#3b5e8e" stroke-width="1.1"/>
<line x1="449.03" y1="427.74" x2="452.03" y2="427.74" stroke="#3b5e8e" stroke-width="1.1"/>
<path d="M450.53,424.44 L452.52,428.14 L448.53,428.14 Z" fill="#3b5e8e"/>
<line x1="460.3" y1="428.3" x2="460.3" y2="424.94" stroke="#3b5e8e" stroke-width="1.1"/>
<line x1="458.8" y1="424.94" x2="461.8" y2="424.94" stroke="#3b5e8e" stroke-width="1.1"/>
<line x1="458.8" y1="428.3" x2="461.8" y2="428.3" stroke="#3b5e8e" stroke-width="1.1"/>
<path d="M460.3,424.44 L462.3,428.14 L458.31,428.14 Z" fill="#3b5e8e"/>
<line x1="436.7" y1="360.9" x2="445.2" y2="360.9" stroke="#c3283a" stroke-width="1.4"/>
<circle cx="440.95" cy="360.9" r="1.71" fill="#c3283a"/>
<text x="448.6" y="364" font-size="9.6" font-weight="bold" text-anchor="start" fill="#1a1a1a" stroke="none">Ctrl</text>
<line x1="436.7" y1="368.8" x2="445.2" y2="368.8" stroke="#7fa3b6" stroke-width="1.4"/>
<rect x="439.33" y="367.18" width="3.24" height="3.24" fill="#7fa3b6" stroke="none" stroke-width="1"/>
<text x="448.6" y="371.9" font-size="9.6" font-weight="bold" text-anchor="start" fill="#1a1a1a" stroke="none">shUFL1#1</text>
<line x1="436.7" y1="376.5" x2="445.2" y2="376.5" stroke="#3b5e8e" stroke-width="1.4"/>
<path d="M440.95,374.43 L442.84,377.94 L439.06,377.94 Z" fill="#3b5e8e"/>
<text x="448.6" y="379.6" font-size="9.6" font-weight="bold" text-anchor="start" fill="#1a1a1a" stroke="none">shUFL1#2</text>
<line x1="554.2" y1="364.6" x2="554.2" y2="433.7" stroke="#222" stroke-width="1.3"/>
<line x1="553.6" y1="432.9" x2="655.55" y2="432.9" stroke="#222" stroke-width="1.5"/>
<line x1="551.4" y1="432.9" x2="554.2" y2="432.9" stroke="#222" stroke-width="1.1"/>
<text x="551.2" y="436.1" font-size="9.4" font-weight="bold" text-anchor="end" fill="#1a1a1a" transform="translate(0 -26.17) scale(1 1.06)" stroke="#1a1a1a" stroke-width="0.14">0</text>
<line x1="551.4" y1="404.7" x2="554.2" y2="404.7" stroke="#222" stroke-width="1.1"/>
<text x="551.2" y="407.9" font-size="9.4" font-weight="bold" text-anchor="end" fill="#1a1a1a" transform="translate(0 -24.47) scale(1 1.06)" stroke="#1a1a1a" stroke-width="0.14">50</text>
<line x1="551.4" y1="376.5" x2="554.2" y2="376.5" stroke="#222" stroke-width="1.1"/>
<text x="551.2" y="379.7" font-size="9.4" font-weight="bold" text-anchor="end" fill="#1a1a1a" transform="translate(0 -22.78) scale(1 1.06)" stroke="#1a1a1a" stroke-width="0.14">100</text>
<line x1="554.2" y1="432.9" x2="554.2" y2="435.5" stroke="#222" stroke-width="1.1"/>
<text x="554.6" y="444.6" font-size="9.4" font-weight="bold" text-anchor="middle" fill="#1a1a1a" transform="translate(0 -26.68) scale(1 1.06)" stroke="#1a1a1a" stroke-width="0.14">-2</text>
<line x1="574.35" y1="432.9" x2="574.35" y2="435.5" stroke="#222" stroke-width="1.1"/>
<text x="574.75" y="444.6" font-size="9.4" font-weight="bold" text-anchor="middle" fill="#1a1a1a" transform="translate(0 -26.68) scale(1 1.06)" stroke="#1a1a1a" stroke-width="0.14">-1</text>
<line x1="594.5" y1="432.9" x2="594.5" y2="435.5" stroke="#222" stroke-width="1.1"/>
<text x="594.5" y="444.6" font-size="9.4" font-weight="bold" text-anchor="middle" fill="#1a1a1a" transform="translate(0 -26.68) scale(1 1.06)" stroke="#1a1a1a" stroke-width="0.14">0</text>
<line x1="614.65" y1="432.9" x2="614.65" y2="435.5" stroke="#222" stroke-width="1.1"/>
<text x="614.65" y="444.6" font-size="9.4" font-weight="bold" text-anchor="middle" fill="#1a1a1a" transform="translate(0 -26.68) scale(1 1.06)" stroke="#1a1a1a" stroke-width="0.14">1</text>
<line x1="634.8" y1="432.9" x2="634.8" y2="435.5" stroke="#222" stroke-width="1.1"/>
<text x="634.8" y="444.6" font-size="9.4" font-weight="bold" text-anchor="middle" fill="#1a1a1a" transform="translate(0 -26.68) scale(1 1.06)" stroke="#1a1a1a" stroke-width="0.14">2</text>
<line x1="654.95" y1="432.9" x2="654.95" y2="435.5" stroke="#222" stroke-width="1.1"/>
<text x="654.95" y="444.6" font-size="9.4" font-weight="bold" text-anchor="middle" fill="#1a1a1a" transform="translate(0 -26.68) scale(1 1.06)" stroke="#1a1a1a" stroke-width="0.14">3</text>
<text x="614.2" y="459" font-size="9.7" font-weight="bold" text-anchor="middle" fill="#1a1a1a" transform="translate(0 -27.54) scale(1 1.06)" stroke="#1a1a1a" stroke-width="0.14">conc. Doxorubicin[log(μM)]</text>
<text x="531.7" y="401.8" font-size="9.4" font-weight="bold" text-anchor="middle" fill="#1a1a1a" transform="translate(531.7 401.8) rotate(-90) scale(1 1.06) translate(-531.7 -401.8)" stroke="#1a1a1a" stroke-width="0.14">Relative survival(%)</text>
<polyline points="558.4,382.06 559.38,382.18 560.37,382.32 561.36,382.46 562.34,382.6 563.32,382.75 564.31,382.91 565.29,383.07 566.28,383.24 567.26,383.42 568.25,383.61 569.24,383.8 570.22,384 571.2,384.21 572.19,384.42 573.17,384.65 574.16,384.88 575.14,385.12 576.13,385.37 577.12,385.63 578.1,385.9 579.08,386.18 580.07,386.47 581.05,386.77 582.04,387.08 583.02,387.4 584.01,387.73 585,388.07 585.98,388.42 586.96,388.79 587.95,389.16 588.93,389.54 589.92,389.94 590.9,390.34 591.89,390.76 592.88,391.18 593.86,391.62 594.85,392.07 595.83,392.53 596.81,392.99 597.8,393.47 598.78,393.96 599.77,394.45 600.75,394.96 601.74,395.47 602.73,395.99 603.71,396.52 604.69,397.06 605.68,397.61 606.66,398.16 607.65,398.71 608.63,399.27 609.62,399.84 610.61,400.41 611.59,400.98 612.57,401.55 613.56,402.13 614.54,402.71 615.53,403.29 616.51,403.87 617.5,404.45 618.49,405.03 619.47,405.6 620.45,406.17 621.44,406.74 622.42,407.31 623.41,407.87 624.39,408.42 625.38,408.97 626.37,409.52 627.35,410.06 628.33,410.59 629.32,411.11 630.3,411.62 631.29,412.13 632.27,412.62 633.26,413.11 634.25,413.59 635.23,414.05 636.21,414.51 637.2,414.96" fill="none" stroke="#c3283a" stroke-width="1.6"/>
<polyline points="558.4,393.59 559.38,394.6 560.37,395.67 561.36,396.78 562.34,397.94 563.32,399.14 564.31,400.38 565.29,401.66 566.28,402.96 567.26,404.28 568.25,405.61 569.24,406.96 570.22,408.3 571.2,409.63 572.19,410.96 573.17,412.26 574.16,413.53 575.14,414.77 576.13,415.97 577.12,417.13 578.1,418.25 579.08,419.31 580.07,420.32 581.05,421.29 582.04,422.19 583.02,423.05 584.01,423.85 585,424.6 585.98,425.29 586.96,425.94 587.95,426.54 588.93,427.1 589.92,427.61 590.9,428.08 591.89,428.52 592.88,428.92 593.86,429.28 594.85,429.61 595.83,429.92 596.81,430.2 597.8,430.45 598.78,430.68 599.77,430.89 600.75,431.08 601.74,431.26 602.73,431.41 603.71,431.56 604.69,431.68 605.68,431.8 606.66,431.91 607.65,432 608.63,432.09 609.62,432.17 610.61,432.24 611.59,432.3 612.57,432.36 613.56,432.41 614.54,432.46 615.53,432.5 616.51,432.54 617.5,432.58 618.49,432.61 619.47,432.64 620.45,432.66 621.44,432.69 622.42,432.71 623.41,432.73 624.39,432.74 625.38,432.76 626.37,432.77 627.35,432.79 628.33,432.8 629.32,432.81 630.3,432.82 631.29,432.82 632.27,432.83 633.26,432.84 634.25,432.84 635.23,432.85 636.21,432.85 637.2,432.86" fill="none" stroke="#7fa3b6" stroke-width="1.6"/>
<polyline points="558.4,396.77 559.38,397.87 560.37,399.02 561.36,400.22 562.34,401.46 563.32,402.74 564.31,404.05 565.29,405.38 566.28,406.73 567.26,408.08 568.25,409.44 569.24,410.79 570.22,412.12 571.2,413.43 572.19,414.71 573.17,415.95 574.16,417.15 575.14,418.3 576.13,419.4 577.12,420.45 578.1,421.44 579.08,422.37 580.07,423.25 581.05,424.07 582.04,424.84 583.02,425.55 584.01,426.21 585,426.82 585.98,427.38 586.96,427.89 587.95,428.36 588.93,428.8 589.92,429.19 590.9,429.55 591.89,429.87 592.88,430.17 593.86,430.44 594.85,430.68 595.83,430.9 596.81,431.1 597.8,431.28 598.78,431.45 599.77,431.59 600.75,431.72 601.74,431.84 602.73,431.95 603.71,432.05 604.69,432.13 605.68,432.21 606.66,432.28 607.65,432.35 608.63,432.4 609.62,432.45 610.61,432.5 611.59,432.54 612.57,432.58 613.56,432.61 614.54,432.64 615.53,432.67 616.51,432.69 617.5,432.71 618.49,432.73 619.47,432.75 620.45,432.77 621.44,432.78 622.42,432.79 623.41,432.8 624.39,432.81 625.38,432.82 626.37,432.83 627.35,432.84 628.33,432.84 629.32,432.85 630.3,432.85 631.29,432.86 632.27,432.86 633.26,432.87 634.25,432.87 635.23,432.87 636.21,432.88 637.2,432.88" fill="none" stroke="#3b5e8e" stroke-width="1.6"/>
<line x1="558.4" y1="384.4" x2="558.4" y2="382.14" stroke="#c3283a" stroke-width="1.1"/>
<line x1="556.9" y1="382.14" x2="559.9" y2="382.14" stroke="#c3283a" stroke-width="1.1"/>
<line x1="556.9" y1="384.4" x2="559.9" y2="384.4" stroke="#c3283a" stroke-width="1.1"/>
<circle cx="558.4" cy="383.27" r="1.8" fill="#c3283a"/>
<line x1="568.25" y1="385.52" x2="568.25" y2="383.27" stroke="#c3283a" stroke-width="1.1"/>
<line x1="566.75" y1="383.27" x2="569.75" y2="383.27" stroke="#c3283a" stroke-width="1.1"/>
<line x1="566.75" y1="385.52" x2="569.75" y2="385.52" stroke="#c3283a" stroke-width="1.1"/>
<circle cx="568.25" cy="384.4" r="1.8" fill="#c3283a"/>
<line x1="578.1" y1="388.91" x2="578.1" y2="386.65" stroke="#c3283a" stroke-width="1.1"/>
<line x1="576.6" y1="386.65" x2="579.6" y2="386.65" stroke="#c3283a" stroke-width="1.1"/>
<line x1="576.6" y1="388.91" x2="579.6" y2="388.91" stroke="#c3283a" stroke-width="1.1"/>
<circle cx="578.1" cy="387.78" r="1.8" fill="#c3283a"/>
<line x1="587.95" y1="396.8" x2="587.95" y2="390.04" stroke="#c3283a" stroke-width="1.1"/>
<line x1="586.45" y1="390.04" x2="589.45" y2="390.04" stroke="#c3283a" stroke-width="1.1"/>
<line x1="586.45" y1="396.8" x2="589.45" y2="396.8" stroke="#c3283a" stroke-width="1.1"/>
<circle cx="587.95" cy="393.42" r="1.8" fill="#c3283a"/>
<line x1="597.8" y1="399.62" x2="597.8" y2="395.11" stroke="#c3283a" stroke-width="1.1"/>
<line x1="596.3" y1="395.11" x2="599.3" y2="395.11" stroke="#c3283a" stroke-width="1.1"/>
<line x1="596.3" y1="399.62" x2="599.3" y2="399.62" stroke="#c3283a" stroke-width="1.1"/>
<circle cx="597.8" cy="397.37" r="1.8" fill="#c3283a"/>
<line x1="607.65" y1="402.44" x2="607.65" y2="400.19" stroke="#c3283a" stroke-width="1.1"/>
<line x1="606.15" y1="400.19" x2="609.15" y2="400.19" stroke="#c3283a" stroke-width="1.1"/>
<line x1="606.15" y1="402.44" x2="609.15" y2="402.44" stroke="#c3283a" stroke-width="1.1"/>
<circle cx="607.65" cy="401.32" r="1.8" fill="#c3283a"/>
<line x1="617.5" y1="409.21" x2="617.5" y2="405.83" stroke="#c3283a" stroke-width="1.1"/>
<line x1="616" y1="405.83" x2="619" y2="405.83" stroke="#c3283a" stroke-width="1.1"/>
<line x1="616" y1="409.21" x2="619" y2="409.21" stroke="#c3283a" stroke-width="1.1"/>
<circle cx="617.5" cy="407.52" r="1.8" fill="#c3283a"/>
<line x1="627.35" y1="413.16" x2="627.35" y2="408.65" stroke="#c3283a" stroke-width="1.1"/>
<line x1="625.85" y1="408.65" x2="628.85" y2="408.65" stroke="#c3283a" stroke-width="1.1"/>
<line x1="625.85" y1="413.16" x2="628.85" y2="413.16" stroke="#c3283a" stroke-width="1.1"/>
<circle cx="627.35" cy="410.9" r="1.8" fill="#c3283a"/>
<line x1="637.2" y1="417.11" x2="637.2" y2="414.85" stroke="#c3283a" stroke-width="1.1"/>
<line x1="635.7" y1="414.85" x2="638.7" y2="414.85" stroke="#c3283a" stroke-width="1.1"/>
<line x1="635.7" y1="417.11" x2="638.7" y2="417.11" stroke="#c3283a" stroke-width="1.1"/>
<circle cx="637.2" cy="415.98" r="1.8" fill="#c3283a"/>
<line x1="558.4" y1="400.19" x2="558.4" y2="388.91" stroke="#7fa3b6" stroke-width="1.1"/>
<line x1="556.9" y1="388.91" x2="559.9" y2="388.91" stroke="#7fa3b6" stroke-width="1.1"/>
<line x1="556.9" y1="400.19" x2="559.9" y2="400.19" stroke="#7fa3b6" stroke-width="1.1"/>
<rect x="556.69" y="392.84" width="3.42" height="3.42" fill="#7fa3b6" stroke="none" stroke-width="1"/>
<line x1="568.25" y1="412.03" x2="568.25" y2="403.01" stroke="#7fa3b6" stroke-width="1.1"/>
<line x1="566.75" y1="403.01" x2="569.75" y2="403.01" stroke="#7fa3b6" stroke-width="1.1"/>
<line x1="566.75" y1="412.03" x2="569.75" y2="412.03" stroke="#7fa3b6" stroke-width="1.1"/>
<rect x="566.54" y="405.81" width="3.42" height="3.42" fill="#7fa3b6" stroke="none" stroke-width="1"/>
<line x1="578.1" y1="425" x2="578.1" y2="418.24" stroke="#7fa3b6" stroke-width="1.1"/>
<line x1="576.6" y1="418.24" x2="579.6" y2="418.24" stroke="#7fa3b6" stroke-width="1.1"/>
<line x1="576.6" y1="425" x2="579.6" y2="425" stroke="#7fa3b6" stroke-width="1.1"/>
<rect x="576.39" y="419.91" width="3.42" height="3.42" fill="#7fa3b6" stroke="none" stroke-width="1"/>
<line x1="587.95" y1="426.13" x2="587.95" y2="419.36" stroke="#7fa3b6" stroke-width="1.1"/>
<line x1="586.45" y1="419.36" x2="589.45" y2="419.36" stroke="#7fa3b6" stroke-width="1.1"/>
<line x1="586.45" y1="426.13" x2="589.45" y2="426.13" stroke="#7fa3b6" stroke-width="1.1"/>
<rect x="586.24" y="421.04" width="3.42" height="3.42" fill="#7fa3b6" stroke="none" stroke-width="1"/>
<line x1="597.8" y1="426.7" x2="597.8" y2="423.31" stroke="#7fa3b6" stroke-width="1.1"/>
<line x1="596.3" y1="423.31" x2="599.3" y2="423.31" stroke="#7fa3b6" stroke-width="1.1"/>
<line x1="596.3" y1="426.7" x2="599.3" y2="426.7" stroke="#7fa3b6" stroke-width="1.1"/>
<rect x="596.09" y="423.29" width="3.42" height="3.42" fill="#7fa3b6" stroke="none" stroke-width="1"/>
<line x1="607.65" y1="430.08" x2="607.65" y2="426.7" stroke="#7fa3b6" stroke-width="1.1"/>
<line x1="606.15" y1="426.7" x2="609.15" y2="426.7" stroke="#7fa3b6" stroke-width="1.1"/>
<line x1="606.15" y1="430.08" x2="609.15" y2="430.08" stroke="#7fa3b6" stroke-width="1.1"/>
<rect x="605.94" y="426.68" width="3.42" height="3.42" fill="#7fa3b6" stroke="none" stroke-width="1"/>
<line x1="617.5" y1="430.08" x2="617.5" y2="426.7" stroke="#7fa3b6" stroke-width="1.1"/>
<line x1="616" y1="426.7" x2="619" y2="426.7" stroke="#7fa3b6" stroke-width="1.1"/>
<line x1="616" y1="430.08" x2="619" y2="430.08" stroke="#7fa3b6" stroke-width="1.1"/>
<rect x="615.79" y="426.68" width="3.42" height="3.42" fill="#7fa3b6" stroke="none" stroke-width="1"/>
<line x1="627.35" y1="430.64" x2="627.35" y2="427.26" stroke="#7fa3b6" stroke-width="1.1"/>
<line x1="625.85" y1="427.26" x2="628.85" y2="427.26" stroke="#7fa3b6" stroke-width="1.1"/>
<line x1="625.85" y1="430.64" x2="628.85" y2="430.64" stroke="#7fa3b6" stroke-width="1.1"/>
<rect x="625.64" y="427.24" width="3.42" height="3.42" fill="#7fa3b6" stroke="none" stroke-width="1"/>
<line x1="637.2" y1="430.64" x2="637.2" y2="427.26" stroke="#7fa3b6" stroke-width="1.1"/>
<line x1="635.7" y1="427.26" x2="638.7" y2="427.26" stroke="#7fa3b6" stroke-width="1.1"/>
<line x1="635.7" y1="430.64" x2="638.7" y2="430.64" stroke="#7fa3b6" stroke-width="1.1"/>
<rect x="635.49" y="427.24" width="3.42" height="3.42" fill="#7fa3b6" stroke="none" stroke-width="1"/>
<line x1="558.4" y1="406.96" x2="558.4" y2="393.42" stroke="#3b5e8e" stroke-width="1.1"/>
<line x1="556.9" y1="393.42" x2="559.9" y2="393.42" stroke="#3b5e8e" stroke-width="1.1"/>
<line x1="556.9" y1="406.96" x2="559.9" y2="406.96" stroke="#3b5e8e" stroke-width="1.1"/>
<path d="M558.4,398 L560.39,401.71 L556.4,401.71 Z" fill="#3b5e8e"/>
<line x1="568.25" y1="411.47" x2="568.25" y2="400.19" stroke="#3b5e8e" stroke-width="1.1"/>
<line x1="566.75" y1="400.19" x2="569.75" y2="400.19" stroke="#3b5e8e" stroke-width="1.1"/>
<line x1="566.75" y1="411.47" x2="569.75" y2="411.47" stroke="#3b5e8e" stroke-width="1.1"/>
<path d="M568.25,403.64 L570.25,407.35 L566.25,407.35 Z" fill="#3b5e8e"/>
<line x1="578.1" y1="425" x2="578.1" y2="420.49" stroke="#3b5e8e" stroke-width="1.1"/>
<line x1="576.6" y1="420.49" x2="579.6" y2="420.49" stroke="#3b5e8e" stroke-width="1.1"/>
<line x1="576.6" y1="425" x2="579.6" y2="425" stroke="#3b5e8e" stroke-width="1.1"/>
<path d="M578.1,420.56 L580.1,424.27 L576.11,424.27 Z" fill="#3b5e8e"/>
<line x1="587.95" y1="426.7" x2="587.95" y2="422.18" stroke="#3b5e8e" stroke-width="1.1"/>
<line x1="586.45" y1="422.18" x2="589.45" y2="422.18" stroke="#3b5e8e" stroke-width="1.1"/>
<line x1="586.45" y1="426.7" x2="589.45" y2="426.7" stroke="#3b5e8e" stroke-width="1.1"/>
<path d="M587.95,422.25 L589.94,425.96 L585.95,425.96 Z" fill="#3b5e8e"/>
<line x1="597.8" y1="431.77" x2="597.8" y2="429.52" stroke="#3b5e8e" stroke-width="1.1"/>
<line x1="596.3" y1="429.52" x2="599.3" y2="429.52" stroke="#3b5e8e" stroke-width="1.1"/>
<line x1="596.3" y1="431.77" x2="599.3" y2="431.77" stroke="#3b5e8e" stroke-width="1.1"/>
<path d="M597.8,428.46 L599.79,432.16 L595.8,432.16 Z" fill="#3b5e8e"/>
<line x1="607.65" y1="431.77" x2="607.65" y2="429.52" stroke="#3b5e8e" stroke-width="1.1"/>
<line x1="606.15" y1="429.52" x2="609.15" y2="429.52" stroke="#3b5e8e" stroke-width="1.1"/>
<line x1="606.15" y1="431.77" x2="609.15" y2="431.77" stroke="#3b5e8e" stroke-width="1.1"/>
<path d="M607.65,428.46 L609.64,432.16 L605.65,432.16 Z" fill="#3b5e8e"/>
<line x1="617.5" y1="431.21" x2="617.5" y2="428.95" stroke="#3b5e8e" stroke-width="1.1"/>
<line x1="616" y1="428.95" x2="619" y2="428.95" stroke="#3b5e8e" stroke-width="1.1"/>
<line x1="616" y1="431.21" x2="619" y2="431.21" stroke="#3b5e8e" stroke-width="1.1"/>
<path d="M617.5,427.89 L619.5,431.6 L615.5,431.6 Z" fill="#3b5e8e"/>
<line x1="627.35" y1="431.21" x2="627.35" y2="428.95" stroke="#3b5e8e" stroke-width="1.1"/>
<line x1="625.85" y1="428.95" x2="628.85" y2="428.95" stroke="#3b5e8e" stroke-width="1.1"/>
<line x1="625.85" y1="431.21" x2="628.85" y2="431.21" stroke="#3b5e8e" stroke-width="1.1"/>
<path d="M627.35,427.89 L629.35,431.6 L625.36,431.6 Z" fill="#3b5e8e"/>
<line x1="637.2" y1="431.21" x2="637.2" y2="428.95" stroke="#3b5e8e" stroke-width="1.1"/>
<line x1="635.7" y1="428.95" x2="638.7" y2="428.95" stroke="#3b5e8e" stroke-width="1.1"/>
<line x1="635.7" y1="431.21" x2="638.7" y2="431.21" stroke="#3b5e8e" stroke-width="1.1"/>
<path d="M637.2,427.89 L639.19,431.6 L635.2,431.6 Z" fill="#3b5e8e"/>
<line x1="611.7" y1="360.9" x2="620.2" y2="360.9" stroke="#c3283a" stroke-width="1.4"/>
<circle cx="615.95" cy="360.9" r="1.71" fill="#c3283a"/>
<text x="623.6" y="364" font-size="9.6" font-weight="bold" text-anchor="start" fill="#1a1a1a" stroke="none">Ctrl</text>
<line x1="611.7" y1="369.3" x2="620.2" y2="369.3" stroke="#7fa3b6" stroke-width="1.4"/>
<rect x="614.33" y="367.68" width="3.24" height="3.24" fill="#7fa3b6" stroke="none" stroke-width="1"/>
<text x="623.6" y="372.4" font-size="9.6" font-weight="bold" text-anchor="start" fill="#1a1a1a" stroke="none">shUFL1#1</text>
<line x1="611.7" y1="377.3" x2="620.2" y2="377.3" stroke="#3b5e8e" stroke-width="1.4"/>
<path d="M615.95,375.23 L617.84,378.74 L614.06,378.74 Z" fill="#3b5e8e"/>
<text x="623.6" y="380.4" font-size="9.6" font-weight="bold" text-anchor="start" fill="#1a1a1a" stroke="none">shUFL1#2</text>
<text x="120" y="495.1" font-size="9.6" font-weight="bold" text-anchor="middle" fill="#1a1a1a" transform="translate(0 -29.71) scale(1 1.06)" stroke="#1a1a1a" stroke-width="0.14">Saline</text>
<text x="255" y="495.5" font-size="10" font-weight="bold" text-anchor="middle" fill="#1a1a1a" transform="translate(0 -29.73) scale(1 1.06)" stroke="#1a1a1a" stroke-width="0.14">Cisplatin</text>
<line x1="52.4" y1="499.3" x2="178.7" y2="499.3" stroke="#222" stroke-width="1.2"/>
<line x1="199.5" y1="499.3" x2="312.8" y2="499.3" stroke="#222" stroke-width="1.2"/>
<text x="47.6" y="528.5" font-size="9.7" font-weight="bold" text-anchor="end" fill="#1a1a1a" transform="translate(0 -31.71) scale(1 1.06)" stroke="#1a1a1a" stroke-width="0.14">Ctrl</text>
<text x="47.6" y="566.4" font-size="9.7" font-weight="bold" text-anchor="end" fill="#1a1a1a" transform="translate(0 -33.98) scale(1 1.06)" stroke="#1a1a1a" stroke-width="0.14">shUFL1#1</text>
<text x="47.6" y="600.1" font-size="9.7" font-weight="bold" text-anchor="end" fill="#1a1a1a" transform="translate(0 -36.01) scale(1 1.06)" stroke="#1a1a1a" stroke-width="0.14">shUFL1#2</text>
<g clip-path="url(#phc)">
<rect x="52.4" y="504.5" width="260.4" height="122.7" fill="url(#pbg)" stroke="none" stroke-width="1"/>
<ellipse cx="67.2" cy="527.65" rx="8.5" ry="13.35" fill="#b0b4b0" opacity="0.35" filter="url(#sh)"/>
<ellipse cx="90.45" cy="528.4" rx="7.15" ry="16.7" fill="#b0b4b0" opacity="0.35" filter="url(#sh)"/>
<ellipse cx="111.5" cy="529.4" rx="8.7" ry="15.1" fill="#b0b4b0" opacity="0.35" filter="url(#sh)"/>
<ellipse cx="135.6" cy="527.95" rx="7.2" ry="15.05" fill="#b0b4b0" opacity="0.35" filter="url(#sh)"/>
<ellipse cx="155.05" cy="525.3" rx="6.75" ry="13.6" fill="#b0b4b0" opacity="0.35" filter="url(#sh)"/>
<ellipse cx="174.4" cy="528.15" rx="8.1" ry="10.75" fill="#b0b4b0" opacity="0.35" filter="url(#sh)"/>
<ellipse cx="215.35" cy="529.4" rx="7.15" ry="11.6" fill="#b0b4b0" opacity="0.35" filter="url(#sh)"/>
<ellipse cx="233.8" cy="528.7" rx="7.2" ry="11.7" fill="#b0b4b0" opacity="0.35" filter="url(#sh)"/>
<ellipse cx="251.75" cy="530" rx="7.65" ry="11" fill="#b0b4b0" opacity="0.35" filter="url(#sh)"/>
<ellipse cx="270.4" cy="531.45" rx="6.5" ry="13.05" fill="#b0b4b0" opacity="0.35" filter="url(#sh)"/>
<ellipse cx="286.6" cy="532.75" rx="7.7" ry="10.25" fill="#b0b4b0" opacity="0.35" filter="url(#sh)"/>
<ellipse cx="302.8" cy="534.55" rx="7.5" ry="10.55" fill="#b0b4b0" opacity="0.35" filter="url(#sh)"/>
<ellipse cx="64.3" cy="561.3" rx="8.7" ry="9.4" fill="#b0b4b0" opacity="0.35" filter="url(#sh)"/>
<ellipse cx="86.85" cy="563.55" rx="6.65" ry="10.25" fill="#b0b4b0" opacity="0.35" filter="url(#sh)"/>
<ellipse cx="108.4" cy="562.5" rx="7.7" ry="8.2" fill="#b0b4b0" opacity="0.35" filter="url(#sh)"/>
<ellipse cx="130.75" cy="562.5" rx="5.85" ry="8.2" fill="#b0b4b0" opacity="0.35" filter="url(#sh)"/>
<ellipse cx="150.25" cy="563.25" rx="5.45" ry="8.55" fill="#b0b4b0" opacity="0.35" filter="url(#sh)"/>
<ellipse cx="169.2" cy="562.2" rx="5.3" ry="7.5" fill="#b0b4b0" opacity="0.35" filter="url(#sh)"/>
<ellipse cx="210.75" cy="563.25" rx="5.65" ry="8.55" fill="#b0b4b0" opacity="0.35" filter="url(#sh)"/>
<ellipse cx="231.55" cy="563.05" rx="4.95" ry="6.65" fill="#b0b4b0" opacity="0.35" filter="url(#sh)"/>
<ellipse cx="251.05" cy="564.85" rx="5.35" ry="4.85" fill="#b0b4b0" opacity="0.35" filter="url(#sh)"/>
<ellipse cx="266.8" cy="565.1" rx="4.9" ry="4.6" fill="#b0b4b0" opacity="0.35" filter="url(#sh)"/>
<ellipse cx="283" cy="565.3" rx="5.1" ry="5.8" fill="#b0b4b0" opacity="0.35" filter="url(#sh)"/>
<ellipse cx="301.5" cy="566.2" rx="4.1" ry="6.2" fill="#b0b4b0" opacity="0.35" filter="url(#sh)"/>
<ellipse cx="66.7" cy="595.35" rx="9" ry="10.25" fill="#b0b4b0" opacity="0.35" filter="url(#sh)"/>
<ellipse cx="85.35" cy="595.35" rx="6.15" ry="10.25" fill="#b0b4b0" opacity="0.35" filter="url(#sh)"/>
<ellipse cx="106.45" cy="595.85" rx="6.15" ry="10.75" fill="#b0b4b0" opacity="0.35" filter="url(#sh)"/>
<ellipse cx="128" cy="594.85" rx="5.1" ry="10.75" fill="#b0b4b0" opacity="0.35" filter="url(#sh)"/>
<ellipse cx="147.25" cy="596.35" rx="5.15" ry="9.25" fill="#b0b4b0" opacity="0.35" filter="url(#sh)"/>
<ellipse cx="167.55" cy="595.85" rx="5.35" ry="7.65" fill="#b0b4b0" opacity="0.35" filter="url(#sh)"/>
<ellipse cx="209.45" cy="595.3" rx="5.85" ry="8.2" fill="#b0b4b0" opacity="0.35" filter="url(#sh)"/>
<ellipse cx="228.15" cy="594.85" rx="4.65" ry="6.65" fill="#b0b4b0" opacity="0.35" filter="url(#sh)"/>
<ellipse cx="247.85" cy="596.4" rx="3.75" ry="4.1" fill="#b0b4b0" opacity="0.35" filter="url(#sh)"/>
<ellipse cx="264.9" cy="596.5" rx="3.8" ry="4.6" fill="#b0b4b0" opacity="0.35" filter="url(#sh)"/>
<ellipse cx="282" cy="596.7" rx="4.5" ry="4.8" fill="#b0b4b0" opacity="0.35" filter="url(#sh)"/>
<ellipse cx="298.6" cy="595.55" rx="4.3" ry="4.95" fill="#b0b4b0" opacity="0.35" filter="url(#sh)"/>
<g filter="url(#tumtex)">
<path d="M74.58,526.65 L73.74,532.73 L71.18,537.44 L67.46,538.77 L63.9,539 L59.98,537.91 L57.71,532.69 L57.16,526.65 L58.61,521.29 L60.55,516.5 L63.68,512.76 L67.69,512.94 L70.59,517.02 L72.94,521.17Z" fill="url(#tg)" stroke="#c49690" stroke-width="0.5" stroke-linejoin="round"/>
<path d="M96.04,527.4 L94.9,534.09 L93.43,540.52 L90.68,545.07 L87.29,544.43 L84.72,539.78 L82.77,534.35 L81.53,527.4 L82,519.58 L84.66,514.84 L87.49,512.45 L90.56,510.97 L93.58,513.84 L95.43,520.11Z" fill="url(#tg)" stroke="#c49690" stroke-width="0.5" stroke-linejoin="round"/>
<path d="M118.83,528.4 L118.22,535.27 L115.53,540.44 L111.88,542.69 L108.09,542.95 L104.32,540.77 L101.84,535.22 L101.64,528.4 L102.77,522.35 L104.27,515.93 L107.88,512.28 L111.9,513.98 L115.23,517.01 L117.47,522.15Z" fill="url(#tg)" stroke="#c49690" stroke-width="0.5" stroke-linejoin="round"/>
<path d="M141.52,526.95 L140.57,533.46 L138.21,537.72 L135.74,541.95 L132.45,542.07 L129.3,539.52 L127.63,533.46 L127.02,526.95 L127.39,520.2 L129.22,514.15 L132.54,512.62 L135.64,512.88 L138.25,516.07 L140.94,520.06Z" fill="url(#tg)" stroke="#c49690" stroke-width="0.5" stroke-linejoin="round"/>
<path d="M159.92,524.3 L160.17,530.72 L158.09,535.78 L155.04,537.47 L152.1,537.08 L149.36,534.9 L146.94,530.71 L146.94,524.3 L147.72,518.64 L149.47,514 L152,510.65 L155.15,510.2 L157.61,514.05 L159.43,518.59Z" fill="url(#tg)" stroke="#c49690" stroke-width="0.5" stroke-linejoin="round"/>
<path d="M180.5,527.15 L180.05,531.72 L178.29,536.13 L174.84,538.43 L171.15,537.33 L168.23,534.92 L165.37,531.96 L164.64,527.15 L165.25,522.26 L168.26,519.43 L171.19,517.21 L174.79,516.16 L178.26,518.24 L180.41,522.35Z" fill="url(#tg)" stroke="#c49690" stroke-width="0.5" stroke-linejoin="round"/>
<path d="M220.57,528.4 L220.47,533.57 L218.42,537.71 L215.53,540.34 L212.36,538.96 L209.64,536.97 L207.04,533.72 L206.27,528.4 L207.35,523.32 L209.49,519.53 L212.31,517.47 L215.48,516.8 L218.58,518.78 L220.17,523.46Z" fill="url(#tg)" stroke="#c49690" stroke-width="0.5" stroke-linejoin="round"/>
<path d="M239.11,527.7 L238.66,532.68 L237.14,537.56 L233.99,539.77 L230.77,538.61 L228.07,536.32 L225.81,532.78 L224.62,527.7 L225.84,522.65 L228.11,519.16 L230.82,517.14 L233.89,516.4 L237.24,517.64 L238.79,522.62Z" fill="url(#tg)" stroke="#c49690" stroke-width="0.5" stroke-linejoin="round"/>
<path d="M257.45,529 L257.42,533.96 L255.3,538.1 L251.99,539.99 L248.69,538.84 L245.68,537.25 L243.3,533.81 L242.43,529 L243.28,524.17 L245.87,521.1 L248.55,518.31 L252.11,517.27 L255.04,520.37 L256.56,524.63Z" fill="url(#tg)" stroke="#c49690" stroke-width="0.5" stroke-linejoin="round"/>
<path d="M275.67,530.45 L274.51,535.88 L272.85,540.4 L270.32,542.97 L267.42,543.48 L264.84,540.66 L263.27,535.89 L262.74,530.45 L262.76,524.51 L264.74,519.98 L267.42,517.44 L270.21,518.92 L272.67,520.95 L274.83,524.72Z" fill="url(#tg)" stroke="#c49690" stroke-width="0.5" stroke-linejoin="round"/>
<path d="M292.51,531.75 L292.35,536.4 L290.14,540.16 L286.76,541.43 L283.51,541.02 L280.32,539.73 L277.89,536.37 L277.12,531.75 L278.13,527.28 L280.58,524.21 L283.31,521.28 L286.91,521.18 L290.12,523.38 L291.52,527.64Z" fill="url(#tg)" stroke="#c49690" stroke-width="0.5" stroke-linejoin="round"/>
<path d="M309.13,533.55 L308.42,538.37 L305.8,541.5 L302.91,543.45 L299.54,544.39 L296.34,542.3 L294.5,538.16 L294.11,533.55 L294.67,529.06 L296.3,524.74 L299.62,523.17 L302.98,523.17 L305.8,525.62 L308.17,528.9Z" fill="url(#tg)" stroke="#c49690" stroke-width="0.5" stroke-linejoin="round"/>
<path d="M70.83,560.3 L70.6,564.36 L68.56,568.11 L64.72,569.41 L60.93,569.17 L57.55,567.42 L54.42,564.66 L53.54,560.3 L54.91,556.19 L57.86,553.6 L60.91,551.35 L64.82,550.74 L68.23,552.94 L70.3,556.4Z" fill="url(#tg)" stroke="#c49690" stroke-width="0.5" stroke-linejoin="round"/>
<path d="M92.42,562.55 L91.37,567.02 L89.3,570.18 L86.75,572.03 L83.8,573.04 L80.98,570.99 L79.4,566.97 L79.08,562.55 L79.48,558.19 L80.81,553.77 L83.85,552.41 L86.81,552.68 L89.16,555.18 L91.39,558.07Z" fill="url(#tg)" stroke="#c49690" stroke-width="0.5" stroke-linejoin="round"/>
<path d="M114.29,561.5 L113.48,564.87 L111.76,568 L108.71,569.95 L105.1,569.88 L102.4,567.51 L100.29,564.89 L98.87,561.5 L99.66,557.79 L101.9,554.82 L105.33,554.19 L108.54,553.83 L111.74,555.04 L114.24,557.73Z" fill="url(#tg)" stroke="#c49690" stroke-width="0.5" stroke-linejoin="round"/>
<path d="M135.23,561.5 L135.01,565.39 L132.96,568.03 L130.47,568.99 L128.03,569.01 L125.66,567.81 L123.7,565.25 L123.45,561.5 L124.31,558.16 L125.76,555.36 L127.89,553.18 L130.59,553.3 L132.95,555 L134.06,558.26Z" fill="url(#tg)" stroke="#c49690" stroke-width="0.5" stroke-linejoin="round"/>
<path d="M153.77,562.25 L153.56,565.89 L152.31,569.25 L150.08,571.38 L147.55,570.52 L145.43,568.78 L144.05,565.8 L143.16,562.25 L143.68,558.42 L145.47,555.8 L147.59,554.26 L149.95,553.98 L152.39,555.08 L153.94,558.33Z" fill="url(#tg)" stroke="#c49690" stroke-width="0.5" stroke-linejoin="round"/>
<path d="M173.31,561.2 L172.57,564.52 L171.06,567.16 L168.82,568.13 L166.51,568.57 L164.18,567.45 L162.84,564.51 L162.58,561.2 L163.04,558.02 L164.43,555.39 L166.41,553.19 L168.9,553.75 L170.92,555.49 L172.27,558.09Z" fill="url(#tg)" stroke="#c49690" stroke-width="0.5" stroke-linejoin="round"/>
<path d="M215,562.25 L214.12,565.8 L212.66,568.73 L210.6,571.19 L207.91,571.11 L205.8,568.8 L204.24,565.9 L203.68,562.25 L203.94,558.38 L205.8,555.69 L208.1,554.62 L210.46,554.23 L213.04,555.05 L214.56,558.38Z" fill="url(#tg)" stroke="#c49690" stroke-width="0.5" stroke-linejoin="round"/>
<path d="M235.15,562.05 L234.11,564.68 L233.1,567.18 L231.19,568.74 L228.91,568.76 L227.06,567.09 L225.69,564.87 L225.18,562.05 L225.26,558.95 L226.8,556.58 L228.96,555.63 L231.11,555.81 L233.07,556.96 L234.78,558.99Z" fill="url(#tg)" stroke="#c49690" stroke-width="0.5" stroke-linejoin="round"/>
<path d="M254.97,563.85 L253.96,565.77 L252.89,567.64 L250.78,568.72 L248.3,568.8 L246.41,567.41 L244.86,565.9 L244.23,563.85 L244.27,561.54 L246.13,559.97 L248.44,559.43 L250.67,559.4 L253,559.92 L254.64,561.63Z" fill="url(#tg)" stroke="#c49690" stroke-width="0.5" stroke-linejoin="round"/>
<path d="M269.83,564.1 L269.44,565.97 L268.33,567.67 L266.48,568.95 L264.22,568.55 L262.44,567.47 L260.99,566.05 L260.07,564.1 L260.79,562.06 L262.19,560.44 L264.24,559.74 L266.36,559.74 L268.49,560.35 L269.72,562.1Z" fill="url(#tg)" stroke="#c49690" stroke-width="0.5" stroke-linejoin="round"/>
<path d="M286.51,564.3 L285.83,566.67 L284.55,568.66 L282.71,570.32 L280.3,570.27 L278.53,568.53 L277.06,566.73 L276.19,564.3 L276.76,561.71 L278.18,559.57 L280.42,558.94 L282.64,558.63 L284.77,559.63 L286.29,561.68Z" fill="url(#tg)" stroke="#c49690" stroke-width="0.5" stroke-linejoin="round"/>
<path d="M304.08,565.2 L303.48,567.74 L302.42,569.79 L300.95,571.52 L299.06,571.41 L297.5,569.93 L296.62,567.66 L295.84,565.2 L296.08,562.34 L297.28,560.04 L299.13,559.44 L300.89,559.28 L302.71,560.05 L303.91,562.35Z" fill="url(#tg)" stroke="#c49690" stroke-width="0.5" stroke-linejoin="round"/>
<path d="M73.52,594.35 L72.75,598.49 L71.16,602.86 L67.24,604.54 L63.23,604.16 L60.05,601.71 L57.44,598.61 L55.43,594.35 L56.9,589.8 L59.66,586.44 L63.24,584.55 L67.18,584.48 L71.3,585.64 L73.51,589.79Z" fill="url(#tg)" stroke="#c49690" stroke-width="0.5" stroke-linejoin="round"/>
<path d="M90.35,594.35 L89.6,598.97 L87.43,601.84 L85.12,603.66 L82.51,604.16 L79.82,602.77 L78.18,598.9 L77.94,594.35 L78.59,590.13 L79.74,585.76 L82.44,584.03 L85.15,584.89 L87.39,586.95 L89.52,589.8Z" fill="url(#tg)" stroke="#c49690" stroke-width="0.5" stroke-linejoin="round"/>
<path d="M111.54,594.85 L110.75,599.73 L108.62,602.9 L106.28,605.04 L103.48,606.07 L100.77,604.01 L99.65,599.32 L99.41,594.85 L99.61,590.36 L100.82,585.8 L103.55,584.11 L106.24,584.94 L108.71,586.61 L110.37,590.29Z" fill="url(#tg)" stroke="#c49690" stroke-width="0.5" stroke-linejoin="round"/>
<path d="M131.86,593.85 L130.94,598.36 L129.43,601.59 L127.59,603.89 L125.28,605.12 L123.1,602.83 L122.21,598.2 L121.78,593.85 L121.68,588.95 L123.2,585.13 L125.31,582.9 L127.54,584.21 L129.51,585.9 L131.2,589.08Z" fill="url(#tg)" stroke="#c49690" stroke-width="0.5" stroke-linejoin="round"/>
<path d="M150.98,595.35 L150.11,599.12 L148.9,602.44 L146.9,604.37 L144.51,605.1 L142.48,602.71 L141.51,599.02 L140.99,595.35 L140.77,591.04 L142.45,587.91 L144.59,586.23 L146.79,587.16 L148.83,588.41 L150.56,591.19Z" fill="url(#tg)" stroke="#c49690" stroke-width="0.5" stroke-linejoin="round"/>
<path d="M171.25,594.85 L170.83,598.14 L169.49,601.02 L167.27,602.5 L164.84,602.4 L162.83,600.63 L161.48,597.99 L160.43,594.85 L161.02,591.39 L162.75,588.93 L164.9,587.62 L167.21,587.61 L169.54,588.6 L170.82,591.57Z" fill="url(#tg)" stroke="#c49690" stroke-width="0.5" stroke-linejoin="round"/>
<path d="M213.93,594.3 L212.9,597.64 L211.43,600.42 L209.28,602.46 L206.62,602.48 L204.31,600.69 L203.03,597.62 L202.25,594.3 L202.34,590.52 L204.02,587.38 L206.62,586.14 L209.15,586.95 L211.56,587.96 L213.39,590.63Z" fill="url(#tg)" stroke="#c49690" stroke-width="0.5" stroke-linejoin="round"/>
<path d="M230.86,593.85 L230.58,596.55 L229.73,599.38 L227.75,600.77 L225.6,600.45 L224.02,598.56 L222.6,596.64 L221.71,593.85 L222.42,590.94 L223.77,588.69 L225.7,587.91 L227.69,587.33 L229.66,588.45 L231.04,590.83Z" fill="url(#tg)" stroke="#c49690" stroke-width="0.5" stroke-linejoin="round"/>
<path d="M249.81,595.4 L249.7,597.16 L248.81,598.78 L247.19,599.44 L245.59,599.03 L244.17,598.39 L242.93,597.2 L242.54,595.4 L242.96,593.62 L244.19,592.44 L245.51,591.37 L247.22,591.22 L248.75,592.11 L249.59,593.69Z" fill="url(#tg)" stroke="#c49690" stroke-width="0.5" stroke-linejoin="round"/>
<path d="M267.37,595.5 L266.91,597.55 L265.79,599.13 L264.17,599.59 L262.57,599.88 L260.95,599.22 L259.82,597.59 L259.62,595.5 L260.2,593.64 L261.15,592.08 L262.49,590.65 L264.28,590.81 L265.59,592.17 L266.54,593.67Z" fill="url(#tg)" stroke="#c49690" stroke-width="0.5" stroke-linejoin="round"/>
<path d="M284.72,595.7 L284.69,597.85 L283.47,599.67 L281.53,600.5 L279.53,600.26 L277.85,599.25 L276.37,597.82 L275.93,595.7 L276.72,593.76 L277.77,592.05 L279.5,591.04 L281.59,590.63 L283.31,591.94 L284.3,593.75Z" fill="url(#tg)" stroke="#c49690" stroke-width="0.5" stroke-linejoin="round"/>
<path d="M301.53,594.55 L301.22,596.83 L299.69,598.29 L297.99,599.02 L296.14,599.4 L294.24,598.68 L293.26,596.68 L292.86,594.55 L293.48,592.54 L294.33,590.55 L296.1,589.53 L298.04,589.79 L299.6,590.94 L300.78,592.51Z" fill="url(#tg)" stroke="#c49690" stroke-width="0.5" stroke-linejoin="round"/>
</g>
<rect x="56" y="608.3" width="257" height="18" fill="#f6f1f3" stroke="none" stroke-width="1"/>
<rect x="56" y="608.3" width="257" height="2.6" fill="#efd2dc" stroke="none" stroke-width="1"/>
<line x1="56" y1="611.3" x2="313" y2="611.3" stroke="#e0a8bc" stroke-width="0.6"/>
<line x1="58.5" y1="611.7" x2="58.5" y2="614.9" stroke="#d77a98" stroke-width="0.35"/>
<line x1="59.44" y1="611.7" x2="59.44" y2="612.9" stroke="#d77a98" stroke-width="0.35"/>
<line x1="60.39" y1="611.7" x2="60.39" y2="612.9" stroke="#d77a98" stroke-width="0.35"/>
<line x1="61.33" y1="611.7" x2="61.33" y2="612.9" stroke="#d77a98" stroke-width="0.35"/>
<line x1="62.28" y1="611.7" x2="62.28" y2="612.9" stroke="#d77a98" stroke-width="0.35"/>
<line x1="63.22" y1="611.7" x2="63.22" y2="613.9" stroke="#d77a98" stroke-width="0.35"/>
<line x1="64.16" y1="611.7" x2="64.16" y2="612.9" stroke="#d77a98" stroke-width="0.35"/>
<line x1="65.11" y1="611.7" x2="65.11" y2="612.9" stroke="#d77a98" stroke-width="0.35"/>
<line x1="66.05" y1="611.7" x2="66.05" y2="612.9" stroke="#d77a98" stroke-width="0.35"/>
<line x1="67" y1="611.7" x2="67" y2="612.9" stroke="#d77a98" stroke-width="0.35"/>
<line x1="67.94" y1="611.7" x2="67.94" y2="614.9" stroke="#d77a98" stroke-width="0.35"/>
<line x1="68.88" y1="611.7" x2="68.88" y2="612.9" stroke="#d77a98" stroke-width="0.35"/>
<line x1="69.83" y1="611.7" x2="69.83" y2="612.9" stroke="#d77a98" stroke-width="0.35"/>
<line x1="70.77" y1="611.7" x2="70.77" y2="612.9" stroke="#d77a98" stroke-width="0.35"/>
<line x1="71.72" y1="611.7" x2="71.72" y2="612.9" stroke="#d77a98" stroke-width="0.35"/>
<line x1="72.66" y1="611.7" x2="72.66" y2="613.9" stroke="#d77a98" stroke-width="0.35"/>
<line x1="73.6" y1="611.7" x2="73.6" y2="612.9" stroke="#d77a98" stroke-width="0.35"/>
<line x1="74.55" y1="611.7" x2="74.55" y2="612.9" stroke="#d77a98" stroke-width="0.35"/>
<line x1="75.49" y1="611.7" x2="75.49" y2="612.9" stroke="#d77a98" stroke-width="0.35"/>
<line x1="76.44" y1="611.7" x2="76.44" y2="612.9" stroke="#d77a98" stroke-width="0.35"/>
<line x1="77.38" y1="611.7" x2="77.38" y2="614.9" stroke="#d77a98" stroke-width="0.35"/>
<line x1="78.32" y1="611.7" x2="78.32" y2="612.9" stroke="#d77a98" stroke-width="0.35"/>
<line x1="79.27" y1="611.7" x2="79.27" y2="612.9" stroke="#d77a98" stroke-width="0.35"/>
<line x1="80.21" y1="611.7" x2="80.21" y2="612.9" stroke="#d77a98" stroke-width="0.35"/>
<line x1="81.16" y1="611.7" x2="81.16" y2="612.9" stroke="#d77a98" stroke-width="0.35"/>
<line x1="82.1" y1="611.7" x2="82.1" y2="613.9" stroke="#d77a98" stroke-width="0.35"/>
<line x1="83.04" y1="611.7" x2="83.04" y2="612.9" stroke="#d77a98" stroke-width="0.35"/>
<line x1="83.99" y1="611.7" x2="83.99" y2="612.9" stroke="#d77a98" stroke-width="0.35"/>
<line x1="84.93" y1="611.7" x2="84.93" y2="612.9" stroke="#d77a98" stroke-width="0.35"/>
<line x1="85.88" y1="611.7" x2="85.88" y2="612.9" stroke="#d77a98" stroke-width="0.35"/>
<line x1="86.82" y1="611.7" x2="86.82" y2="614.9" stroke="#d77a98" stroke-width="0.35"/>
<line x1="87.76" y1="611.7" x2="87.76" y2="612.9" stroke="#d77a98" stroke-width="0.35"/>
<line x1="88.71" y1="611.7" x2="88.71" y2="612.9" stroke="#d77a98" stroke-width="0.35"/>
<line x1="89.65" y1="611.7" x2="89.65" y2="612.9" stroke="#d77a98" stroke-width="0.35"/>
<line x1="90.6" y1="611.7" x2="90.6" y2="612.9" stroke="#d77a98" stroke-width="0.35"/>
<line x1="91.54" y1="611.7" x2="91.54" y2="613.9" stroke="#d77a98" stroke-width="0.35"/>
<line x1="92.48" y1="611.7" x2="92.48" y2="612.9" stroke="#d77a98" stroke-width="0.35"/>
<line x1="93.43" y1="611.7" x2="93.43" y2="612.9" stroke="#d77a98" stroke-width="0.35"/>
<line x1="94.37" y1="611.7" x2="94.37" y2="612.9" stroke="#d77a98" stroke-width="0.35"/>
<line x1="95.32" y1="611.7" x2="95.32" y2="612.9" stroke="#d77a98" stroke-width="0.35"/>
<line x1="96.26" y1="611.7" x2="96.26" y2="614.9" stroke="#d77a98" stroke-width="0.35"/>
<line x1="97.2" y1="611.7" x2="97.2" y2="612.9" stroke="#d77a98" stroke-width="0.35"/>
<line x1="98.15" y1="611.7" x2="98.15" y2="612.9" stroke="#d77a98" stroke-width="0.35"/>
<line x1="99.09" y1="611.7" x2="99.09" y2="612.9" stroke="#d77a98" stroke-width="0.35"/>
<line x1="100.04" y1="611.7" x2="100.04" y2="612.9" stroke="#d77a98" stroke-width="0.35"/>
<line x1="100.98" y1="611.7" x2="100.98" y2="613.9" stroke="#d77a98" stroke-width="0.35"/>
<line x1="101.92" y1="611.7" x2="101.92" y2="612.9" stroke="#d77a98" stroke-width="0.35"/>
<line x1="102.87" y1="611.7" x2="102.87" y2="612.9" stroke="#d77a98" stroke-width="0.35"/>
<line x1="103.81" y1="611.7" x2="103.81" y2="612.9" stroke="#d77a98" stroke-width="0.35"/>
<line x1="104.76" y1="611.7" x2="104.76" y2="612.9" stroke="#d77a98" stroke-width="0.35"/>
<line x1="105.7" y1="611.7" x2="105.7" y2="614.9" stroke="#d77a98" stroke-width="0.35"/>
<line x1="106.64" y1="611.7" x2="106.64" y2="612.9" stroke="#d77a98" stroke-width="0.35"/>
<line x1="107.59" y1="611.7" x2="107.59" y2="612.9" stroke="#d77a98" stroke-width="0.35"/>
<line x1="108.53" y1="611.7" x2="108.53" y2="612.9" stroke="#d77a98" stroke-width="0.35"/>
<line x1="109.48" y1="611.7" x2="109.48" y2="612.9" stroke="#d77a98" stroke-width="0.35"/>
<line x1="110.42" y1="611.7" x2="110.42" y2="613.9" stroke="#d77a98" stroke-width="0.35"/>
<line x1="111.36" y1="611.7" x2="111.36" y2="612.9" stroke="#d77a98" stroke-width="0.35"/>
<line x1="112.31" y1="611.7" x2="112.31" y2="612.9" stroke="#d77a98" stroke-width="0.35"/>
<line x1="113.25" y1="611.7" x2="113.25" y2="612.9" stroke="#d77a98" stroke-width="0.35"/>
<line x1="114.2" y1="611.7" x2="114.2" y2="612.9" stroke="#d77a98" stroke-width="0.35"/>
<line x1="115.14" y1="611.7" x2="115.14" y2="614.9" stroke="#d77a98" stroke-width="0.35"/>
<line x1="116.08" y1="611.7" x2="116.08" y2="612.9" stroke="#d77a98" stroke-width="0.35"/>
<line x1="117.03" y1="611.7" x2="117.03" y2="612.9" stroke="#d77a98" stroke-width="0.35"/>
<line x1="117.97" y1="611.7" x2="117.97" y2="612.9" stroke="#d77a98" stroke-width="0.35"/>
<line x1="118.92" y1="611.7" x2="118.92" y2="612.9" stroke="#d77a98" stroke-width="0.35"/>
<line x1="119.86" y1="611.7" x2="119.86" y2="613.9" stroke="#d77a98" stroke-width="0.35"/>
<line x1="120.8" y1="611.7" x2="120.8" y2="612.9" stroke="#d77a98" stroke-width="0.35"/>
<line x1="121.75" y1="611.7" x2="121.75" y2="612.9" stroke="#d77a98" stroke-width="0.35"/>
<line x1="122.69" y1="611.7" x2="122.69" y2="612.9" stroke="#d77a98" stroke-width="0.35"/>
<line x1="123.64" y1="611.7" x2="123.64" y2="612.9" stroke="#d77a98" stroke-width="0.35"/>
<line x1="124.58" y1="611.7" x2="124.58" y2="614.9" stroke="#d77a98" stroke-width="0.35"/>
<line x1="125.52" y1="611.7" x2="125.52" y2="612.9" stroke="#d77a98" stroke-width="0.35"/>
<line x1="126.47" y1="611.7" x2="126.47" y2="612.9" stroke="#d77a98" stroke-width="0.35"/>
<line x1="127.41" y1="611.7" x2="127.41" y2="612.9" stroke="#d77a98" stroke-width="0.35"/>
<line x1="128.36" y1="611.7" x2="128.36" y2="612.9" stroke="#d77a98" stroke-width="0.35"/>
<line x1="129.3" y1="611.7" x2="129.3" y2="613.9" stroke="#d77a98" stroke-width="0.35"/>
<line x1="130.24" y1="611.7" x2="130.24" y2="612.9" stroke="#d77a98" stroke-width="0.35"/>
<line x1="131.19" y1="611.7" x2="131.19" y2="612.9" stroke="#d77a98" stroke-width="0.35"/>
<line x1="132.13" y1="611.7" x2="132.13" y2="612.9" stroke="#d77a98" stroke-width="0.35"/>
<line x1="133.08" y1="611.7" x2="133.08" y2="612.9" stroke="#d77a98" stroke-width="0.35"/>
<line x1="134.02" y1="611.7" x2="134.02" y2="614.9" stroke="#d77a98" stroke-width="0.35"/>
<line x1="134.96" y1="611.7" x2="134.96" y2="612.9" stroke="#d77a98" stroke-width="0.35"/>
<line x1="135.91" y1="611.7" x2="135.91" y2="612.9" stroke="#d77a98" stroke-width="0.35"/>
<line x1="136.85" y1="611.7" x2="136.85" y2="612.9" stroke="#d77a98" stroke-width="0.35"/>
<line x1="137.8" y1="611.7" x2="137.8" y2="612.9" stroke="#d77a98" stroke-width="0.35"/>
<line x1="138.74" y1="611.7" x2="138.74" y2="613.9" stroke="#d77a98" stroke-width="0.35"/>
<line x1="139.68" y1="611.7" x2="139.68" y2="612.9" stroke="#d77a98" stroke-width="0.35"/>
<line x1="140.63" y1="611.7" x2="140.63" y2="612.9" stroke="#d77a98" stroke-width="0.35"/>
<line x1="141.57" y1="611.7" x2="141.57" y2="612.9" stroke="#d77a98" stroke-width="0.35"/>
<line x1="142.52" y1="611.7" x2="142.52" y2="612.9" stroke="#d77a98" stroke-width="0.35"/>
<line x1="143.46" y1="611.7" x2="143.46" y2="614.9" stroke="#d77a98" stroke-width="0.35"/>
<line x1="144.4" y1="611.7" x2="144.4" y2="612.9" stroke="#d77a98" stroke-width="0.35"/>
<line x1="145.35" y1="611.7" x2="145.35" y2="612.9" stroke="#d77a98" stroke-width="0.35"/>
<line x1="146.29" y1="611.7" x2="146.29" y2="612.9" stroke="#d77a98" stroke-width="0.35"/>
<line x1="147.24" y1="611.7" x2="147.24" y2="612.9" stroke="#d77a98" stroke-width="0.35"/>
<line x1="148.18" y1="611.7" x2="148.18" y2="613.9" stroke="#d77a98" stroke-width="0.35"/>
<line x1="149.12" y1="611.7" x2="149.12" y2="612.9" stroke="#d77a98" stroke-width="0.35"/>
<line x1="150.07" y1="611.7" x2="150.07" y2="612.9" stroke="#d77a98" stroke-width="0.35"/>
<line x1="151.01" y1="611.7" x2="151.01" y2="612.9" stroke="#d77a98" stroke-width="0.35"/>
<line x1="151.96" y1="611.7" x2="151.96" y2="612.9" stroke="#d77a98" stroke-width="0.35"/>
<line x1="152.9" y1="611.7" x2="152.9" y2="614.9" stroke="#d77a98" stroke-width="0.35"/>
<line x1="153.84" y1="611.7" x2="153.84" y2="612.9" stroke="#d77a98" stroke-width="0.35"/>
<line x1="154.79" y1="611.7" x2="154.79" y2="612.9" stroke="#d77a98" stroke-width="0.35"/>
<line x1="155.73" y1="611.7" x2="155.73" y2="612.9" stroke="#d77a98" stroke-width="0.35"/>
<line x1="156.68" y1="611.7" x2="156.68" y2="612.9" stroke="#d77a98" stroke-width="0.35"/>
<line x1="157.62" y1="611.7" x2="157.62" y2="613.9" stroke="#d77a98" stroke-width="0.35"/>
<line x1="158.56" y1="611.7" x2="158.56" y2="612.9" stroke="#d77a98" stroke-width="0.35"/>
<line x1="159.51" y1="611.7" x2="159.51" y2="612.9" stroke="#d77a98" stroke-width="0.35"/>
<line x1="160.45" y1="611.7" x2="160.45" y2="612.9" stroke="#d77a98" stroke-width="0.35"/>
<line x1="161.4" y1="611.7" x2="161.4" y2="612.9" stroke="#d77a98" stroke-width="0.35"/>
<line x1="162.34" y1="611.7" x2="162.34" y2="614.9" stroke="#d77a98" stroke-width="0.35"/>
<line x1="163.28" y1="611.7" x2="163.28" y2="612.9" stroke="#d77a98" stroke-width="0.35"/>
<line x1="164.23" y1="611.7" x2="164.23" y2="612.9" stroke="#d77a98" stroke-width="0.35"/>
<line x1="165.17" y1="611.7" x2="165.17" y2="612.9" stroke="#d77a98" stroke-width="0.35"/>
<line x1="166.12" y1="611.7" x2="166.12" y2="612.9" stroke="#d77a98" stroke-width="0.35"/>
<line x1="167.06" y1="611.7" x2="167.06" y2="613.9" stroke="#d77a98" stroke-width="0.35"/>
<line x1="168" y1="611.7" x2="168" y2="612.9" stroke="#d77a98" stroke-width="0.35"/>
<line x1="168.95" y1="611.7" x2="168.95" y2="612.9" stroke="#d77a98" stroke-width="0.35"/>
<line x1="169.89" y1="611.7" x2="169.89" y2="612.9" stroke="#d77a98" stroke-width="0.35"/>
<line x1="170.84" y1="611.7" x2="170.84" y2="612.9" stroke="#d77a98" stroke-width="0.35"/>
<line x1="171.78" y1="611.7" x2="171.78" y2="614.9" stroke="#d77a98" stroke-width="0.35"/>
<line x1="172.72" y1="611.7" x2="172.72" y2="612.9" stroke="#d77a98" stroke-width="0.35"/>
<line x1="173.67" y1="611.7" x2="173.67" y2="612.9" stroke="#d77a98" stroke-width="0.35"/>
<line x1="174.61" y1="611.7" x2="174.61" y2="612.9" stroke="#d77a98" stroke-width="0.35"/>
<line x1="175.56" y1="611.7" x2="175.56" y2="612.9" stroke="#d77a98" stroke-width="0.35"/>
<line x1="176.5" y1="611.7" x2="176.5" y2="613.9" stroke="#d77a98" stroke-width="0.35"/>
<line x1="177.44" y1="611.7" x2="177.44" y2="612.9" stroke="#d77a98" stroke-width="0.35"/>
<line x1="178.39" y1="611.7" x2="178.39" y2="612.9" stroke="#d77a98" stroke-width="0.35"/>
<line x1="179.33" y1="611.7" x2="179.33" y2="612.9" stroke="#d77a98" stroke-width="0.35"/>
<line x1="180.28" y1="611.7" x2="180.28" y2="612.9" stroke="#d77a98" stroke-width="0.35"/>
<line x1="181.22" y1="611.7" x2="181.22" y2="614.9" stroke="#d77a98" stroke-width="0.35"/>
<line x1="182.16" y1="611.7" x2="182.16" y2="612.9" stroke="#d77a98" stroke-width="0.35"/>
<line x1="183.11" y1="611.7" x2="183.11" y2="612.9" stroke="#d77a98" stroke-width="0.35"/>
<line x1="184.05" y1="611.7" x2="184.05" y2="612.9" stroke="#d77a98" stroke-width="0.35"/>
<line x1="185" y1="611.7" x2="185" y2="612.9" stroke="#d77a98" stroke-width="0.35"/>
<line x1="185.94" y1="611.7" x2="185.94" y2="613.9" stroke="#d77a98" stroke-width="0.35"/>
<line x1="186.88" y1="611.7" x2="186.88" y2="612.9" stroke="#d77a98" stroke-width="0.35"/>
<line x1="187.83" y1="611.7" x2="187.83" y2="612.9" stroke="#d77a98" stroke-width="0.35"/>
<line x1="188.77" y1="611.7" x2="188.77" y2="612.9" stroke="#d77a98" stroke-width="0.35"/>
<line x1="189.72" y1="611.7" x2="189.72" y2="612.9" stroke="#d77a98" stroke-width="0.35"/>
<line x1="190.66" y1="611.7" x2="190.66" y2="614.9" stroke="#d77a98" stroke-width="0.35"/>
<line x1="191.6" y1="611.7" x2="191.6" y2="612.9" stroke="#d77a98" stroke-width="0.35"/>
<line x1="192.55" y1="611.7" x2="192.55" y2="612.9" stroke="#d77a98" stroke-width="0.35"/>
<line x1="193.49" y1="611.7" x2="193.49" y2="612.9" stroke="#d77a98" stroke-width="0.35"/>
<line x1="194.44" y1="611.7" x2="194.44" y2="612.9" stroke="#d77a98" stroke-width="0.35"/>
<line x1="195.38" y1="611.7" x2="195.38" y2="613.9" stroke="#d77a98" stroke-width="0.35"/>
<line x1="196.32" y1="611.7" x2="196.32" y2="612.9" stroke="#d77a98" stroke-width="0.35"/>
<line x1="197.27" y1="611.7" x2="197.27" y2="612.9" stroke="#d77a98" stroke-width="0.35"/>
<line x1="198.21" y1="611.7" x2="198.21" y2="612.9" stroke="#d77a98" stroke-width="0.35"/>
<line x1="199.16" y1="611.7" x2="199.16" y2="612.9" stroke="#d77a98" stroke-width="0.35"/>
<line x1="200.1" y1="611.7" x2="200.1" y2="614.9" stroke="#d77a98" stroke-width="0.35"/>
<line x1="201.04" y1="611.7" x2="201.04" y2="612.9" stroke="#d77a98" stroke-width="0.35"/>
<line x1="201.99" y1="611.7" x2="201.99" y2="612.9" stroke="#d77a98" stroke-width="0.35"/>
<line x1="202.93" y1="611.7" x2="202.93" y2="612.9" stroke="#d77a98" stroke-width="0.35"/>
<line x1="203.88" y1="611.7" x2="203.88" y2="612.9" stroke="#d77a98" stroke-width="0.35"/>
<line x1="204.82" y1="611.7" x2="204.82" y2="613.9" stroke="#d77a98" stroke-width="0.35"/>
<line x1="205.76" y1="611.7" x2="205.76" y2="612.9" stroke="#d77a98" stroke-width="0.35"/>
<line x1="206.71" y1="611.7" x2="206.71" y2="612.9" stroke="#d77a98" stroke-width="0.35"/>
<line x1="207.65" y1="611.7" x2="207.65" y2="612.9" stroke="#d77a98" stroke-width="0.35"/>
<line x1="208.6" y1="611.7" x2="208.6" y2="612.9" stroke="#d77a98" stroke-width="0.35"/>
<line x1="209.54" y1="611.7" x2="209.54" y2="614.9" stroke="#d77a98" stroke-width="0.35"/>
<line x1="210.48" y1="611.7" x2="210.48" y2="612.9" stroke="#d77a98" stroke-width="0.35"/>
<line x1="211.43" y1="611.7" x2="211.43" y2="612.9" stroke="#d77a98" stroke-width="0.35"/>
<line x1="212.37" y1="611.7" x2="212.37" y2="612.9" stroke="#d77a98" stroke-width="0.35"/>
<line x1="213.32" y1="611.7" x2="213.32" y2="612.9" stroke="#d77a98" stroke-width="0.35"/>
<line x1="214.26" y1="611.7" x2="214.26" y2="613.9" stroke="#d77a98" stroke-width="0.35"/>
<line x1="215.2" y1="611.7" x2="215.2" y2="612.9" stroke="#d77a98" stroke-width="0.35"/>
<line x1="216.15" y1="611.7" x2="216.15" y2="612.9" stroke="#d77a98" stroke-width="0.35"/>
<line x1="217.09" y1="611.7" x2="217.09" y2="612.9" stroke="#d77a98" stroke-width="0.35"/>
<line x1="218.04" y1="611.7" x2="218.04" y2="612.9" stroke="#d77a98" stroke-width="0.35"/>
<line x1="218.98" y1="611.7" x2="218.98" y2="614.9" stroke="#d77a98" stroke-width="0.35"/>
<line x1="219.92" y1="611.7" x2="219.92" y2="612.9" stroke="#d77a98" stroke-width="0.35"/>
<line x1="220.87" y1="611.7" x2="220.87" y2="612.9" stroke="#d77a98" stroke-width="0.35"/>
<line x1="221.81" y1="611.7" x2="221.81" y2="612.9" stroke="#d77a98" stroke-width="0.35"/>
<line x1="222.76" y1="611.7" x2="222.76" y2="612.9" stroke="#d77a98" stroke-width="0.35"/>
<line x1="223.7" y1="611.7" x2="223.7" y2="613.9" stroke="#d77a98" stroke-width="0.35"/>
<line x1="224.64" y1="611.7" x2="224.64" y2="612.9" stroke="#d77a98" stroke-width="0.35"/>
<line x1="225.59" y1="611.7" x2="225.59" y2="612.9" stroke="#d77a98" stroke-width="0.35"/>
<line x1="226.53" y1="611.7" x2="226.53" y2="612.9" stroke="#d77a98" stroke-width="0.35"/>
<line x1="227.48" y1="611.7" x2="227.48" y2="612.9" stroke="#d77a98" stroke-width="0.35"/>
<line x1="228.42" y1="611.7" x2="228.42" y2="614.9" stroke="#d77a98" stroke-width="0.35"/>
<line x1="229.36" y1="611.7" x2="229.36" y2="612.9" stroke="#d77a98" stroke-width="0.35"/>
<line x1="230.31" y1="611.7" x2="230.31" y2="612.9" stroke="#d77a98" stroke-width="0.35"/>
<line x1="231.25" y1="611.7" x2="231.25" y2="612.9" stroke="#d77a98" stroke-width="0.35"/>
<line x1="232.2" y1="611.7" x2="232.2" y2="612.9" stroke="#d77a98" stroke-width="0.35"/>
<line x1="233.14" y1="611.7" x2="233.14" y2="613.9" stroke="#d77a98" stroke-width="0.35"/>
<line x1="234.08" y1="611.7" x2="234.08" y2="612.9" stroke="#d77a98" stroke-width="0.35"/>
<line x1="235.03" y1="611.7" x2="235.03" y2="612.9" stroke="#d77a98" stroke-width="0.35"/>
<line x1="235.97" y1="611.7" x2="235.97" y2="612.9" stroke="#d77a98" stroke-width="0.35"/>
<line x1="236.92" y1="611.7" x2="236.92" y2="612.9" stroke="#d77a98" stroke-width="0.35"/>
<line x1="237.86" y1="611.7" x2="237.86" y2="614.9" stroke="#d77a98" stroke-width="0.35"/>
<line x1="238.8" y1="611.7" x2="238.8" y2="612.9" stroke="#d77a98" stroke-width="0.35"/>
<line x1="239.75" y1="611.7" x2="239.75" y2="612.9" stroke="#d77a98" stroke-width="0.35"/>
<line x1="240.69" y1="611.7" x2="240.69" y2="612.9" stroke="#d77a98" stroke-width="0.35"/>
<line x1="241.64" y1="611.7" x2="241.64" y2="612.9" stroke="#d77a98" stroke-width="0.35"/>
<line x1="242.58" y1="611.7" x2="242.58" y2="613.9" stroke="#d77a98" stroke-width="0.35"/>
<line x1="243.52" y1="611.7" x2="243.52" y2="612.9" stroke="#d77a98" stroke-width="0.35"/>
<line x1="244.47" y1="611.7" x2="244.47" y2="612.9" stroke="#d77a98" stroke-width="0.35"/>
<line x1="245.41" y1="611.7" x2="245.41" y2="612.9" stroke="#d77a98" stroke-width="0.35"/>
<line x1="246.36" y1="611.7" x2="246.36" y2="612.9" stroke="#d77a98" stroke-width="0.35"/>
<line x1="247.3" y1="611.7" x2="247.3" y2="614.9" stroke="#d77a98" stroke-width="0.35"/>
<line x1="248.24" y1="611.7" x2="248.24" y2="612.9" stroke="#d77a98" stroke-width="0.35"/>
<line x1="249.19" y1="611.7" x2="249.19" y2="612.9" stroke="#d77a98" stroke-width="0.35"/>
<line x1="250.13" y1="611.7" x2="250.13" y2="612.9" stroke="#d77a98" stroke-width="0.35"/>
<line x1="251.08" y1="611.7" x2="251.08" y2="612.9" stroke="#d77a98" stroke-width="0.35"/>
<line x1="252.02" y1="611.7" x2="252.02" y2="613.9" stroke="#d77a98" stroke-width="0.35"/>
<line x1="252.96" y1="611.7" x2="252.96" y2="612.9" stroke="#d77a98" stroke-width="0.35"/>
<line x1="253.91" y1="611.7" x2="253.91" y2="612.9" stroke="#d77a98" stroke-width="0.35"/>
<line x1="254.85" y1="611.7" x2="254.85" y2="612.9" stroke="#d77a98" stroke-width="0.35"/>
<line x1="255.8" y1="611.7" x2="255.8" y2="612.9" stroke="#d77a98" stroke-width="0.35"/>
<line x1="256.74" y1="611.7" x2="256.74" y2="614.9" stroke="#d77a98" stroke-width="0.35"/>
<line x1="257.68" y1="611.7" x2="257.68" y2="612.9" stroke="#d77a98" stroke-width="0.35"/>
<line x1="258.63" y1="611.7" x2="258.63" y2="612.9" stroke="#d77a98" stroke-width="0.35"/>
<line x1="259.57" y1="611.7" x2="259.57" y2="612.9" stroke="#d77a98" stroke-width="0.35"/>
<line x1="260.52" y1="611.7" x2="260.52" y2="612.9" stroke="#d77a98" stroke-width="0.35"/>
<line x1="261.46" y1="611.7" x2="261.46" y2="613.9" stroke="#d77a98" stroke-width="0.35"/>
<line x1="262.4" y1="611.7" x2="262.4" y2="612.9" stroke="#d77a98" stroke-width="0.35"/>
<line x1="263.35" y1="611.7" x2="263.35" y2="612.9" stroke="#d77a98" stroke-width="0.35"/>
<line x1="264.29" y1="611.7" x2="264.29" y2="612.9" stroke="#d77a98" stroke-width="0.35"/>
<line x1="265.24" y1="611.7" x2="265.24" y2="612.9" stroke="#d77a98" stroke-width="0.35"/>
<line x1="266.18" y1="611.7" x2="266.18" y2="614.9" stroke="#d77a98" stroke-width="0.35"/>
<line x1="267.12" y1="611.7" x2="267.12" y2="612.9" stroke="#d77a98" stroke-width="0.35"/>
<line x1="268.07" y1="611.7" x2="268.07" y2="612.9" stroke="#d77a98" stroke-width="0.35"/>
<line x1="269.01" y1="611.7" x2="269.01" y2="612.9" stroke="#d77a98" stroke-width="0.35"/>
<line x1="269.96" y1="611.7" x2="269.96" y2="612.9" stroke="#d77a98" stroke-width="0.35"/>
<line x1="270.9" y1="611.7" x2="270.9" y2="613.9" stroke="#d77a98" stroke-width="0.35"/>
<line x1="271.84" y1="611.7" x2="271.84" y2="612.9" stroke="#d77a98" stroke-width="0.35"/>
<line x1="272.79" y1="611.7" x2="272.79" y2="612.9" stroke="#d77a98" stroke-width="0.35"/>
<line x1="273.73" y1="611.7" x2="273.73" y2="612.9" stroke="#d77a98" stroke-width="0.35"/>
<line x1="274.68" y1="611.7" x2="274.68" y2="612.9" stroke="#d77a98" stroke-width="0.35"/>
<line x1="275.62" y1="611.7" x2="275.62" y2="614.9" stroke="#d77a98" stroke-width="0.35"/>
<line x1="276.56" y1="611.7" x2="276.56" y2="612.9" stroke="#d77a98" stroke-width="0.35"/>
<line x1="277.51" y1="611.7" x2="277.51" y2="612.9" stroke="#d77a98" stroke-width="0.35"/>
<line x1="278.45" y1="611.7" x2="278.45" y2="612.9" stroke="#d77a98" stroke-width="0.35"/>
<line x1="279.4" y1="611.7" x2="279.4" y2="612.9" stroke="#d77a98" stroke-width="0.35"/>
<line x1="280.34" y1="611.7" x2="280.34" y2="613.9" stroke="#d77a98" stroke-width="0.35"/>
<line x1="281.28" y1="611.7" x2="281.28" y2="612.9" stroke="#d77a98" stroke-width="0.35"/>
<line x1="282.23" y1="611.7" x2="282.23" y2="612.9" stroke="#d77a98" stroke-width="0.35"/>
<line x1="283.17" y1="611.7" x2="283.17" y2="612.9" stroke="#d77a98" stroke-width="0.35"/>
<line x1="284.12" y1="611.7" x2="284.12" y2="612.9" stroke="#d77a98" stroke-width="0.35"/>
<line x1="285.06" y1="611.7" x2="285.06" y2="614.9" stroke="#d77a98" stroke-width="0.35"/>
<line x1="286" y1="611.7" x2="286" y2="612.9" stroke="#d77a98" stroke-width="0.35"/>
<line x1="286.95" y1="611.7" x2="286.95" y2="612.9" stroke="#d77a98" stroke-width="0.35"/>
<line x1="287.89" y1="611.7" x2="287.89" y2="612.9" stroke="#d77a98" stroke-width="0.35"/>
<line x1="288.84" y1="611.7" x2="288.84" y2="612.9" stroke="#d77a98" stroke-width="0.35"/>
<line x1="289.78" y1="611.7" x2="289.78" y2="613.9" stroke="#d77a98" stroke-width="0.35"/>
<line x1="290.72" y1="611.7" x2="290.72" y2="612.9" stroke="#d77a98" stroke-width="0.35"/>
<line x1="291.67" y1="611.7" x2="291.67" y2="612.9" stroke="#d77a98" stroke-width="0.35"/>
<line x1="292.61" y1="611.7" x2="292.61" y2="612.9" stroke="#d77a98" stroke-width="0.35"/>
<line x1="293.56" y1="611.7" x2="293.56" y2="612.9" stroke="#d77a98" stroke-width="0.35"/>
<line x1="294.5" y1="611.7" x2="294.5" y2="614.9" stroke="#d77a98" stroke-width="0.35"/>
<line x1="295.44" y1="611.7" x2="295.44" y2="612.9" stroke="#d77a98" stroke-width="0.35"/>
<line x1="296.39" y1="611.7" x2="296.39" y2="612.9" stroke="#d77a98" stroke-width="0.35"/>
<line x1="297.33" y1="611.7" x2="297.33" y2="612.9" stroke="#d77a98" stroke-width="0.35"/>
<line x1="298.28" y1="611.7" x2="298.28" y2="612.9" stroke="#d77a98" stroke-width="0.35"/>
<line x1="299.22" y1="611.7" x2="299.22" y2="613.9" stroke="#d77a98" stroke-width="0.35"/>
<line x1="300.16" y1="611.7" x2="300.16" y2="612.9" stroke="#d77a98" stroke-width="0.35"/>
<line x1="301.11" y1="611.7" x2="301.11" y2="612.9" stroke="#d77a98" stroke-width="0.35"/>
<line x1="302.05" y1="611.7" x2="302.05" y2="612.9" stroke="#d77a98" stroke-width="0.35"/>
<line x1="303" y1="611.7" x2="303" y2="612.9" stroke="#d77a98" stroke-width="0.35"/>
<line x1="303.94" y1="611.7" x2="303.94" y2="614.9" stroke="#d77a98" stroke-width="0.35"/>
<line x1="304.88" y1="611.7" x2="304.88" y2="612.9" stroke="#d77a98" stroke-width="0.35"/>
<line x1="305.83" y1="611.7" x2="305.83" y2="612.9" stroke="#d77a98" stroke-width="0.35"/>
<line x1="306.77" y1="611.7" x2="306.77" y2="612.9" stroke="#d77a98" stroke-width="0.35"/>
<line x1="307.72" y1="611.7" x2="307.72" y2="612.9" stroke="#d77a98" stroke-width="0.35"/>
<line x1="308.66" y1="611.7" x2="308.66" y2="613.9" stroke="#d77a98" stroke-width="0.35"/>
<line x1="309.6" y1="611.7" x2="309.6" y2="612.9" stroke="#d77a98" stroke-width="0.35"/>
<line x1="310.55" y1="611.7" x2="310.55" y2="612.9" stroke="#d77a98" stroke-width="0.35"/>
<line x1="311.49" y1="611.7" x2="311.49" y2="612.9" stroke="#d77a98" stroke-width="0.35"/>
<text x="58.5" y="622.3" font-size="5.6" text-anchor="middle" fill="#d3577c" transform="translate(0 -37.34) scale(1 1.06)">0</text>
<text x="67.94" y="622.3" font-size="5.6" text-anchor="middle" fill="#d3577c" transform="translate(0 -37.34) scale(1 1.06)">1</text>
<text x="77.38" y="622.3" font-size="5.6" text-anchor="middle" fill="#d3577c" transform="translate(0 -37.34) scale(1 1.06)">2</text>
<text x="86.82" y="622.3" font-size="5.6" text-anchor="middle" fill="#d3577c" transform="translate(0 -37.34) scale(1 1.06)">3</text>
<text x="96.26" y="622.3" font-size="5.6" text-anchor="middle" fill="#d3577c" transform="translate(0 -37.34) scale(1 1.06)">4</text>
<text x="105.7" y="622.3" font-size="5.6" text-anchor="middle" fill="#d3577c" transform="translate(0 -37.34) scale(1 1.06)">5</text>
<text x="115.14" y="622.3" font-size="5.6" text-anchor="middle" fill="#d3577c" transform="translate(0 -37.34) scale(1 1.06)">6</text>
<text x="124.58" y="622.3" font-size="5.6" text-anchor="middle" fill="#d3577c" transform="translate(0 -37.34) scale(1 1.06)">7</text>
<text x="134.02" y="622.3" font-size="5.6" text-anchor="middle" fill="#d3577c" transform="translate(0 -37.34) scale(1 1.06)">8</text>
<text x="143.46" y="622.3" font-size="5.6" text-anchor="middle" fill="#d3577c" transform="translate(0 -37.34) scale(1 1.06)">9</text>
<text x="152.9" y="622.3" font-size="5.6" text-anchor="middle" fill="#d3577c" transform="translate(0 -37.34) scale(1 1.06)">10</text>
<text x="162.34" y="622.3" font-size="5.6" text-anchor="middle" fill="#d3577c" transform="translate(0 -37.34) scale(1 1.06)">11</text>
<text x="171.78" y="622.3" font-size="5.6" text-anchor="middle" fill="#d3577c" transform="translate(0 -37.34) scale(1 1.06)">12</text>
<text x="181.22" y="622.3" font-size="5.6" text-anchor="middle" fill="#d3577c" transform="translate(0 -37.34) scale(1 1.06)">13</text>
<text x="190.66" y="622.3" font-size="5.6" text-anchor="middle" fill="#d3577c" transform="translate(0 -37.34) scale(1 1.06)">14</text>
<text x="200.1" y="622.3" font-size="5.6" text-anchor="middle" fill="#d3577c" transform="translate(0 -37.34) scale(1 1.06)">15</text>
<text x="209.54" y="622.3" font-size="5.6" text-anchor="middle" fill="#d3577c" transform="translate(0 -37.34) scale(1 1.06)">16</text>
<text x="218.98" y="622.3" font-size="5.6" text-anchor="middle" fill="#d3577c" transform="translate(0 -37.34) scale(1 1.06)">17</text>
<text x="228.42" y="622.3" font-size="5.6" text-anchor="middle" fill="#d3577c" transform="translate(0 -37.34) scale(1 1.06)">18</text>
<text x="237.86" y="622.3" font-size="5.6" text-anchor="middle" fill="#d3577c" transform="translate(0 -37.34) scale(1 1.06)">19</text>
<text x="247.3" y="622.3" font-size="5.6" text-anchor="middle" fill="#d3577c" transform="translate(0 -37.34) scale(1 1.06)">20</text>
<text x="256.74" y="622.3" font-size="5.6" text-anchor="middle" fill="#d3577c" transform="translate(0 -37.34) scale(1 1.06)">21</text>
<text x="266.18" y="622.3" font-size="5.6" text-anchor="middle" fill="#d3577c" transform="translate(0 -37.34) scale(1 1.06)">22</text>
<text x="275.62" y="622.3" font-size="5.6" text-anchor="middle" fill="#d3577c" transform="translate(0 -37.34) scale(1 1.06)">23</text>
<text x="285.06" y="622.3" font-size="5.6" text-anchor="middle" fill="#d3577c" transform="translate(0 -37.34) scale(1 1.06)">24</text>
<text x="294.5" y="622.3" font-size="5.6" text-anchor="middle" fill="#d3577c" transform="translate(0 -37.34) scale(1 1.06)">25</text>
<text x="303.94" y="622.3" font-size="5.6" text-anchor="middle" fill="#d3577c" transform="translate(0 -37.34) scale(1 1.06)">26</text>
<text x="62.2" y="622.3" font-size="4.2" text-anchor="start" fill="#d3577c" transform="translate(0 -37.34) scale(1 1.06)">cm</text>
<text x="122" y="626.5" font-size="4.5" font-weight="bold" text-anchor="middle" fill="#333" transform="translate(0 -37.59) scale(1 1.06)" stroke="#333" stroke-width="0.14">15CM</text>
</g>
<rect x="52.4" y="504.5" width="260.4" height="122.7" fill="none" stroke="#2e2e2e" stroke-width="1.5"/>
<line x1="375.1" y1="516" x2="375.1" y2="589.4" stroke="#222" stroke-width="1.3"/>
<line x1="374.5" y1="589" x2="483.4" y2="589" stroke="#222" stroke-width="1.5"/>
<line x1="372.4" y1="588.6" x2="375.1" y2="588.6" stroke="#222" stroke-width="1.1"/>
<text x="372.2" y="592" font-size="9.9" font-weight="bold" text-anchor="end" fill="#1a1a1a" transform="translate(0 -35.52) scale(1 1.06)" stroke="#1a1a1a" stroke-width="0.14">0.0</text>
<line x1="372.4" y1="570.55" x2="375.1" y2="570.55" stroke="#222" stroke-width="1.1"/>
<text x="372.2" y="573.95" font-size="9.9" font-weight="bold" text-anchor="end" fill="#1a1a1a" transform="translate(0 -34.44) scale(1 1.06)" stroke="#1a1a1a" stroke-width="0.14">0.5</text>
<line x1="372.4" y1="552.5" x2="375.1" y2="552.5" stroke="#222" stroke-width="1.1"/>
<text x="372.2" y="555.9" font-size="9.9" font-weight="bold" text-anchor="end" fill="#1a1a1a" transform="translate(0 -33.35) scale(1 1.06)" stroke="#1a1a1a" stroke-width="0.14">1.0</text>
<line x1="372.4" y1="534.45" x2="375.1" y2="534.45" stroke="#222" stroke-width="1.1"/>
<text x="372.2" y="537.85" font-size="9.9" font-weight="bold" text-anchor="end" fill="#1a1a1a" transform="translate(0 -32.27) scale(1 1.06)" stroke="#1a1a1a" stroke-width="0.14">1.5</text>
<line x1="372.4" y1="516.4" x2="375.1" y2="516.4" stroke="#222" stroke-width="1.1"/>
<text x="372.2" y="519.8" font-size="9.9" font-weight="bold" text-anchor="end" fill="#1a1a1a" transform="translate(0 -31.19) scale(1 1.06)" stroke="#1a1a1a" stroke-width="0.14">2.0</text>
<text x="350.2" y="553.3" font-size="9.8" font-weight="bold" text-anchor="middle" fill="#1a1a1a" transform="translate(350.2 553.3) rotate(-90) scale(1 1.06) translate(-350.2 -553.3)" stroke="#1a1a1a" stroke-width="0.14">Tumor weight (g)</text>
<line x1="382.8" y1="589" x2="382.8" y2="591.5" stroke="#222" stroke-width="1"/>
<line x1="400.8" y1="589" x2="400.8" y2="591.5" stroke="#222" stroke-width="1"/>
<line x1="418.8" y1="589" x2="418.8" y2="591.5" stroke="#222" stroke-width="1"/>
<line x1="437.4" y1="589" x2="437.4" y2="591.5" stroke="#222" stroke-width="1"/>
<line x1="455.5" y1="589" x2="455.5" y2="591.5" stroke="#222" stroke-width="1"/>
<line x1="473.7" y1="589" x2="473.7" y2="591.5" stroke="#222" stroke-width="1"/>
<text x="338.8" y="603.2" font-size="9.4" font-weight="bold" text-anchor="start" fill="#1a1a1a" transform="translate(0 -36.19) scale(1 1.06)" stroke="#1a1a1a" stroke-width="0.14">shUFL1</text>
<text x="382.8" y="603.2" font-size="9.4" font-weight="bold" text-anchor="middle" fill="#1a1a1a" transform="translate(0 -36.19) scale(1 1.06)" stroke="#1a1a1a" stroke-width="0.14">C</text>
<text x="400.8" y="603.2" font-size="9.4" font-weight="bold" text-anchor="middle" fill="#1a1a1a" transform="translate(0 -36.19) scale(1 1.06)" stroke="#1a1a1a" stroke-width="0.14">#1</text>
<text x="418.8" y="603.2" font-size="9.4" font-weight="bold" text-anchor="middle" fill="#1a1a1a" transform="translate(0 -36.19) scale(1 1.06)" stroke="#1a1a1a" stroke-width="0.14">#2</text>
<text x="437.4" y="603.2" font-size="9.4" font-weight="bold" text-anchor="middle" fill="#1a1a1a" transform="translate(0 -36.19) scale(1 1.06)" stroke="#1a1a1a" stroke-width="0.14">C</text>
<text x="455.5" y="603.2" font-size="9.4" font-weight="bold" text-anchor="middle" fill="#1a1a1a" transform="translate(0 -36.19) scale(1 1.06)" stroke="#1a1a1a" stroke-width="0.14">#1</text>
<text x="473.7" y="603.2" font-size="9.4" font-weight="bold" text-anchor="middle" fill="#1a1a1a" transform="translate(0 -36.19) scale(1 1.06)" stroke="#1a1a1a" stroke-width="0.14">#2</text>
<line x1="379.6" y1="605.9" x2="423.4" y2="605.9" stroke="#222" stroke-width="1.1"/>
<line x1="436.1" y1="605.9" x2="478.5" y2="605.9" stroke="#222" stroke-width="1.1"/>
<text x="402" y="615.8" font-size="9.9" font-weight="bold" text-anchor="middle" fill="#1a1a1a" transform="translate(0 -36.95) scale(1 1.06)" stroke="#1a1a1a" stroke-width="0.14">Saline</text>
<text x="457.7" y="615.8" font-size="9.9" font-weight="bold" text-anchor="middle" fill="#1a1a1a" transform="translate(0 -36.95) scale(1 1.06)" stroke="#1a1a1a" stroke-width="0.14">Cisplatin</text>
<circle cx="376.26" cy="538.06" r="2.7" fill="#2d4f86"/>
<circle cx="378.39" cy="533.73" r="2.7" fill="#2d4f86"/>
<circle cx="380.46" cy="538.78" r="2.7" fill="#2d4f86"/>
<circle cx="381.54" cy="535.53" r="2.7" fill="#2d4f86"/>
<circle cx="383.69" cy="534.45" r="2.7" fill="#2d4f86"/>
<circle cx="385.78" cy="536.98" r="2.7" fill="#2d4f86"/>
<circle cx="386.98" cy="536.25" r="2.7" fill="#2d4f86"/>
<circle cx="389.07" cy="537.34" r="2.7" fill="#2d4f86"/>
<line x1="377.3" y1="536.62" x2="388.3" y2="536.62" stroke="#111" stroke-width="1.6"/>
<line x1="382.8" y1="537.7" x2="382.8" y2="535.53" stroke="#111" stroke-width="1"/>
<line x1="380.3" y1="535.53" x2="385.3" y2="535.53" stroke="#111" stroke-width="1"/>
<line x1="380.3" y1="537.7" x2="385.3" y2="537.7" stroke="#111" stroke-width="1"/>
<rect x="393.04" y="563.72" width="5" height="5" fill="#a32a36" stroke="none" stroke-width="1"/>
<rect x="394.78" y="568.05" width="5" height="5" fill="#a32a36" stroke="none" stroke-width="1"/>
<rect x="396.75" y="565.16" width="5" height="5" fill="#a32a36" stroke="none" stroke-width="1"/>
<rect x="398.22" y="573.47" width="5" height="5" fill="#a32a36" stroke="none" stroke-width="1"/>
<rect x="399.57" y="567.33" width="5" height="5" fill="#a32a36" stroke="none" stroke-width="1"/>
<rect x="401.65" y="571.66" width="5" height="5" fill="#a32a36" stroke="none" stroke-width="1"/>
<rect x="403.08" y="568.77" width="5" height="5" fill="#a32a36" stroke="none" stroke-width="1"/>
<line x1="395.3" y1="569.47" x2="406.3" y2="569.47" stroke="#111" stroke-width="1.6"/>
<line x1="400.8" y1="571.27" x2="400.8" y2="567.66" stroke="#111" stroke-width="1"/>
<line x1="398.3" y1="567.66" x2="403.3" y2="567.66" stroke="#111" stroke-width="1"/>
<line x1="398.3" y1="571.27" x2="403.3" y2="571.27" stroke="#111" stroke-width="1"/>
<path d="M413.1,566.83 l2.9,4.8 h-5.8z" fill="#2f9a4a"/>
<path d="M415.75,571.16 l2.9,4.8 h-5.8z" fill="#2f9a4a"/>
<path d="M416.94,568.27 l2.9,4.8 h-5.8z" fill="#2f9a4a"/>
<path d="M418.62,574.05 l2.9,4.8 h-5.8z" fill="#2f9a4a"/>
<path d="M421.01,569.36 l2.9,4.8 h-5.8z" fill="#2f9a4a"/>
<path d="M421.89,569.72 l2.9,4.8 h-5.8z" fill="#2f9a4a"/>
<path d="M423.57,572.6 l2.9,4.8 h-5.8z" fill="#2f9a4a"/>
<line x1="413.3" y1="572.36" x2="424.3" y2="572.36" stroke="#111" stroke-width="1.6"/>
<line x1="418.8" y1="573.8" x2="418.8" y2="570.91" stroke="#111" stroke-width="1"/>
<line x1="416.3" y1="570.91" x2="421.3" y2="570.91" stroke="#111" stroke-width="1"/>
<line x1="416.3" y1="573.8" x2="421.3" y2="573.8" stroke="#111" stroke-width="1"/>
<path d="M432.2,556.22 l2.9,-4.8 h-5.8z" fill="#7a3c9c"/>
<path d="M433.76,567.05 l2.9,-4.8 h-5.8z" fill="#7a3c9c"/>
<path d="M435.4,562.72 l2.9,-4.8 h-5.8z" fill="#7a3c9c"/>
<path d="M437.06,573.55 l2.9,-4.8 h-5.8z" fill="#7a3c9c"/>
<path d="M439.04,564.16 l2.9,-4.8 h-5.8z" fill="#7a3c9c"/>
<path d="M440.77,571.75 l2.9,-4.8 h-5.8z" fill="#7a3c9c"/>
<path d="M442.53,565.61 l2.9,-4.8 h-5.8z" fill="#7a3c9c"/>
<line x1="431.9" y1="562.25" x2="442.9" y2="562.25" stroke="#111" stroke-width="1.6"/>
<line x1="437.4" y1="564.77" x2="437.4" y2="559.72" stroke="#111" stroke-width="1"/>
<line x1="434.9" y1="559.72" x2="439.9" y2="559.72" stroke="#111" stroke-width="1"/>
<line x1="434.9" y1="564.77" x2="439.9" y2="564.77" stroke="#111" stroke-width="1"/>
<circle cx="450.73" cy="586.07" r="2.7" fill="#a8844a"/>
<circle cx="453" cy="584.27" r="2.7" fill="#a8844a"/>
<circle cx="454.17" cy="586.43" r="2.7" fill="#a8844a"/>
<circle cx="456.26" cy="582.82" r="2.7" fill="#a8844a"/>
<circle cx="458.15" cy="584.99" r="2.7" fill="#a8844a"/>
<circle cx="459.39" cy="585.71" r="2.7" fill="#a8844a"/>
<line x1="450" y1="584.63" x2="461" y2="584.63" stroke="#111" stroke-width="1.6"/>
<line x1="455.5" y1="585.35" x2="455.5" y2="583.91" stroke="#111" stroke-width="1"/>
<line x1="453" y1="583.91" x2="458" y2="583.91" stroke="#111" stroke-width="1"/>
<line x1="453" y1="585.35" x2="458" y2="585.35" stroke="#111" stroke-width="1"/>
<rect x="466.47" y="582.49" width="5" height="5" fill="#b9c43a" stroke="none" stroke-width="1"/>
<rect x="468.42" y="578.16" width="5" height="5" fill="#b9c43a" stroke="none" stroke-width="1"/>
<rect x="470.5" y="581.77" width="5" height="5" fill="#b9c43a" stroke="none" stroke-width="1"/>
<rect x="471.66" y="579.6" width="5" height="5" fill="#b9c43a" stroke="none" stroke-width="1"/>
<rect x="474.1" y="583.21" width="5" height="5" fill="#b9c43a" stroke="none" stroke-width="1"/>
<rect x="475.27" y="580.69" width="5" height="5" fill="#b9c43a" stroke="none" stroke-width="1"/>
<line x1="468.2" y1="583.19" x2="479.2" y2="583.19" stroke="#111" stroke-width="1.6"/>
<line x1="473.7" y1="583.91" x2="473.7" y2="582.46" stroke="#111" stroke-width="1"/>
<line x1="471.2" y1="582.46" x2="476.2" y2="582.46" stroke="#111" stroke-width="1"/>
<line x1="471.2" y1="583.91" x2="476.2" y2="583.91" stroke="#111" stroke-width="1"/>
<path d="M382.8,516.7 V513.7 H418.8 V516.7" stroke="#888" fill="none" stroke-width="0.9"/>
<text x="401" y="511.8" font-size="7.4" font-weight="bold" text-anchor="middle" fill="#1a1a1a" transform="translate(0 -30.71) scale(1 1.06)" stroke="#1a1a1a" stroke-width="0.14">P&lt;0.0001</text>
<path d="M382.8,527.5 V524.5 H400.8 V527.5" stroke="#888" fill="none" stroke-width="0.9"/>
<text x="397.3" y="523.2" font-size="7.4" font-weight="bold" text-anchor="middle" fill="#1a1a1a" transform="translate(0 -31.39) scale(1 1.06)" stroke="#1a1a1a" stroke-width="0.14">P&lt;0.0001</text>
<path d="M437.4,536.9 V533.9 H473.7 V536.9" stroke="#888" fill="none" stroke-width="0.9"/>
<text x="455" y="532.5" font-size="7.4" font-weight="bold" text-anchor="middle" fill="#1a1a1a" transform="translate(0 -31.95) scale(1 1.06)" stroke="#1a1a1a" stroke-width="0.14">P&lt;0.0001</text>
<path d="M437.4,547.6 V544.6 H455.5 V547.6" stroke="#888" fill="none" stroke-width="0.9"/>
<text x="450.7" y="542.8" font-size="7.4" font-weight="bold" text-anchor="middle" fill="#1a1a1a" transform="translate(0 -32.57) scale(1 1.06)" stroke="#1a1a1a" stroke-width="0.14">P&lt;0.0001</text>
</svg></body></html>
